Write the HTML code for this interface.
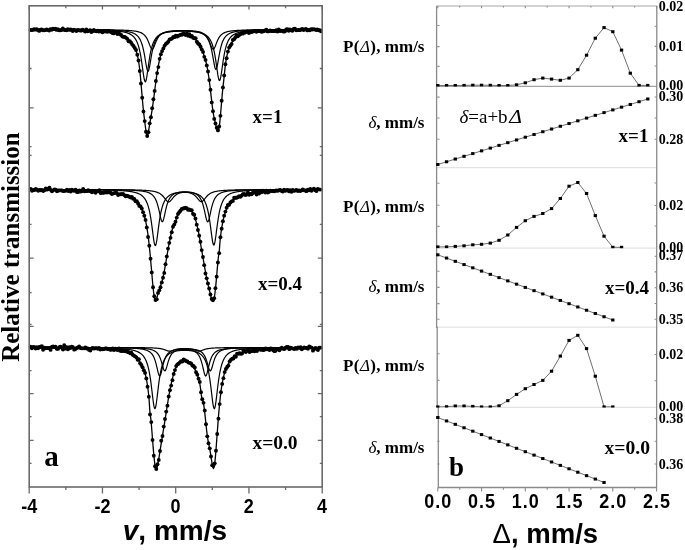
<!DOCTYPE html>
<html><head><meta charset="utf-8"><style>
html,body{margin:0;padding:0;background:#fff;width:685px;height:550px;overflow:hidden}
svg{display:block;filter:blur(0.45px)}
</style></head><body>
<svg width="685" height="550" viewBox="0 0 685 550">
<rect x="0" y="0" width="685" height="550" fill="#fff"/>
<path d="M29.70,29.74 L30.19,29.74 L30.67,29.74 L31.16,29.74 L31.65,29.74 L32.14,29.74 L32.62,29.74 L33.11,29.74 L33.60,29.74 L34.09,29.74 L34.57,29.74 L35.06,29.75 L35.55,29.75 L36.04,29.75 L36.52,29.75 L37.01,29.75 L37.50,29.75 L37.99,29.75 L38.47,29.75 L38.96,29.75 L39.45,29.75 L39.94,29.76 L40.42,29.76 L40.91,29.76 L41.40,29.76 L41.89,29.76 L42.37,29.76 L42.86,29.76 L43.35,29.76 L43.84,29.76 L44.32,29.77 L44.81,29.77 L45.30,29.77 L45.79,29.77 L46.27,29.77 L46.76,29.77 L47.25,29.77 L47.74,29.78 L48.22,29.78 L48.71,29.78 L49.20,29.78 L49.69,29.78 L50.17,29.78 L50.66,29.78 L51.15,29.79 L51.64,29.79 L52.12,29.79 L52.61,29.79 L53.10,29.79 L53.59,29.79 L54.07,29.79 L54.56,29.80 L55.05,29.80 L55.54,29.80 L56.02,29.80 L56.51,29.80 L57.00,29.80 L57.49,29.81 L57.97,29.81 L58.46,29.81 L58.95,29.81 L59.44,29.81 L59.92,29.82 L60.41,29.82 L60.90,29.82 L61.39,29.82 L61.87,29.82 L62.36,29.83 L62.85,29.83 L63.34,29.83 L63.82,29.83 L64.31,29.84 L64.80,29.84 L65.29,29.84 L65.77,29.84 L66.26,29.84 L66.75,29.85 L67.24,29.85 L67.72,29.85 L68.21,29.85 L68.70,29.86 L69.19,29.86 L69.67,29.86 L70.16,29.87 L70.65,29.87 L71.14,29.87 L71.62,29.87 L72.11,29.88 L72.60,29.88 L73.09,29.88 L73.57,29.89 L74.06,29.89 L74.55,29.89 L75.04,29.90 L75.52,29.90 L76.01,29.90 L76.50,29.91 L76.99,29.91 L77.47,29.91 L77.96,29.92 L78.45,29.92 L78.94,29.93 L79.42,29.93 L79.91,29.93 L80.40,29.94 L80.89,29.94 L81.37,29.95 L81.86,29.95 L82.35,29.96 L82.84,29.96 L83.32,29.97 L83.81,29.97 L84.30,29.98 L84.79,29.98 L85.27,29.99 L85.76,29.99 L86.25,30.00 L86.74,30.00 L87.22,30.01 L87.71,30.01 L88.20,30.02 L88.68,30.03 L89.17,30.03 L89.66,30.04 L90.15,30.05 L90.63,30.05 L91.12,30.06 L91.61,30.07 L92.10,30.08 L92.58,30.08 L93.07,30.09 L93.56,30.10 L94.05,30.11 L94.53,30.12 L95.02,30.12 L95.51,30.13 L96.00,30.14 L96.48,30.15 L96.97,30.16 L97.46,30.17 L97.95,30.18 L98.43,30.19 L98.92,30.20 L99.41,30.22 L99.90,30.23 L100.38,30.24 L100.87,30.25 L101.36,30.26 L101.85,30.28 L102.33,30.29 L102.82,30.30 L103.31,30.32 L103.80,30.33 L104.28,30.35 L104.77,30.37 L105.26,30.38 L105.75,30.40 L106.23,30.42 L106.72,30.44 L107.21,30.46 L107.70,30.48 L108.18,30.50 L108.67,30.52 L109.16,30.54 L109.65,30.56 L110.13,30.59 L110.62,30.61 L111.11,30.64 L111.60,30.67 L112.08,30.69 L112.57,30.72 L113.06,30.76 L113.55,30.79 L114.03,30.82 L114.52,30.86 L115.01,30.89 L115.50,30.93 L115.98,30.97 L116.47,31.02 L116.96,31.06 L117.45,31.11 L117.93,31.16 L118.42,31.21 L118.91,31.26 L119.40,31.32 L119.88,31.38 L120.37,31.44 L120.86,31.51 L121.35,31.58 L121.83,31.66 L122.32,31.74 L122.81,31.83 L123.30,31.92 L123.78,32.01 L124.27,32.12 L124.76,32.23 L125.25,32.34 L125.73,32.47 L126.22,32.60 L126.71,32.75 L127.20,32.90 L127.68,33.07 L128.17,33.25 L128.66,33.44 L129.15,33.65 L129.63,33.88 L130.12,34.13 L130.61,34.40 L131.10,34.70 L131.58,35.02 L132.07,35.37 L132.56,35.76 L133.05,36.19 L133.53,36.66 L134.02,37.19 L134.51,37.77 L135.00,38.41 L135.48,39.14 L135.97,39.95 L136.46,40.85 L136.95,41.88 L137.43,43.03 L137.92,44.34 L138.41,45.81 L138.90,47.48 L139.38,49.38 L139.87,51.52 L140.36,53.93 L140.85,56.63 L141.33,59.62 L141.82,62.87 L142.31,66.34 L142.80,69.91 L143.28,73.42 L143.77,76.63 L144.26,79.27 L144.75,81.07 L145.23,81.81 L145.72,81.39 L146.21,79.87 L146.69,77.45 L147.18,74.37 L147.67,70.92 L148.16,67.36 L148.64,63.85 L149.13,60.53 L149.62,57.47 L150.11,54.70 L150.59,52.22 L151.08,50.01 L151.57,48.05 L152.06,46.33 L152.54,44.80 L153.03,43.46 L153.52,42.27 L154.01,41.22 L154.49,40.29 L154.98,39.46 L155.47,38.72 L155.96,38.05 L156.44,37.46 L156.93,36.93 L157.42,36.45 L157.91,36.01 L158.39,35.62 L158.88,35.27 L159.37,34.94 L159.86,34.64 L160.34,34.37 L160.83,34.13 L161.32,33.90 L161.81,33.69 L162.29,33.50 L162.78,33.32 L163.27,33.16 L163.76,33.01 L164.24,32.87 L164.73,32.74 L165.22,32.62 L165.71,32.51 L166.19,32.40 L166.68,32.31 L167.17,32.22 L167.66,32.13 L168.14,32.05 L168.63,31.98 L169.12,31.91 L169.61,31.85 L170.09,31.79 L170.58,31.73 L171.07,31.68 L171.56,31.64 L172.04,31.59 L172.53,31.55 L173.02,31.51 L173.51,31.47 L173.99,31.44 L174.48,31.41 L174.97,31.38 L175.46,31.35 L175.94,31.33 L176.43,31.31 L176.92,31.29 L177.41,31.27 L177.89,31.25 L178.38,31.24 L178.87,31.22 L179.36,31.21 L179.84,31.20 L180.33,31.20 L180.82,31.19 L181.31,31.18 L181.79,31.18 L182.28,31.18 L182.77,31.18 L183.26,31.18 L183.74,31.18 L184.23,31.19 L184.72,31.20 L185.21,31.20 L185.69,31.21 L186.18,31.22 L186.67,31.24 L187.16,31.25 L187.64,31.27 L188.13,31.29 L188.62,31.31 L189.11,31.33 L189.59,31.35 L190.08,31.38 L190.57,31.41 L191.06,31.44 L191.54,31.47 L192.03,31.51 L192.52,31.55 L193.01,31.59 L193.49,31.63 L193.98,31.68 L194.47,31.73 L194.96,31.79 L195.44,31.85 L195.93,31.91 L196.42,31.98 L196.91,32.06 L197.39,32.13 L197.88,32.22 L198.37,32.31 L198.86,32.41 L199.34,32.51 L199.83,32.63 L200.32,32.75 L200.81,32.88 L201.29,33.02 L201.78,33.17 L202.27,33.34 L202.76,33.52 L203.24,33.71 L203.73,33.93 L204.22,34.16 L204.71,34.41 L205.19,34.69 L205.68,34.99 L206.17,35.32 L206.65,35.69 L207.14,36.09 L207.63,36.54 L208.12,37.03 L208.60,37.58 L209.09,38.19 L209.58,38.88 L210.07,39.64 L210.55,40.50 L211.04,41.47 L211.53,42.57 L212.02,43.80 L212.50,45.20 L212.99,46.79 L213.48,48.58 L213.97,50.62 L214.45,52.91 L214.94,55.48 L215.43,58.34 L215.92,61.46 L216.40,64.81 L216.89,68.28 L217.38,71.73 L217.87,74.95 L218.35,77.66 L218.84,79.61 L219.33,80.55 L219.82,80.38 L220.30,79.11 L220.79,76.90 L221.28,74.00 L221.77,70.69 L222.25,67.20 L222.74,63.75 L223.23,60.46 L223.72,57.41 L224.20,54.63 L224.69,52.14 L225.18,49.92 L225.67,47.95 L226.15,46.22 L226.64,44.69 L227.13,43.33 L227.62,42.14 L228.10,41.08 L228.59,40.14 L229.08,39.30 L229.57,38.55 L230.05,37.89 L230.54,37.29 L231.03,36.75 L231.52,36.26 L232.00,35.83 L232.49,35.43 L232.98,35.07 L233.47,34.74 L233.95,34.44 L234.44,34.16 L234.93,33.91 L235.42,33.67 L235.90,33.46 L236.39,33.26 L236.88,33.08 L237.37,32.91 L237.85,32.75 L238.34,32.61 L238.83,32.47 L239.32,32.35 L239.80,32.23 L240.29,32.12 L240.78,32.01 L241.27,31.91 L241.75,31.82 L242.24,31.74 L242.73,31.66 L243.22,31.58 L243.70,31.51 L244.19,31.44 L244.68,31.38 L245.17,31.31 L245.65,31.26 L246.14,31.20 L246.63,31.15 L247.12,31.10 L247.60,31.05 L248.09,31.01 L248.58,30.97 L249.07,30.93 L249.55,30.89 L250.04,30.85 L250.53,30.82 L251.02,30.78 L251.50,30.75 L251.99,30.72 L252.48,30.69 L252.97,30.66 L253.45,30.63 L253.94,30.61 L254.43,30.58 L254.92,30.56 L255.40,30.53 L255.89,30.51 L256.38,30.49 L256.87,30.47 L257.35,30.45 L257.84,30.43 L258.33,30.41 L258.82,30.39 L259.30,30.38 L259.79,30.36 L260.28,30.34 L260.77,30.33 L261.25,30.31 L261.74,30.30 L262.23,30.29 L262.72,30.27 L263.20,30.26 L263.69,30.25 L264.18,30.23 L264.66,30.22 L265.15,30.21 L265.64,30.20 L266.13,30.19 L266.61,30.18 L267.10,30.17 L267.59,30.16 L268.08,30.15 L268.56,30.14 L269.05,30.13 L269.54,30.12 L270.03,30.11 L270.51,30.10 L271.00,30.09 L271.49,30.09 L271.98,30.08 L272.46,30.07 L272.95,30.06 L273.44,30.06 L273.93,30.05 L274.41,30.04 L274.90,30.04 L275.39,30.03 L275.88,30.02 L276.36,30.02 L276.85,30.01 L277.34,30.01 L277.83,30.00 L278.31,29.99 L278.80,29.99 L279.29,29.98 L279.78,29.98 L280.26,29.97 L280.75,29.97 L281.24,29.96 L281.73,29.96 L282.21,29.95 L282.70,29.95 L283.19,29.94 L283.68,29.94 L284.16,29.94 L284.65,29.93 L285.14,29.93 L285.63,29.92 L286.11,29.92 L286.60,29.92 L287.09,29.91 L287.58,29.91 L288.06,29.90 L288.55,29.90 L289.04,29.90 L289.53,29.89 L290.01,29.89 L290.50,29.89 L290.99,29.88 L291.48,29.88 L291.96,29.88 L292.45,29.88 L292.94,29.87 L293.43,29.87 L293.91,29.87 L294.40,29.86 L294.89,29.86 L295.38,29.86 L295.86,29.86 L296.35,29.85 L296.84,29.85 L297.33,29.85 L297.81,29.85 L298.30,29.84 L298.79,29.84 L299.28,29.84 L299.76,29.84 L300.25,29.83 L300.74,29.83 L301.23,29.83 L301.71,29.83 L302.20,29.82 L302.69,29.82 L303.18,29.82 L303.66,29.82 L304.15,29.82 L304.64,29.81 L305.13,29.81 L305.61,29.81 L306.10,29.81 L306.59,29.81 L307.08,29.81 L307.56,29.80 L308.05,29.80 L308.54,29.80 L309.03,29.80 L309.51,29.80 L310.00,29.79 L310.49,29.79 L310.98,29.79 L311.46,29.79 L311.95,29.79 L312.44,29.79 L312.93,29.79 L313.41,29.78 L313.90,29.78 L314.39,29.78 L314.88,29.78 L315.36,29.78 L315.85,29.78 L316.34,29.78 L316.83,29.77 L317.31,29.77 L317.80,29.77 L318.29,29.77 L318.78,29.77 L319.26,29.77 L319.75,29.77 L320.24,29.77 L320.73,29.76 L321.21,29.76 L321.70,29.76" fill="none" stroke="#000" stroke-width="1.2"/>
<path d="M29.70,29.70 L30.19,29.70 L30.67,29.70 L31.16,29.70 L31.65,29.71 L32.14,29.71 L32.62,29.71 L33.11,29.71 L33.60,29.71 L34.09,29.71 L34.57,29.71 L35.06,29.71 L35.55,29.71 L36.04,29.71 L36.52,29.71 L37.01,29.71 L37.50,29.71 L37.99,29.71 L38.47,29.71 L38.96,29.72 L39.45,29.72 L39.94,29.72 L40.42,29.72 L40.91,29.72 L41.40,29.72 L41.89,29.72 L42.37,29.72 L42.86,29.72 L43.35,29.72 L43.84,29.72 L44.32,29.72 L44.81,29.72 L45.30,29.73 L45.79,29.73 L46.27,29.73 L46.76,29.73 L47.25,29.73 L47.74,29.73 L48.22,29.73 L48.71,29.73 L49.20,29.73 L49.69,29.73 L50.17,29.73 L50.66,29.74 L51.15,29.74 L51.64,29.74 L52.12,29.74 L52.61,29.74 L53.10,29.74 L53.59,29.74 L54.07,29.74 L54.56,29.74 L55.05,29.75 L55.54,29.75 L56.02,29.75 L56.51,29.75 L57.00,29.75 L57.49,29.75 L57.97,29.75 L58.46,29.75 L58.95,29.76 L59.44,29.76 L59.92,29.76 L60.41,29.76 L60.90,29.76 L61.39,29.76 L61.87,29.76 L62.36,29.77 L62.85,29.77 L63.34,29.77 L63.82,29.77 L64.31,29.77 L64.80,29.77 L65.29,29.77 L65.77,29.78 L66.26,29.78 L66.75,29.78 L67.24,29.78 L67.72,29.78 L68.21,29.78 L68.70,29.79 L69.19,29.79 L69.67,29.79 L70.16,29.79 L70.65,29.79 L71.14,29.80 L71.62,29.80 L72.11,29.80 L72.60,29.80 L73.09,29.80 L73.57,29.81 L74.06,29.81 L74.55,29.81 L75.04,29.81 L75.52,29.81 L76.01,29.82 L76.50,29.82 L76.99,29.82 L77.47,29.82 L77.96,29.83 L78.45,29.83 L78.94,29.83 L79.42,29.83 L79.91,29.84 L80.40,29.84 L80.89,29.84 L81.37,29.85 L81.86,29.85 L82.35,29.85 L82.84,29.85 L83.32,29.86 L83.81,29.86 L84.30,29.86 L84.79,29.87 L85.27,29.87 L85.76,29.87 L86.25,29.88 L86.74,29.88 L87.22,29.89 L87.71,29.89 L88.20,29.89 L88.68,29.90 L89.17,29.90 L89.66,29.91 L90.15,29.91 L90.63,29.91 L91.12,29.92 L91.61,29.92 L92.10,29.93 L92.58,29.93 L93.07,29.94 L93.56,29.94 L94.05,29.95 L94.53,29.95 L95.02,29.96 L95.51,29.97 L96.00,29.97 L96.48,29.98 L96.97,29.98 L97.46,29.99 L97.95,30.00 L98.43,30.00 L98.92,30.01 L99.41,30.02 L99.90,30.02 L100.38,30.03 L100.87,30.04 L101.36,30.05 L101.85,30.06 L102.33,30.06 L102.82,30.07 L103.31,30.08 L103.80,30.09 L104.28,30.10 L104.77,30.11 L105.26,30.12 L105.75,30.13 L106.23,30.14 L106.72,30.15 L107.21,30.17 L107.70,30.18 L108.18,30.19 L108.67,30.20 L109.16,30.22 L109.65,30.23 L110.13,30.24 L110.62,30.26 L111.11,30.27 L111.60,30.29 L112.08,30.31 L112.57,30.33 L113.06,30.34 L113.55,30.36 L114.03,30.38 L114.52,30.40 L115.01,30.42 L115.50,30.45 L115.98,30.47 L116.47,30.49 L116.96,30.52 L117.45,30.55 L117.93,30.57 L118.42,30.60 L118.91,30.63 L119.40,30.66 L119.88,30.70 L120.37,30.73 L120.86,30.77 L121.35,30.81 L121.83,30.85 L122.32,30.89 L122.81,30.94 L123.30,30.99 L123.78,31.04 L124.27,31.09 L124.76,31.15 L125.25,31.21 L125.73,31.28 L126.22,31.35 L126.71,31.42 L127.20,31.50 L127.68,31.58 L128.17,31.67 L128.66,31.77 L129.15,31.87 L129.63,31.98 L130.12,32.10 L130.61,32.22 L131.10,32.36 L131.58,32.51 L132.07,32.67 L132.56,32.85 L133.05,33.04 L133.53,33.25 L134.02,33.48 L134.51,33.73 L135.00,34.00 L135.48,34.31 L135.97,34.64 L136.46,35.01 L136.95,35.42 L137.43,35.88 L137.92,36.39 L138.41,36.96 L138.90,37.61 L139.38,38.34 L139.87,39.16 L140.36,40.09 L140.85,41.15 L141.33,42.35 L141.82,43.72 L142.31,45.29 L142.80,47.06 L143.28,49.08 L143.77,51.34 L144.26,53.85 L144.75,56.60 L145.23,59.51 L145.72,62.49 L146.21,65.37 L146.69,67.93 L147.18,69.90 L147.67,71.05 L148.16,71.24 L148.64,70.42 L149.13,68.72 L149.62,66.34 L150.11,63.56 L150.59,60.59 L151.08,57.64 L151.57,54.83 L152.06,52.24 L152.54,49.89 L153.03,47.80 L153.52,45.94 L154.01,44.31 L154.49,42.88 L154.98,41.62 L155.47,40.52 L155.96,39.55 L156.44,38.70 L156.93,37.95 L157.42,37.28 L157.91,36.69 L158.39,36.16 L158.88,35.69 L159.37,35.27 L159.86,34.89 L160.34,34.55 L160.83,34.24 L161.32,33.96 L161.81,33.71 L162.29,33.48 L162.78,33.27 L163.27,33.08 L163.76,32.90 L164.24,32.74 L164.73,32.60 L165.22,32.46 L165.71,32.34 L166.19,32.22 L166.68,32.12 L167.17,32.02 L167.66,31.93 L168.14,31.85 L168.63,31.77 L169.12,31.70 L169.61,31.63 L170.09,31.57 L170.58,31.51 L171.07,31.46 L171.56,31.41 L172.04,31.36 L172.53,31.32 L173.02,31.28 L173.51,31.24 L173.99,31.21 L174.48,31.18 L174.97,31.15 L175.46,31.12 L175.94,31.10 L176.43,31.08 L176.92,31.06 L177.41,31.04 L177.89,31.03 L178.38,31.01 L178.87,31.00 L179.36,30.99 L179.84,30.98 L180.33,30.97 L180.82,30.97 L181.31,30.96 L181.79,30.96 L182.28,30.96 L182.77,30.96 L183.26,30.96 L183.74,30.97 L184.23,30.97 L184.72,30.98 L185.21,30.99 L185.69,31.00 L186.18,31.01 L186.67,31.03 L187.16,31.05 L187.64,31.06 L188.13,31.08 L188.62,31.11 L189.11,31.13 L189.59,31.16 L190.08,31.19 L190.57,31.22 L191.06,31.25 L191.54,31.29 L192.03,31.33 L192.52,31.38 L193.01,31.42 L193.49,31.47 L193.98,31.53 L194.47,31.59 L194.96,31.65 L195.44,31.72 L195.93,31.80 L196.42,31.88 L196.91,31.97 L197.39,32.06 L197.88,32.17 L198.37,32.28 L198.86,32.40 L199.34,32.53 L199.83,32.68 L200.32,32.83 L200.81,33.00 L201.29,33.19 L201.78,33.40 L202.27,33.62 L202.76,33.87 L203.24,34.14 L203.73,34.45 L204.22,34.78 L204.71,35.16 L205.19,35.57 L205.68,36.04 L206.17,36.56 L206.65,37.15 L207.14,37.81 L207.63,38.56 L208.12,39.41 L208.60,40.38 L209.09,41.48 L209.58,42.73 L210.07,44.16 L210.55,45.78 L211.04,47.63 L211.53,49.71 L212.02,52.03 L212.50,54.57 L212.99,57.31 L213.48,60.13 L213.97,62.92 L214.45,65.46 L214.94,67.51 L215.43,68.85 L215.92,69.30 L216.40,68.78 L216.89,67.38 L217.38,65.28 L217.87,62.71 L218.35,59.91 L218.84,57.08 L219.33,54.35 L219.82,51.82 L220.30,49.51 L220.79,47.44 L221.28,45.61 L221.77,43.99 L222.25,42.57 L222.74,41.32 L223.23,40.23 L223.72,39.27 L224.20,38.42 L224.69,37.67 L225.18,37.01 L225.67,36.42 L226.15,35.90 L226.64,35.43 L227.13,35.01 L227.62,34.63 L228.10,34.29 L228.59,33.98 L229.08,33.71 L229.57,33.45 L230.05,33.22 L230.54,33.01 L231.03,32.82 L231.52,32.64 L232.00,32.48 L232.49,32.33 L232.98,32.19 L233.47,32.07 L233.95,31.95 L234.44,31.84 L234.93,31.73 L235.42,31.64 L235.90,31.55 L236.39,31.47 L236.88,31.39 L237.37,31.32 L237.85,31.25 L238.34,31.18 L238.83,31.12 L239.32,31.07 L239.80,31.01 L240.29,30.96 L240.78,30.91 L241.27,30.87 L241.75,30.83 L242.24,30.79 L242.73,30.75 L243.22,30.71 L243.70,30.68 L244.19,30.64 L244.68,30.61 L245.17,30.58 L245.65,30.55 L246.14,30.53 L246.63,30.50 L247.12,30.47 L247.60,30.45 L248.09,30.43 L248.58,30.41 L249.07,30.39 L249.55,30.37 L250.04,30.35 L250.53,30.33 L251.02,30.31 L251.50,30.29 L251.99,30.28 L252.48,30.26 L252.97,30.25 L253.45,30.23 L253.94,30.22 L254.43,30.20 L254.92,30.19 L255.40,30.18 L255.89,30.16 L256.38,30.15 L256.87,30.14 L257.35,30.13 L257.84,30.12 L258.33,30.11 L258.82,30.10 L259.30,30.09 L259.79,30.08 L260.28,30.07 L260.77,30.06 L261.25,30.05 L261.74,30.05 L262.23,30.04 L262.72,30.03 L263.20,30.02 L263.69,30.02 L264.18,30.01 L264.66,30.00 L265.15,29.99 L265.64,29.99 L266.13,29.98 L266.61,29.98 L267.10,29.97 L267.59,29.96 L268.08,29.96 L268.56,29.95 L269.05,29.95 L269.54,29.94 L270.03,29.94 L270.51,29.93 L271.00,29.93 L271.49,29.92 L271.98,29.92 L272.46,29.91 L272.95,29.91 L273.44,29.90 L273.93,29.90 L274.41,29.90 L274.90,29.89 L275.39,29.89 L275.88,29.88 L276.36,29.88 L276.85,29.88 L277.34,29.87 L277.83,29.87 L278.31,29.87 L278.80,29.86 L279.29,29.86 L279.78,29.86 L280.26,29.85 L280.75,29.85 L281.24,29.85 L281.73,29.84 L282.21,29.84 L282.70,29.84 L283.19,29.84 L283.68,29.83 L284.16,29.83 L284.65,29.83 L285.14,29.82 L285.63,29.82 L286.11,29.82 L286.60,29.82 L287.09,29.82 L287.58,29.81 L288.06,29.81 L288.55,29.81 L289.04,29.81 L289.53,29.80 L290.01,29.80 L290.50,29.80 L290.99,29.80 L291.48,29.80 L291.96,29.79 L292.45,29.79 L292.94,29.79 L293.43,29.79 L293.91,29.79 L294.40,29.78 L294.89,29.78 L295.38,29.78 L295.86,29.78 L296.35,29.78 L296.84,29.78 L297.33,29.77 L297.81,29.77 L298.30,29.77 L298.79,29.77 L299.28,29.77 L299.76,29.77 L300.25,29.77 L300.74,29.76 L301.23,29.76 L301.71,29.76 L302.20,29.76 L302.69,29.76 L303.18,29.76 L303.66,29.76 L304.15,29.75 L304.64,29.75 L305.13,29.75 L305.61,29.75 L306.10,29.75 L306.59,29.75 L307.08,29.75 L307.56,29.75 L308.05,29.74 L308.54,29.74 L309.03,29.74 L309.51,29.74 L310.00,29.74 L310.49,29.74 L310.98,29.74 L311.46,29.74 L311.95,29.74 L312.44,29.73 L312.93,29.73 L313.41,29.73 L313.90,29.73 L314.39,29.73 L314.88,29.73 L315.36,29.73 L315.85,29.73 L316.34,29.73 L316.83,29.73 L317.31,29.73 L317.80,29.72 L318.29,29.72 L318.78,29.72 L319.26,29.72 L319.75,29.72 L320.24,29.72 L320.73,29.72 L321.21,29.72 L321.70,29.72" fill="none" stroke="#000" stroke-width="1.2"/>
<path d="M29.70,29.67 L30.19,29.67 L30.67,29.67 L31.16,29.67 L31.65,29.67 L32.14,29.67 L32.62,29.67 L33.11,29.67 L33.60,29.67 L34.09,29.67 L34.57,29.67 L35.06,29.67 L35.55,29.67 L36.04,29.67 L36.52,29.67 L37.01,29.67 L37.50,29.67 L37.99,29.67 L38.47,29.67 L38.96,29.67 L39.45,29.67 L39.94,29.67 L40.42,29.67 L40.91,29.67 L41.40,29.68 L41.89,29.68 L42.37,29.68 L42.86,29.68 L43.35,29.68 L43.84,29.68 L44.32,29.68 L44.81,29.68 L45.30,29.68 L45.79,29.68 L46.27,29.68 L46.76,29.68 L47.25,29.68 L47.74,29.68 L48.22,29.68 L48.71,29.68 L49.20,29.68 L49.69,29.68 L50.17,29.68 L50.66,29.68 L51.15,29.68 L51.64,29.68 L52.12,29.69 L52.61,29.69 L53.10,29.69 L53.59,29.69 L54.07,29.69 L54.56,29.69 L55.05,29.69 L55.54,29.69 L56.02,29.69 L56.51,29.69 L57.00,29.69 L57.49,29.69 L57.97,29.69 L58.46,29.69 L58.95,29.69 L59.44,29.69 L59.92,29.70 L60.41,29.70 L60.90,29.70 L61.39,29.70 L61.87,29.70 L62.36,29.70 L62.85,29.70 L63.34,29.70 L63.82,29.70 L64.31,29.70 L64.80,29.70 L65.29,29.70 L65.77,29.70 L66.26,29.70 L66.75,29.71 L67.24,29.71 L67.72,29.71 L68.21,29.71 L68.70,29.71 L69.19,29.71 L69.67,29.71 L70.16,29.71 L70.65,29.71 L71.14,29.71 L71.62,29.71 L72.11,29.72 L72.60,29.72 L73.09,29.72 L73.57,29.72 L74.06,29.72 L74.55,29.72 L75.04,29.72 L75.52,29.72 L76.01,29.72 L76.50,29.73 L76.99,29.73 L77.47,29.73 L77.96,29.73 L78.45,29.73 L78.94,29.73 L79.42,29.73 L79.91,29.73 L80.40,29.74 L80.89,29.74 L81.37,29.74 L81.86,29.74 L82.35,29.74 L82.84,29.74 L83.32,29.74 L83.81,29.75 L84.30,29.75 L84.79,29.75 L85.27,29.75 L85.76,29.75 L86.25,29.75 L86.74,29.76 L87.22,29.76 L87.71,29.76 L88.20,29.76 L88.68,29.76 L89.17,29.76 L89.66,29.77 L90.15,29.77 L90.63,29.77 L91.12,29.77 L91.61,29.78 L92.10,29.78 L92.58,29.78 L93.07,29.78 L93.56,29.78 L94.05,29.79 L94.53,29.79 L95.02,29.79 L95.51,29.79 L96.00,29.80 L96.48,29.80 L96.97,29.80 L97.46,29.81 L97.95,29.81 L98.43,29.81 L98.92,29.81 L99.41,29.82 L99.90,29.82 L100.38,29.82 L100.87,29.83 L101.36,29.83 L101.85,29.84 L102.33,29.84 L102.82,29.84 L103.31,29.85 L103.80,29.85 L104.28,29.85 L104.77,29.86 L105.26,29.86 L105.75,29.87 L106.23,29.87 L106.72,29.88 L107.21,29.88 L107.70,29.89 L108.18,29.89 L108.67,29.90 L109.16,29.90 L109.65,29.91 L110.13,29.92 L110.62,29.92 L111.11,29.93 L111.60,29.94 L112.08,29.94 L112.57,29.95 L113.06,29.96 L113.55,29.96 L114.03,29.97 L114.52,29.98 L115.01,29.99 L115.50,30.00 L115.98,30.01 L116.47,30.02 L116.96,30.03 L117.45,30.04 L117.93,30.05 L118.42,30.06 L118.91,30.07 L119.40,30.08 L119.88,30.10 L120.37,30.11 L120.86,30.12 L121.35,30.14 L121.83,30.15 L122.32,30.17 L122.81,30.18 L123.30,30.20 L123.78,30.22 L124.27,30.24 L124.76,30.26 L125.25,30.28 L125.73,30.30 L126.22,30.33 L126.71,30.35 L127.20,30.38 L127.68,30.40 L128.17,30.43 L128.66,30.46 L129.15,30.50 L129.63,30.53 L130.12,30.57 L130.61,30.61 L131.10,30.65 L131.58,30.69 L132.07,30.74 L132.56,30.79 L133.05,30.85 L133.53,30.90 L134.02,30.97 L134.51,31.03 L135.00,31.10 L135.48,31.18 L135.97,31.27 L136.46,31.36 L136.95,31.46 L137.43,31.56 L137.92,31.68 L138.41,31.81 L138.90,31.95 L139.38,32.10 L139.87,32.27 L140.36,32.46 L140.85,32.67 L141.33,32.89 L141.82,33.15 L142.31,33.43 L142.80,33.74 L143.28,34.10 L143.77,34.49 L144.26,34.93 L144.75,35.43 L145.23,36.00 L145.72,36.63 L146.21,37.34 L146.69,38.15 L147.18,39.04 L147.67,40.04 L148.16,41.14 L148.64,42.32 L149.13,43.58 L149.62,44.86 L150.11,46.12 L150.59,47.28 L151.08,48.24 L151.57,48.91 L152.06,49.23 L152.54,49.14 L153.03,48.68 L153.52,47.88 L154.01,46.83 L154.49,45.63 L154.98,44.35 L155.47,43.08 L155.96,41.85 L156.44,40.70 L156.93,39.65 L157.42,38.70 L157.91,37.85 L158.39,37.09 L158.88,36.41 L159.37,35.81 L159.86,35.28 L160.34,34.81 L160.83,34.39 L161.32,34.02 L161.81,33.69 L162.29,33.39 L162.78,33.13 L163.27,32.89 L163.76,32.67 L164.24,32.48 L164.73,32.31 L165.22,32.15 L165.71,32.01 L166.19,31.88 L166.68,31.76 L167.17,31.65 L167.66,31.55 L168.14,31.46 L168.63,31.38 L169.12,31.30 L169.61,31.23 L170.09,31.17 L170.58,31.11 L171.07,31.06 L171.56,31.01 L172.04,30.96 L172.53,30.92 L173.02,30.88 L173.51,30.85 L173.99,30.81 L174.48,30.78 L174.97,30.76 L175.46,30.73 L175.94,30.71 L176.43,30.69 L176.92,30.67 L177.41,30.65 L177.89,30.63 L178.38,30.62 L178.87,30.61 L179.36,30.60 L179.84,30.59 L180.33,30.58 L180.82,30.58 L181.31,30.57 L181.79,30.57 L182.28,30.57 L182.77,30.57 L183.26,30.57 L183.74,30.57 L184.23,30.57 L184.72,30.58 L185.21,30.58 L185.69,30.59 L186.18,30.60 L186.67,30.61 L187.16,30.62 L187.64,30.64 L188.13,30.65 L188.62,30.67 L189.11,30.69 L189.59,30.71 L190.08,30.74 L190.57,30.76 L191.06,30.79 L191.54,30.82 L192.03,30.86 L192.52,30.89 L193.01,30.93 L193.49,30.98 L193.98,31.02 L194.47,31.07 L194.96,31.13 L195.44,31.19 L195.93,31.25 L196.42,31.33 L196.91,31.40 L197.39,31.49 L197.88,31.58 L198.37,31.68 L198.86,31.79 L199.34,31.91 L199.83,32.05 L200.32,32.19 L200.81,32.35 L201.29,32.53 L201.78,32.73 L202.27,32.95 L202.76,33.20 L203.24,33.47 L203.73,33.78 L204.22,34.12 L204.71,34.50 L205.19,34.94 L205.68,35.42 L206.17,35.97 L206.65,36.59 L207.14,37.29 L207.63,38.08 L208.12,38.96 L208.60,39.94 L209.09,41.02 L209.58,42.19 L210.07,43.43 L210.55,44.71 L211.04,45.97 L211.53,47.14 L212.02,48.13 L212.50,48.85 L212.99,49.21 L213.48,49.18 L213.97,48.75 L214.45,47.99 L214.94,46.97 L215.43,45.77 L215.92,44.50 L216.40,43.22 L216.89,41.98 L217.38,40.82 L217.87,39.75 L218.35,38.78 L218.84,37.91 L219.33,37.14 L219.82,36.44 L220.30,35.83 L220.79,35.29 L221.28,34.80 L221.77,34.37 L222.25,33.99 L222.74,33.65 L223.23,33.35 L223.72,33.07 L224.20,32.83 L224.69,32.61 L225.18,32.41 L225.67,32.22 L226.15,32.06 L226.64,31.91 L227.13,31.77 L227.62,31.65 L228.10,31.53 L228.59,31.43 L229.08,31.33 L229.57,31.24 L230.05,31.16 L230.54,31.08 L231.03,31.01 L231.52,30.95 L232.00,30.89 L232.49,30.83 L232.98,30.78 L233.47,30.73 L233.95,30.68 L234.44,30.64 L234.93,30.60 L235.42,30.56 L235.90,30.52 L236.39,30.49 L236.88,30.46 L237.37,30.43 L237.85,30.40 L238.34,30.37 L238.83,30.34 L239.32,30.32 L239.80,30.30 L240.29,30.27 L240.78,30.25 L241.27,30.23 L241.75,30.22 L242.24,30.20 L242.73,30.18 L243.22,30.16 L243.70,30.15 L244.19,30.13 L244.68,30.12 L245.17,30.11 L245.65,30.09 L246.14,30.08 L246.63,30.07 L247.12,30.06 L247.60,30.04 L248.09,30.03 L248.58,30.02 L249.07,30.01 L249.55,30.00 L250.04,30.00 L250.53,29.99 L251.02,29.98 L251.50,29.97 L251.99,29.96 L252.48,29.95 L252.97,29.95 L253.45,29.94 L253.94,29.93 L254.43,29.93 L254.92,29.92 L255.40,29.91 L255.89,29.91 L256.38,29.90 L256.87,29.90 L257.35,29.89 L257.84,29.89 L258.33,29.88 L258.82,29.88 L259.30,29.87 L259.79,29.87 L260.28,29.86 L260.77,29.86 L261.25,29.85 L261.74,29.85 L262.23,29.85 L262.72,29.84 L263.20,29.84 L263.69,29.83 L264.18,29.83 L264.66,29.83 L265.15,29.82 L265.64,29.82 L266.13,29.82 L266.61,29.81 L267.10,29.81 L267.59,29.81 L268.08,29.80 L268.56,29.80 L269.05,29.80 L269.54,29.80 L270.03,29.79 L270.51,29.79 L271.00,29.79 L271.49,29.79 L271.98,29.78 L272.46,29.78 L272.95,29.78 L273.44,29.78 L273.93,29.77 L274.41,29.77 L274.90,29.77 L275.39,29.77 L275.88,29.77 L276.36,29.76 L276.85,29.76 L277.34,29.76 L277.83,29.76 L278.31,29.76 L278.80,29.76 L279.29,29.75 L279.78,29.75 L280.26,29.75 L280.75,29.75 L281.24,29.75 L281.73,29.75 L282.21,29.74 L282.70,29.74 L283.19,29.74 L283.68,29.74 L284.16,29.74 L284.65,29.74 L285.14,29.74 L285.63,29.73 L286.11,29.73 L286.60,29.73 L287.09,29.73 L287.58,29.73 L288.06,29.73 L288.55,29.73 L289.04,29.73 L289.53,29.72 L290.01,29.72 L290.50,29.72 L290.99,29.72 L291.48,29.72 L291.96,29.72 L292.45,29.72 L292.94,29.72 L293.43,29.72 L293.91,29.71 L294.40,29.71 L294.89,29.71 L295.38,29.71 L295.86,29.71 L296.35,29.71 L296.84,29.71 L297.33,29.71 L297.81,29.71 L298.30,29.71 L298.79,29.71 L299.28,29.70 L299.76,29.70 L300.25,29.70 L300.74,29.70 L301.23,29.70 L301.71,29.70 L302.20,29.70 L302.69,29.70 L303.18,29.70 L303.66,29.70 L304.15,29.70 L304.64,29.70 L305.13,29.70 L305.61,29.69 L306.10,29.69 L306.59,29.69 L307.08,29.69 L307.56,29.69 L308.05,29.69 L308.54,29.69 L309.03,29.69 L309.51,29.69 L310.00,29.69 L310.49,29.69 L310.98,29.69 L311.46,29.69 L311.95,29.69 L312.44,29.69 L312.93,29.69 L313.41,29.69 L313.90,29.68 L314.39,29.68 L314.88,29.68 L315.36,29.68 L315.85,29.68 L316.34,29.68 L316.83,29.68 L317.31,29.68 L317.80,29.68 L318.29,29.68 L318.78,29.68 L319.26,29.68 L319.75,29.68 L320.24,29.68 L320.73,29.68 L321.21,29.68 L321.70,29.68" fill="none" stroke="#000" stroke-width="1.2"/>
<path d="M29.70,29.92 L30.19,29.92 L30.67,29.92 L31.16,29.92 L31.65,29.93 L32.14,29.93 L32.62,29.93 L33.11,29.93 L33.60,29.93 L34.09,29.94 L34.57,29.94 L35.06,29.94 L35.55,29.94 L36.04,29.95 L36.52,29.95 L37.01,29.95 L37.50,29.95 L37.99,29.96 L38.47,29.96 L38.96,29.96 L39.45,29.97 L39.94,29.97 L40.42,29.97 L40.91,29.97 L41.40,29.98 L41.89,29.98 L42.37,29.98 L42.86,29.99 L43.35,29.99 L43.84,29.99 L44.32,29.99 L44.81,30.00 L45.30,30.00 L45.79,30.00 L46.27,30.01 L46.76,30.01 L47.25,30.01 L47.74,30.02 L48.22,30.02 L48.71,30.02 L49.20,30.03 L49.69,30.03 L50.17,30.04 L50.66,30.04 L51.15,30.04 L51.64,30.05 L52.12,30.05 L52.61,30.05 L53.10,30.06 L53.59,30.06 L54.07,30.07 L54.56,30.07 L55.05,30.07 L55.54,30.08 L56.02,30.08 L56.51,30.09 L57.00,30.09 L57.49,30.10 L57.97,30.10 L58.46,30.11 L58.95,30.11 L59.44,30.11 L59.92,30.12 L60.41,30.12 L60.90,30.13 L61.39,30.13 L61.87,30.14 L62.36,30.14 L62.85,30.15 L63.34,30.16 L63.82,30.16 L64.31,30.17 L64.80,30.17 L65.29,30.18 L65.77,30.18 L66.26,30.19 L66.75,30.20 L67.24,30.20 L67.72,30.21 L68.21,30.21 L68.70,30.22 L69.19,30.23 L69.67,30.23 L70.16,30.24 L70.65,30.25 L71.14,30.25 L71.62,30.26 L72.11,30.27 L72.60,30.28 L73.09,30.28 L73.57,30.29 L74.06,30.30 L74.55,30.31 L75.04,30.31 L75.52,30.32 L76.01,30.33 L76.50,30.34 L76.99,30.35 L77.47,30.36 L77.96,30.37 L78.45,30.38 L78.94,30.38 L79.42,30.39 L79.91,30.40 L80.40,30.41 L80.89,30.42 L81.37,30.43 L81.86,30.44 L82.35,30.45 L82.84,30.47 L83.32,30.48 L83.81,30.49 L84.30,30.50 L84.79,30.51 L85.27,30.52 L85.76,30.54 L86.25,30.55 L86.74,30.56 L87.22,30.57 L87.71,30.59 L88.20,30.60 L88.68,30.62 L89.17,30.63 L89.66,30.65 L90.15,30.66 L90.63,30.68 L91.12,30.69 L91.61,30.71 L92.10,30.72 L92.58,30.74 L93.07,30.76 L93.56,30.78 L94.05,30.80 L94.53,30.81 L95.02,30.83 L95.51,30.85 L96.00,30.87 L96.48,30.90 L96.97,30.92 L97.46,30.94 L97.95,30.96 L98.43,30.99 L98.92,31.01 L99.41,31.04 L99.90,31.07 L100.38,31.09 L100.87,31.12 L101.36,31.15 L101.85,31.18 L102.33,31.22 L102.82,31.25 L103.31,31.28 L103.80,31.32 L104.28,31.36 L104.77,31.40 L105.26,31.44 L105.75,31.48 L106.23,31.53 L106.72,31.58 L107.21,31.63 L107.70,31.68 L108.18,31.73 L108.67,31.79 L109.16,31.85 L109.65,31.92 L110.13,31.99 L110.62,32.06 L111.11,32.13 L111.60,32.21 L112.08,32.30 L112.57,32.38 L113.06,32.48 L113.55,32.58 L114.03,32.68 L114.52,32.79 L115.01,32.91 L115.50,33.03 L115.98,33.16 L116.47,33.30 L116.96,33.44 L117.45,33.60 L117.93,33.76 L118.42,33.93 L118.91,34.11 L119.40,34.30 L119.88,34.49 L120.37,34.70 L120.86,34.92 L121.35,35.15 L121.83,35.40 L122.32,35.65 L122.81,35.92 L123.30,36.20 L123.78,36.49 L124.27,36.80 L124.76,37.12 L125.25,37.46 L125.73,37.81 L126.22,38.18 L126.71,38.56 L127.20,38.96 L127.68,39.38 L128.17,39.82 L128.66,40.27 L129.15,40.74 L129.63,41.23 L130.12,41.74 L130.61,42.28 L131.10,42.84 L131.58,43.42 L132.07,44.03 L132.56,44.67 L133.05,45.34 L133.53,46.06 L134.02,46.82 L134.51,47.65 L135.00,48.55 L135.48,49.55 L135.97,50.68 L136.46,51.99 L136.95,53.52 L137.43,55.35 L137.92,57.54 L138.41,60.16 L138.90,63.29 L139.38,66.97 L139.87,71.22 L140.36,76.03 L140.85,81.32 L141.33,86.98 L141.82,92.83 L142.31,98.64 L142.80,104.14 L143.28,109.14 L143.77,113.59 L144.26,117.66 L144.75,121.57 L145.23,125.46 L145.72,129.27 L146.21,132.65 L146.69,135.05 L147.18,135.95 L147.67,135.23 L148.16,133.26 L148.64,130.57 L149.13,127.60 L149.62,124.61 L150.11,121.70 L150.59,118.86 L151.08,116.02 L151.57,113.11 L152.06,110.05 L152.54,106.81 L153.03,103.38 L153.52,99.79 L154.01,96.08 L154.49,92.30 L154.98,88.52 L155.47,84.78 L155.96,81.14 L156.44,77.63 L156.93,74.28 L157.42,71.11 L157.91,68.15 L158.39,65.39 L158.88,62.85 L159.37,60.53 L159.86,58.40 L160.34,56.47 L160.83,54.73 L161.32,53.15 L161.81,51.73 L162.29,50.45 L162.78,49.29 L163.27,48.24 L163.76,47.29 L164.24,46.42 L164.73,45.63 L165.22,44.90 L165.71,44.22 L166.19,43.59 L166.68,43.00 L167.17,42.45 L167.66,41.94 L168.14,41.45 L168.63,40.99 L169.12,40.55 L169.61,40.13 L170.09,39.74 L170.58,39.36 L171.07,39.01 L171.56,38.67 L172.04,38.35 L172.53,38.05 L173.02,37.76 L173.51,37.49 L173.99,37.23 L174.48,36.99 L174.97,36.76 L175.46,36.55 L175.94,36.35 L176.43,36.16 L176.92,35.98 L177.41,35.82 L177.89,35.67 L178.38,35.53 L178.87,35.41 L179.36,35.29 L179.84,35.19 L180.33,35.09 L180.82,35.01 L181.31,34.94 L181.79,34.88 L182.28,34.83 L182.77,34.79 L183.26,34.76 L183.74,34.74 L184.23,34.73 L184.72,34.74 L185.21,34.75 L185.69,34.78 L186.18,34.82 L186.67,34.87 L187.16,34.94 L187.64,35.02 L188.13,35.12 L188.62,35.23 L189.11,35.36 L189.59,35.51 L190.08,35.68 L190.57,35.87 L191.06,36.08 L191.54,36.32 L192.03,36.57 L192.52,36.86 L193.01,37.17 L193.49,37.52 L193.98,37.89 L194.47,38.30 L194.96,38.75 L195.44,39.23 L195.93,39.74 L196.42,40.30 L196.91,40.90 L197.39,41.54 L197.88,42.23 L198.37,42.96 L198.86,43.74 L199.34,44.57 L199.83,45.45 L200.32,46.38 L200.81,47.36 L201.29,48.39 L201.78,49.48 L202.27,50.62 L202.76,51.82 L203.24,53.09 L203.73,54.44 L204.22,55.87 L204.71,57.39 L205.19,59.03 L205.68,60.80 L206.17,62.74 L206.65,64.87 L207.14,67.22 L207.63,69.81 L208.12,72.68 L208.60,75.83 L209.09,79.27 L209.58,82.98 L210.07,86.95 L210.55,91.11 L211.04,95.39 L211.53,99.68 L212.02,103.85 L212.50,107.77 L212.99,111.29 L213.48,114.35 L213.97,116.99 L214.45,119.29 L214.94,121.37 L215.43,123.36 L215.92,125.30 L216.40,127.15 L216.89,128.79 L217.38,130.04 L217.87,130.63 L218.35,130.28 L218.84,128.78 L219.33,126.04 L219.82,122.13 L220.30,117.26 L220.79,111.73 L221.28,105.84 L221.77,99.93 L222.25,94.33 L222.74,89.30 L223.23,84.87 L223.72,80.64 L224.20,76.00 L224.69,71.08 L225.18,66.55 L225.67,62.75 L226.15,59.64 L226.64,57.08 L227.13,54.90 L227.62,53.01 L228.10,51.33 L228.59,49.83 L229.08,48.47 L229.57,47.23 L230.05,46.09 L230.54,45.04 L231.03,44.06 L231.52,43.16 L232.00,42.31 L232.49,41.52 L232.98,40.78 L233.47,40.09 L233.95,39.45 L234.44,38.85 L234.93,38.30 L235.42,37.78 L235.90,37.30 L236.39,36.85 L236.88,36.44 L237.37,36.06 L237.85,35.70 L238.34,35.38 L238.83,35.07 L239.32,34.80 L239.80,34.54 L240.29,34.30 L240.78,34.08 L241.27,33.88 L241.75,33.69 L242.24,33.51 L242.73,33.35 L243.22,33.20 L243.70,33.07 L244.19,32.94 L244.68,32.82 L245.17,32.71 L245.65,32.60 L246.14,32.50 L246.63,32.41 L247.12,32.33 L247.60,32.25 L248.09,32.17 L248.58,32.10 L249.07,32.03 L249.55,31.97 L250.04,31.91 L250.53,31.85 L251.02,31.79 L251.50,31.74 L251.99,31.69 L252.48,31.64 L252.97,31.60 L253.45,31.55 L253.94,31.51 L254.43,31.47 L254.92,31.43 L255.40,31.39 L255.89,31.35 L256.38,31.32 L256.87,31.28 L257.35,31.25 L257.84,31.22 L258.33,31.19 L258.82,31.16 L259.30,31.13 L259.79,31.10 L260.28,31.07 L260.77,31.04 L261.25,31.02 L261.74,30.99 L262.23,30.97 L262.72,30.94 L263.20,30.92 L263.69,30.90 L264.18,30.88 L264.66,30.86 L265.15,30.84 L265.64,30.82 L266.13,30.80 L266.61,30.78 L267.10,30.76 L267.59,30.74 L268.08,30.72 L268.56,30.70 L269.05,30.69 L269.54,30.67 L270.03,30.66 L270.51,30.64 L271.00,30.62 L271.49,30.61 L271.98,30.59 L272.46,30.58 L272.95,30.57 L273.44,30.55 L273.93,30.54 L274.41,30.53 L274.90,30.51 L275.39,30.50 L275.88,30.49 L276.36,30.48 L276.85,30.47 L277.34,30.45 L277.83,30.44 L278.31,30.43 L278.80,30.42 L279.29,30.41 L279.78,30.40 L280.26,30.39 L280.75,30.38 L281.24,30.37 L281.73,30.36 L282.21,30.35 L282.70,30.34 L283.19,30.33 L283.68,30.33 L284.16,30.32 L284.65,30.31 L285.14,30.30 L285.63,30.29 L286.11,30.28 L286.60,30.28 L287.09,30.27 L287.58,30.26 L288.06,30.25 L288.55,30.25 L289.04,30.24 L289.53,30.23 L290.01,30.23 L290.50,30.22 L290.99,30.21 L291.48,30.21 L291.96,30.20 L292.45,30.19 L292.94,30.19 L293.43,30.18 L293.91,30.18 L294.40,30.17 L294.89,30.16 L295.38,30.16 L295.86,30.15 L296.35,30.15 L296.84,30.14 L297.33,30.14 L297.81,30.13 L298.30,30.13 L298.79,30.12 L299.28,30.12 L299.76,30.11 L300.25,30.11 L300.74,30.10 L301.23,30.10 L301.71,30.09 L302.20,30.09 L302.69,30.08 L303.18,30.08 L303.66,30.07 L304.15,30.07 L304.64,30.07 L305.13,30.06 L305.61,30.06 L306.10,30.05 L306.59,30.05 L307.08,30.05 L307.56,30.04 L308.05,30.04 L308.54,30.03 L309.03,30.03 L309.51,30.03 L310.00,30.02 L310.49,30.02 L310.98,30.02 L311.46,30.01 L311.95,30.01 L312.44,30.01 L312.93,30.00 L313.41,30.00 L313.90,30.00 L314.39,29.99 L314.88,29.99 L315.36,29.99 L315.85,29.98 L316.34,29.98 L316.83,29.98 L317.31,29.97 L317.80,29.97 L318.29,29.97 L318.78,29.97 L319.26,29.96 L319.75,29.96 L320.24,29.96 L320.73,29.96 L321.21,29.95 L321.70,29.95" fill="none" stroke="#000" stroke-width="1.3"/>
<g fill="#000"><circle cx="30.52" cy="29.92" r="1.95"/><circle cx="31.77" cy="30.14" r="1.95"/><circle cx="33.01" cy="29.74" r="1.95"/><circle cx="34.25" cy="29.31" r="1.95"/><circle cx="35.49" cy="29.63" r="1.95"/><circle cx="36.73" cy="29.26" r="1.95"/><circle cx="37.97" cy="30.00" r="1.95"/><circle cx="39.21" cy="30.90" r="1.95"/><circle cx="40.45" cy="29.63" r="1.95"/><circle cx="41.70" cy="29.54" r="1.95"/><circle cx="42.94" cy="30.33" r="1.95"/><circle cx="44.18" cy="30.24" r="1.95"/><circle cx="45.42" cy="30.08" r="1.95"/><circle cx="46.66" cy="29.36" r="1.95"/><circle cx="47.90" cy="30.00" r="1.95"/><circle cx="49.14" cy="30.51" r="1.95"/><circle cx="50.38" cy="29.10" r="1.95"/><circle cx="51.63" cy="29.73" r="1.95"/><circle cx="52.87" cy="28.73" r="1.95"/><circle cx="54.11" cy="29.16" r="1.95"/><circle cx="55.35" cy="28.79" r="1.95"/><circle cx="56.59" cy="29.92" r="1.95"/><circle cx="57.83" cy="29.21" r="1.95"/><circle cx="59.07" cy="30.30" r="1.95"/><circle cx="60.31" cy="30.23" r="1.95"/><circle cx="61.56" cy="30.01" r="1.95"/><circle cx="62.80" cy="28.39" r="1.95"/><circle cx="64.04" cy="29.79" r="1.95"/><circle cx="65.28" cy="30.14" r="1.95"/><circle cx="66.52" cy="30.27" r="1.95"/><circle cx="67.76" cy="29.14" r="1.95"/><circle cx="69.00" cy="29.89" r="1.95"/><circle cx="70.24" cy="29.56" r="1.95"/><circle cx="71.49" cy="29.69" r="1.95"/><circle cx="72.73" cy="31.02" r="1.95"/><circle cx="73.97" cy="29.73" r="1.95"/><circle cx="75.21" cy="30.29" r="1.95"/><circle cx="76.45" cy="30.96" r="1.95"/><circle cx="77.69" cy="29.95" r="1.95"/><circle cx="78.93" cy="30.31" r="1.95"/><circle cx="80.17" cy="30.49" r="1.95"/><circle cx="81.41" cy="30.48" r="1.95"/><circle cx="82.66" cy="29.60" r="1.95"/><circle cx="83.90" cy="30.54" r="1.95"/><circle cx="85.14" cy="31.47" r="1.95"/><circle cx="86.38" cy="29.47" r="1.95"/><circle cx="87.62" cy="31.19" r="1.95"/><circle cx="88.86" cy="30.70" r="1.95"/><circle cx="90.10" cy="30.21" r="1.95"/><circle cx="91.34" cy="32.10" r="1.95"/><circle cx="92.59" cy="31.28" r="1.95"/><circle cx="93.83" cy="29.95" r="1.95"/><circle cx="95.07" cy="30.89" r="1.95"/><circle cx="96.31" cy="31.29" r="1.95"/><circle cx="97.55" cy="30.81" r="1.95"/><circle cx="98.79" cy="31.48" r="1.95"/><circle cx="100.03" cy="31.03" r="1.95"/><circle cx="101.27" cy="31.61" r="1.95"/><circle cx="102.52" cy="32.23" r="1.95"/><circle cx="103.76" cy="30.84" r="1.95"/><circle cx="105.00" cy="31.56" r="1.95"/><circle cx="106.24" cy="31.20" r="1.95"/><circle cx="107.48" cy="31.74" r="1.95"/><circle cx="108.72" cy="30.97" r="1.95"/><circle cx="109.96" cy="31.56" r="1.95"/><circle cx="111.20" cy="32.01" r="1.95"/><circle cx="112.45" cy="32.99" r="1.95"/><circle cx="113.69" cy="33.41" r="1.95"/><circle cx="114.93" cy="31.96" r="1.95"/><circle cx="116.17" cy="32.66" r="1.95"/><circle cx="117.41" cy="34.04" r="1.95"/><circle cx="118.65" cy="32.62" r="1.95"/><circle cx="119.89" cy="34.17" r="1.95"/><circle cx="121.13" cy="34.98" r="1.95"/><circle cx="122.38" cy="36.56" r="1.95"/><circle cx="123.62" cy="36.87" r="1.95"/><circle cx="124.86" cy="36.96" r="1.95"/><circle cx="126.10" cy="37.83" r="1.95"/><circle cx="127.34" cy="38.91" r="1.95"/><circle cx="128.58" cy="41.26" r="1.95"/><circle cx="129.82" cy="41.13" r="1.95"/><circle cx="131.06" cy="42.59" r="1.95"/><circle cx="132.31" cy="44.58" r="1.95"/><circle cx="133.55" cy="45.99" r="1.95"/><circle cx="134.79" cy="48.01" r="1.95"/><circle cx="136.03" cy="50.05" r="1.95"/><circle cx="137.27" cy="54.70" r="1.95"/><circle cx="138.51" cy="60.47" r="1.95"/><circle cx="139.75" cy="70.96" r="1.95"/><circle cx="140.99" cy="83.47" r="1.95"/><circle cx="142.24" cy="97.77" r="1.95"/><circle cx="143.48" cy="111.43" r="1.95"/><circle cx="144.72" cy="121.11" r="1.95"/><circle cx="145.96" cy="131.75" r="1.95"/><circle cx="147.20" cy="135.95" r="1.95"/><circle cx="148.44" cy="132.16" r="1.95"/><circle cx="149.68" cy="123.33" r="1.95"/><circle cx="150.92" cy="117.19" r="1.95"/><circle cx="152.16" cy="108.17" r="1.95"/><circle cx="153.41" cy="99.21" r="1.95"/><circle cx="154.65" cy="90.90" r="1.95"/><circle cx="155.89" cy="81.01" r="1.95"/><circle cx="157.13" cy="73.08" r="1.95"/><circle cx="158.37" cy="67.09" r="1.95"/><circle cx="159.61" cy="58.86" r="1.95"/><circle cx="160.85" cy="54.22" r="1.95"/><circle cx="162.09" cy="51.10" r="1.95"/><circle cx="163.34" cy="48.45" r="1.95"/><circle cx="164.58" cy="45.75" r="1.95"/><circle cx="165.82" cy="43.93" r="1.95"/><circle cx="167.06" cy="43.07" r="1.95"/><circle cx="168.30" cy="41.66" r="1.95"/><circle cx="169.54" cy="39.46" r="1.95"/><circle cx="170.78" cy="39.16" r="1.95"/><circle cx="172.02" cy="38.39" r="1.95"/><circle cx="173.27" cy="36.88" r="1.95"/><circle cx="174.51" cy="37.16" r="1.95"/><circle cx="175.75" cy="35.82" r="1.95"/><circle cx="176.99" cy="36.64" r="1.95"/><circle cx="178.23" cy="35.71" r="1.95"/><circle cx="179.47" cy="35.33" r="1.95"/><circle cx="180.71" cy="34.61" r="1.95"/><circle cx="181.95" cy="34.78" r="1.95"/><circle cx="183.20" cy="33.36" r="1.95"/><circle cx="184.44" cy="33.94" r="1.95"/><circle cx="185.68" cy="35.03" r="1.95"/><circle cx="186.92" cy="33.42" r="1.95"/><circle cx="188.16" cy="35.72" r="1.95"/><circle cx="189.40" cy="34.23" r="1.95"/><circle cx="190.64" cy="36.43" r="1.95"/><circle cx="191.88" cy="35.90" r="1.95"/><circle cx="193.13" cy="37.80" r="1.95"/><circle cx="194.37" cy="38.31" r="1.95"/><circle cx="195.61" cy="38.32" r="1.95"/><circle cx="196.85" cy="41.70" r="1.95"/><circle cx="198.09" cy="43.55" r="1.95"/><circle cx="199.33" cy="44.51" r="1.95"/><circle cx="200.57" cy="46.69" r="1.95"/><circle cx="201.81" cy="49.44" r="1.95"/><circle cx="203.06" cy="51.92" r="1.95"/><circle cx="204.30" cy="56.87" r="1.95"/><circle cx="205.54" cy="59.89" r="1.95"/><circle cx="206.78" cy="65.41" r="1.95"/><circle cx="208.02" cy="71.53" r="1.95"/><circle cx="209.26" cy="80.09" r="1.95"/><circle cx="210.50" cy="89.76" r="1.95"/><circle cx="211.74" cy="102.42" r="1.95"/><circle cx="212.99" cy="111.13" r="1.95"/><circle cx="214.23" cy="118.92" r="1.95"/><circle cx="215.47" cy="123.52" r="1.95"/><circle cx="216.71" cy="127.72" r="1.95"/><circle cx="217.95" cy="130.41" r="1.95"/><circle cx="219.19" cy="126.55" r="1.95"/><circle cx="220.43" cy="115.87" r="1.95"/><circle cx="221.67" cy="100.79" r="1.95"/><circle cx="222.91" cy="87.46" r="1.95"/><circle cx="224.16" cy="75.52" r="1.95"/><circle cx="225.40" cy="64.19" r="1.95"/><circle cx="226.64" cy="58.26" r="1.95"/><circle cx="227.88" cy="51.61" r="1.95"/><circle cx="229.12" cy="47.62" r="1.95"/><circle cx="230.36" cy="45.65" r="1.95"/><circle cx="231.60" cy="43.99" r="1.95"/><circle cx="232.84" cy="39.96" r="1.95"/><circle cx="234.09" cy="39.14" r="1.95"/><circle cx="235.33" cy="37.43" r="1.95"/><circle cx="236.57" cy="35.47" r="1.95"/><circle cx="237.81" cy="36.25" r="1.95"/><circle cx="239.05" cy="34.93" r="1.95"/><circle cx="240.29" cy="34.35" r="1.95"/><circle cx="241.53" cy="33.24" r="1.95"/><circle cx="242.77" cy="33.66" r="1.95"/><circle cx="244.02" cy="32.60" r="1.95"/><circle cx="245.26" cy="32.59" r="1.95"/><circle cx="246.50" cy="31.66" r="1.95"/><circle cx="247.74" cy="31.37" r="1.95"/><circle cx="248.98" cy="32.98" r="1.95"/><circle cx="250.22" cy="31.53" r="1.95"/><circle cx="251.46" cy="31.95" r="1.95"/><circle cx="252.70" cy="31.60" r="1.95"/><circle cx="253.95" cy="31.20" r="1.95"/><circle cx="255.19" cy="31.05" r="1.95"/><circle cx="256.43" cy="31.75" r="1.95"/><circle cx="257.67" cy="31.02" r="1.95"/><circle cx="258.91" cy="31.04" r="1.95"/><circle cx="260.15" cy="31.09" r="1.95"/><circle cx="261.39" cy="31.83" r="1.95"/><circle cx="262.63" cy="31.43" r="1.95"/><circle cx="263.88" cy="31.16" r="1.95"/><circle cx="265.12" cy="30.44" r="1.95"/><circle cx="266.36" cy="29.82" r="1.95"/><circle cx="267.60" cy="31.40" r="1.95"/><circle cx="268.84" cy="31.37" r="1.95"/><circle cx="270.08" cy="30.55" r="1.95"/><circle cx="271.32" cy="30.99" r="1.95"/><circle cx="272.56" cy="31.12" r="1.95"/><circle cx="273.81" cy="31.12" r="1.95"/><circle cx="275.05" cy="31.16" r="1.95"/><circle cx="276.29" cy="30.16" r="1.95"/><circle cx="277.53" cy="31.51" r="1.95"/><circle cx="278.77" cy="29.55" r="1.95"/><circle cx="280.01" cy="31.00" r="1.95"/><circle cx="281.25" cy="30.72" r="1.95"/><circle cx="282.49" cy="30.96" r="1.95"/><circle cx="283.74" cy="31.64" r="1.95"/><circle cx="284.98" cy="31.34" r="1.95"/><circle cx="286.22" cy="29.48" r="1.95"/><circle cx="287.46" cy="29.08" r="1.95"/><circle cx="288.70" cy="30.82" r="1.95"/><circle cx="289.94" cy="29.52" r="1.95"/><circle cx="291.18" cy="30.20" r="1.95"/><circle cx="292.42" cy="30.78" r="1.95"/><circle cx="293.66" cy="29.03" r="1.95"/><circle cx="294.91" cy="28.69" r="1.95"/><circle cx="296.15" cy="30.33" r="1.95"/><circle cx="297.39" cy="30.17" r="1.95"/><circle cx="298.63" cy="29.95" r="1.95"/><circle cx="299.87" cy="30.14" r="1.95"/><circle cx="301.11" cy="29.50" r="1.95"/><circle cx="302.35" cy="29.03" r="1.95"/><circle cx="303.59" cy="29.96" r="1.95"/><circle cx="304.84" cy="29.38" r="1.95"/><circle cx="306.08" cy="28.90" r="1.95"/><circle cx="307.32" cy="30.40" r="1.95"/><circle cx="308.56" cy="29.99" r="1.95"/><circle cx="309.80" cy="30.31" r="1.95"/><circle cx="311.04" cy="29.32" r="1.95"/><circle cx="312.28" cy="29.55" r="1.95"/><circle cx="313.52" cy="29.30" r="1.95"/><circle cx="314.77" cy="29.37" r="1.95"/><circle cx="316.01" cy="30.12" r="1.95"/><circle cx="317.25" cy="29.43" r="1.95"/><circle cx="318.49" cy="30.22" r="1.95"/><circle cx="319.73" cy="30.20" r="1.95"/><circle cx="320.97" cy="31.37" r="1.95"/></g>
<path d="M29.70,189.62 L30.19,189.62 L30.67,189.62 L31.16,189.62 L31.65,189.62 L32.14,189.62 L32.62,189.63 L33.11,189.63 L33.60,189.63 L34.09,189.63 L34.57,189.63 L35.06,189.63 L35.55,189.63 L36.04,189.63 L36.52,189.63 L37.01,189.63 L37.50,189.63 L37.99,189.64 L38.47,189.64 L38.96,189.64 L39.45,189.64 L39.94,189.64 L40.42,189.64 L40.91,189.64 L41.40,189.64 L41.89,189.64 L42.37,189.64 L42.86,189.65 L43.35,189.65 L43.84,189.65 L44.32,189.65 L44.81,189.65 L45.30,189.65 L45.79,189.65 L46.27,189.65 L46.76,189.65 L47.25,189.65 L47.74,189.66 L48.22,189.66 L48.71,189.66 L49.20,189.66 L49.69,189.66 L50.17,189.66 L50.66,189.66 L51.15,189.66 L51.64,189.67 L52.12,189.67 L52.61,189.67 L53.10,189.67 L53.59,189.67 L54.07,189.67 L54.56,189.67 L55.05,189.68 L55.54,189.68 L56.02,189.68 L56.51,189.68 L57.00,189.68 L57.49,189.68 L57.97,189.68 L58.46,189.69 L58.95,189.69 L59.44,189.69 L59.92,189.69 L60.41,189.69 L60.90,189.69 L61.39,189.70 L61.87,189.70 L62.36,189.70 L62.85,189.70 L63.34,189.70 L63.82,189.70 L64.31,189.71 L64.80,189.71 L65.29,189.71 L65.77,189.71 L66.26,189.71 L66.75,189.72 L67.24,189.72 L67.72,189.72 L68.21,189.72 L68.70,189.72 L69.19,189.73 L69.67,189.73 L70.16,189.73 L70.65,189.73 L71.14,189.74 L71.62,189.74 L72.11,189.74 L72.60,189.74 L73.09,189.74 L73.57,189.75 L74.06,189.75 L74.55,189.75 L75.04,189.76 L75.52,189.76 L76.01,189.76 L76.50,189.76 L76.99,189.77 L77.47,189.77 L77.96,189.77 L78.45,189.77 L78.94,189.78 L79.42,189.78 L79.91,189.78 L80.40,189.79 L80.89,189.79 L81.37,189.79 L81.86,189.80 L82.35,189.80 L82.84,189.80 L83.32,189.81 L83.81,189.81 L84.30,189.81 L84.79,189.82 L85.27,189.82 L85.76,189.83 L86.25,189.83 L86.74,189.83 L87.22,189.84 L87.71,189.84 L88.20,189.85 L88.68,189.85 L89.17,189.86 L89.66,189.86 L90.15,189.86 L90.63,189.87 L91.12,189.87 L91.61,189.88 L92.10,189.88 L92.58,189.89 L93.07,189.90 L93.56,189.90 L94.05,189.91 L94.53,189.91 L95.02,189.92 L95.51,189.92 L96.00,189.93 L96.48,189.94 L96.97,189.94 L97.46,189.95 L97.95,189.96 L98.43,189.96 L98.92,189.97 L99.41,189.98 L99.90,189.98 L100.38,189.99 L100.87,190.00 L101.36,190.01 L101.85,190.02 L102.33,190.02 L102.82,190.03 L103.31,190.04 L103.80,190.05 L104.28,190.06 L104.77,190.07 L105.26,190.08 L105.75,190.09 L106.23,190.10 L106.72,190.11 L107.21,190.12 L107.70,190.13 L108.18,190.14 L108.67,190.16 L109.16,190.17 L109.65,190.18 L110.13,190.19 L110.62,190.21 L111.11,190.22 L111.60,190.23 L112.08,190.25 L112.57,190.27 L113.06,190.28 L113.55,190.30 L114.03,190.31 L114.52,190.33 L115.01,190.35 L115.50,190.37 L115.98,190.39 L116.47,190.41 L116.96,190.43 L117.45,190.45 L117.93,190.47 L118.42,190.49 L118.91,190.52 L119.40,190.54 L119.88,190.57 L120.37,190.60 L120.86,190.62 L121.35,190.65 L121.83,190.68 L122.32,190.72 L122.81,190.75 L123.30,190.78 L123.78,190.82 L124.27,190.86 L124.76,190.90 L125.25,190.94 L125.73,190.98 L126.22,191.03 L126.71,191.07 L127.20,191.12 L127.68,191.18 L128.17,191.23 L128.66,191.29 L129.15,191.35 L129.63,191.41 L130.12,191.48 L130.61,191.55 L131.10,191.63 L131.58,191.71 L132.07,191.79 L132.56,191.88 L133.05,191.98 L133.53,192.08 L134.02,192.19 L134.51,192.30 L135.00,192.42 L135.48,192.55 L135.97,192.70 L136.46,192.85 L136.95,193.01 L137.43,193.18 L137.92,193.37 L138.41,193.57 L138.90,193.79 L139.38,194.02 L139.87,194.28 L140.36,194.56 L140.85,194.86 L141.33,195.19 L141.82,195.56 L142.31,195.96 L142.80,196.39 L143.28,196.88 L143.77,197.41 L144.26,198.00 L144.75,198.66 L145.23,199.40 L145.72,200.22 L146.21,201.14 L146.69,202.17 L147.18,203.34 L147.67,204.65 L148.16,206.14 L148.64,207.83 L149.13,209.74 L149.62,211.90 L150.11,214.33 L150.59,217.07 L151.08,220.12 L151.57,223.48 L152.06,227.09 L152.54,230.89 L153.03,234.72 L153.52,238.36 L154.01,241.55 L154.49,243.98 L154.98,245.38 L155.47,245.58 L155.96,244.54 L156.44,242.41 L156.93,239.43 L157.42,235.91 L157.91,232.12 L158.39,228.31 L158.88,224.63 L159.37,221.21 L159.86,218.07 L160.34,215.25 L160.83,212.74 L161.32,210.51 L161.81,208.54 L162.29,206.80 L162.78,205.26 L163.27,203.91 L163.76,202.72 L164.24,201.66 L164.73,200.72 L165.22,199.88 L165.71,199.13 L166.19,198.47 L166.68,197.87 L167.17,197.33 L167.66,196.85 L168.14,196.41 L168.63,196.02 L169.12,195.66 L169.61,195.33 L170.09,195.04 L170.58,194.77 L171.07,194.52 L171.56,194.30 L172.04,194.09 L172.53,193.90 L173.02,193.73 L173.51,193.57 L173.99,193.43 L174.48,193.29 L174.97,193.17 L175.46,193.06 L175.94,192.96 L176.43,192.86 L176.92,192.78 L177.41,192.70 L177.89,192.63 L178.38,192.56 L178.87,192.50 L179.36,192.45 L179.84,192.40 L180.33,192.36 L180.82,192.32 L181.31,192.29 L181.79,192.26 L182.28,192.24 L182.77,192.22 L183.26,192.21 L183.74,192.20 L184.23,192.19 L184.72,192.19 L185.21,192.20 L185.69,192.20 L186.18,192.22 L186.67,192.23 L187.16,192.25 L187.64,192.28 L188.13,192.31 L188.62,192.34 L189.11,192.38 L189.59,192.43 L190.08,192.48 L190.57,192.53 L191.06,192.59 L191.54,192.66 L192.03,192.74 L192.52,192.82 L193.01,192.91 L193.49,193.01 L193.98,193.12 L194.47,193.23 L194.96,193.36 L195.44,193.50 L195.93,193.65 L196.42,193.82 L196.91,194.00 L197.39,194.20 L197.88,194.42 L198.37,194.65 L198.86,194.91 L199.34,195.20 L199.83,195.51 L200.32,195.85 L200.81,196.23 L201.29,196.65 L201.78,197.12 L202.27,197.63 L202.76,198.21 L203.24,198.84 L203.73,199.56 L204.22,200.36 L204.71,201.26 L205.19,202.27 L205.68,203.41 L206.17,204.70 L206.65,206.16 L207.14,207.82 L207.63,209.70 L208.12,211.82 L208.60,214.23 L209.09,216.93 L209.58,219.94 L210.07,223.25 L210.55,226.82 L211.04,230.57 L211.53,234.35 L212.02,237.95 L212.50,241.11 L212.99,243.51 L213.48,244.89 L213.97,245.08 L214.45,244.05 L214.94,241.93 L215.43,238.97 L215.92,235.47 L216.40,231.70 L216.89,227.91 L217.38,224.26 L217.87,220.85 L218.35,217.73 L218.84,214.92 L219.33,212.42 L219.82,210.19 L220.30,208.23 L220.79,206.49 L221.28,204.96 L221.77,203.60 L222.25,202.41 L222.74,201.34 L223.23,200.40 L223.72,199.55 L224.20,198.80 L224.69,198.13 L225.18,197.52 L225.67,196.97 L226.15,196.48 L226.64,196.03 L227.13,195.63 L227.62,195.25 L228.10,194.92 L228.59,194.61 L229.08,194.32 L229.57,194.06 L230.05,193.82 L230.54,193.60 L231.03,193.40 L231.52,193.21 L232.00,193.03 L232.49,192.87 L232.98,192.71 L233.47,192.57 L233.95,192.44 L234.44,192.32 L234.93,192.20 L235.42,192.09 L235.90,191.99 L236.39,191.89 L236.88,191.80 L237.37,191.72 L237.85,191.64 L238.34,191.56 L238.83,191.49 L239.32,191.42 L239.80,191.35 L240.29,191.29 L240.78,191.24 L241.27,191.18 L241.75,191.13 L242.24,191.08 L242.73,191.03 L243.22,190.98 L243.70,190.94 L244.19,190.90 L244.68,190.86 L245.17,190.82 L245.65,190.79 L246.14,190.75 L246.63,190.72 L247.12,190.69 L247.60,190.66 L248.09,190.63 L248.58,190.60 L249.07,190.57 L249.55,190.54 L250.04,190.52 L250.53,190.50 L251.02,190.47 L251.50,190.45 L251.99,190.43 L252.48,190.41 L252.97,190.39 L253.45,190.37 L253.94,190.35 L254.43,190.33 L254.92,190.31 L255.40,190.30 L255.89,190.28 L256.38,190.27 L256.87,190.25 L257.35,190.23 L257.84,190.22 L258.33,190.21 L258.82,190.19 L259.30,190.18 L259.79,190.17 L260.28,190.16 L260.77,190.14 L261.25,190.13 L261.74,190.12 L262.23,190.11 L262.72,190.10 L263.20,190.09 L263.69,190.08 L264.18,190.07 L264.66,190.06 L265.15,190.05 L265.64,190.04 L266.13,190.03 L266.61,190.02 L267.10,190.01 L267.59,190.01 L268.08,190.00 L268.56,189.99 L269.05,189.98 L269.54,189.98 L270.03,189.97 L270.51,189.96 L271.00,189.96 L271.49,189.95 L271.98,189.94 L272.46,189.94 L272.95,189.93 L273.44,189.92 L273.93,189.92 L274.41,189.91 L274.90,189.91 L275.39,189.90 L275.88,189.89 L276.36,189.89 L276.85,189.88 L277.34,189.88 L277.83,189.87 L278.31,189.87 L278.80,189.86 L279.29,189.86 L279.78,189.86 L280.26,189.85 L280.75,189.85 L281.24,189.84 L281.73,189.84 L282.21,189.83 L282.70,189.83 L283.19,189.83 L283.68,189.82 L284.16,189.82 L284.65,189.81 L285.14,189.81 L285.63,189.81 L286.11,189.80 L286.60,189.80 L287.09,189.80 L287.58,189.79 L288.06,189.79 L288.55,189.79 L289.04,189.78 L289.53,189.78 L290.01,189.78 L290.50,189.77 L290.99,189.77 L291.48,189.77 L291.96,189.77 L292.45,189.76 L292.94,189.76 L293.43,189.76 L293.91,189.75 L294.40,189.75 L294.89,189.75 L295.38,189.75 L295.86,189.74 L296.35,189.74 L296.84,189.74 L297.33,189.74 L297.81,189.74 L298.30,189.73 L298.79,189.73 L299.28,189.73 L299.76,189.73 L300.25,189.72 L300.74,189.72 L301.23,189.72 L301.71,189.72 L302.20,189.72 L302.69,189.71 L303.18,189.71 L303.66,189.71 L304.15,189.71 L304.64,189.71 L305.13,189.70 L305.61,189.70 L306.10,189.70 L306.59,189.70 L307.08,189.70 L307.56,189.70 L308.05,189.69 L308.54,189.69 L309.03,189.69 L309.51,189.69 L310.00,189.69 L310.49,189.69 L310.98,189.68 L311.46,189.68 L311.95,189.68 L312.44,189.68 L312.93,189.68 L313.41,189.68 L313.90,189.68 L314.39,189.67 L314.88,189.67 L315.36,189.67 L315.85,189.67 L316.34,189.67 L316.83,189.67 L317.31,189.67 L317.80,189.66 L318.29,189.66 L318.78,189.66 L319.26,189.66 L319.75,189.66 L320.24,189.66 L320.73,189.66 L321.21,189.66 L321.70,189.65" fill="none" stroke="#000" stroke-width="1.2"/>
<path d="M29.70,189.57 L30.19,189.57 L30.67,189.57 L31.16,189.57 L31.65,189.57 L32.14,189.57 L32.62,189.57 L33.11,189.57 L33.60,189.57 L34.09,189.57 L34.57,189.57 L35.06,189.57 L35.55,189.57 L36.04,189.57 L36.52,189.57 L37.01,189.57 L37.50,189.57 L37.99,189.57 L38.47,189.57 L38.96,189.57 L39.45,189.57 L39.94,189.58 L40.42,189.58 L40.91,189.58 L41.40,189.58 L41.89,189.58 L42.37,189.58 L42.86,189.58 L43.35,189.58 L43.84,189.58 L44.32,189.58 L44.81,189.58 L45.30,189.58 L45.79,189.58 L46.27,189.58 L46.76,189.58 L47.25,189.58 L47.74,189.58 L48.22,189.58 L48.71,189.58 L49.20,189.58 L49.69,189.59 L50.17,189.59 L50.66,189.59 L51.15,189.59 L51.64,189.59 L52.12,189.59 L52.61,189.59 L53.10,189.59 L53.59,189.59 L54.07,189.59 L54.56,189.59 L55.05,189.59 L55.54,189.59 L56.02,189.59 L56.51,189.59 L57.00,189.59 L57.49,189.60 L57.97,189.60 L58.46,189.60 L58.95,189.60 L59.44,189.60 L59.92,189.60 L60.41,189.60 L60.90,189.60 L61.39,189.60 L61.87,189.60 L62.36,189.60 L62.85,189.60 L63.34,189.60 L63.82,189.61 L64.31,189.61 L64.80,189.61 L65.29,189.61 L65.77,189.61 L66.26,189.61 L66.75,189.61 L67.24,189.61 L67.72,189.61 L68.21,189.61 L68.70,189.61 L69.19,189.62 L69.67,189.62 L70.16,189.62 L70.65,189.62 L71.14,189.62 L71.62,189.62 L72.11,189.62 L72.60,189.62 L73.09,189.62 L73.57,189.62 L74.06,189.63 L74.55,189.63 L75.04,189.63 L75.52,189.63 L76.01,189.63 L76.50,189.63 L76.99,189.63 L77.47,189.63 L77.96,189.64 L78.45,189.64 L78.94,189.64 L79.42,189.64 L79.91,189.64 L80.40,189.64 L80.89,189.64 L81.37,189.64 L81.86,189.65 L82.35,189.65 L82.84,189.65 L83.32,189.65 L83.81,189.65 L84.30,189.65 L84.79,189.66 L85.27,189.66 L85.76,189.66 L86.25,189.66 L86.74,189.66 L87.22,189.66 L87.71,189.67 L88.20,189.67 L88.68,189.67 L89.17,189.67 L89.66,189.67 L90.15,189.68 L90.63,189.68 L91.12,189.68 L91.61,189.68 L92.10,189.68 L92.58,189.69 L93.07,189.69 L93.56,189.69 L94.05,189.69 L94.53,189.69 L95.02,189.70 L95.51,189.70 L96.00,189.70 L96.48,189.70 L96.97,189.71 L97.46,189.71 L97.95,189.71 L98.43,189.71 L98.92,189.72 L99.41,189.72 L99.90,189.72 L100.38,189.73 L100.87,189.73 L101.36,189.73 L101.85,189.74 L102.33,189.74 L102.82,189.74 L103.31,189.75 L103.80,189.75 L104.28,189.75 L104.77,189.76 L105.26,189.76 L105.75,189.76 L106.23,189.77 L106.72,189.77 L107.21,189.78 L107.70,189.78 L108.18,189.78 L108.67,189.79 L109.16,189.79 L109.65,189.80 L110.13,189.80 L110.62,189.81 L111.11,189.81 L111.60,189.82 L112.08,189.82 L112.57,189.83 L113.06,189.83 L113.55,189.84 L114.03,189.85 L114.52,189.85 L115.01,189.86 L115.50,189.86 L115.98,189.87 L116.47,189.88 L116.96,189.89 L117.45,189.89 L117.93,189.90 L118.42,189.91 L118.91,189.92 L119.40,189.92 L119.88,189.93 L120.37,189.94 L120.86,189.95 L121.35,189.96 L121.83,189.97 L122.32,189.98 L122.81,189.99 L123.30,190.00 L123.78,190.01 L124.27,190.02 L124.76,190.04 L125.25,190.05 L125.73,190.06 L126.22,190.07 L126.71,190.09 L127.20,190.10 L127.68,190.12 L128.17,190.13 L128.66,190.15 L129.15,190.17 L129.63,190.18 L130.12,190.20 L130.61,190.22 L131.10,190.24 L131.58,190.26 L132.07,190.28 L132.56,190.31 L133.05,190.33 L133.53,190.36 L134.02,190.38 L134.51,190.41 L135.00,190.44 L135.48,190.47 L135.97,190.50 L136.46,190.53 L136.95,190.57 L137.43,190.61 L137.92,190.65 L138.41,190.69 L138.90,190.73 L139.38,190.78 L139.87,190.83 L140.36,190.88 L140.85,190.94 L141.33,191.00 L141.82,191.07 L142.31,191.13 L142.80,191.21 L143.28,191.29 L143.77,191.37 L144.26,191.46 L144.75,191.56 L145.23,191.66 L145.72,191.78 L146.21,191.90 L146.69,192.03 L147.18,192.18 L147.67,192.34 L148.16,192.51 L148.64,192.70 L149.13,192.91 L149.62,193.13 L150.11,193.38 L150.59,193.66 L151.08,193.97 L151.57,194.31 L152.06,194.70 L152.54,195.12 L153.03,195.60 L153.52,196.14 L154.01,196.75 L154.49,197.45 L154.98,198.23 L155.47,199.12 L155.96,200.14 L156.44,201.29 L156.93,202.61 L157.42,204.10 L157.91,205.79 L158.39,207.66 L158.88,209.73 L159.37,211.94 L159.86,214.24 L160.34,216.51 L160.83,218.59 L161.32,220.28 L161.81,221.41 L162.29,221.81 L162.78,221.44 L163.27,220.34 L163.76,218.67 L164.24,216.61 L164.73,214.36 L165.22,212.07 L165.71,209.87 L166.19,207.81 L166.68,205.94 L167.17,204.27 L167.66,202.79 L168.14,201.48 L168.63,200.33 L169.12,199.33 L169.61,198.45 L170.09,197.68 L170.58,197.00 L171.07,196.40 L171.56,195.88 L172.04,195.41 L172.53,195.00 L173.02,194.63 L173.51,194.31 L173.99,194.02 L174.48,193.76 L174.97,193.52 L175.46,193.32 L175.94,193.13 L176.43,192.96 L176.92,192.81 L177.41,192.68 L177.89,192.55 L178.38,192.45 L178.87,192.35 L179.36,192.26 L179.84,192.18 L180.33,192.12 L180.82,192.06 L181.31,192.00 L181.79,191.96 L182.28,191.92 L182.77,191.89 L183.26,191.87 L183.74,191.85 L184.23,191.84 L184.72,191.83 L185.21,191.83 L185.69,191.84 L186.18,191.85 L186.67,191.86 L187.16,191.89 L187.64,191.92 L188.13,191.95 L188.62,192.00 L189.11,192.05 L189.59,192.11 L190.08,192.17 L190.57,192.25 L191.06,192.33 L191.54,192.43 L192.03,192.54 L192.52,192.66 L193.01,192.79 L193.49,192.94 L193.98,193.10 L194.47,193.29 L194.96,193.49 L195.44,193.72 L195.93,193.97 L196.42,194.26 L196.91,194.58 L197.39,194.94 L197.88,195.34 L198.37,195.80 L198.86,196.32 L199.34,196.90 L199.83,197.57 L200.32,198.32 L200.81,199.18 L201.29,200.17 L201.78,201.29 L202.27,202.57 L202.76,204.03 L203.24,205.67 L203.73,207.51 L204.22,209.54 L204.71,211.72 L205.19,214.00 L205.68,216.27 L206.17,218.37 L206.65,220.11 L207.14,221.31 L207.63,221.80 L208.12,221.52 L208.60,220.50 L209.09,218.88 L209.58,216.85 L210.07,214.60 L210.55,212.30 L211.04,210.06 L211.53,207.97 L212.02,206.06 L212.50,204.35 L212.99,202.83 L213.48,201.49 L213.97,200.31 L214.45,199.27 L214.94,198.36 L215.43,197.56 L215.92,196.86 L216.40,196.23 L216.89,195.68 L217.38,195.19 L217.87,194.76 L218.35,194.37 L218.84,194.02 L219.33,193.71 L219.82,193.43 L220.30,193.17 L220.79,192.94 L221.28,192.73 L221.77,192.54 L222.25,192.36 L222.74,192.20 L223.23,192.06 L223.72,191.92 L224.20,191.80 L224.69,191.68 L225.18,191.57 L225.67,191.48 L226.15,191.38 L226.64,191.30 L227.13,191.22 L227.62,191.15 L228.10,191.08 L228.59,191.01 L229.08,190.95 L229.57,190.89 L230.05,190.84 L230.54,190.79 L231.03,190.74 L231.52,190.70 L232.00,190.65 L232.49,190.61 L232.98,190.58 L233.47,190.54 L233.95,190.51 L234.44,190.47 L234.93,190.44 L235.42,190.41 L235.90,190.39 L236.39,190.36 L236.88,190.33 L237.37,190.31 L237.85,190.29 L238.34,190.27 L238.83,190.24 L239.32,190.22 L239.80,190.20 L240.29,190.19 L240.78,190.17 L241.27,190.15 L241.75,190.14 L242.24,190.12 L242.73,190.10 L243.22,190.09 L243.70,190.08 L244.19,190.06 L244.68,190.05 L245.17,190.04 L245.65,190.03 L246.14,190.01 L246.63,190.00 L247.12,189.99 L247.60,189.98 L248.09,189.97 L248.58,189.96 L249.07,189.95 L249.55,189.94 L250.04,189.93 L250.53,189.93 L251.02,189.92 L251.50,189.91 L251.99,189.90 L252.48,189.89 L252.97,189.89 L253.45,189.88 L253.94,189.87 L254.43,189.87 L254.92,189.86 L255.40,189.85 L255.89,189.85 L256.38,189.84 L256.87,189.84 L257.35,189.83 L257.84,189.82 L258.33,189.82 L258.82,189.81 L259.30,189.81 L259.79,189.80 L260.28,189.80 L260.77,189.79 L261.25,189.79 L261.74,189.79 L262.23,189.78 L262.72,189.78 L263.20,189.77 L263.69,189.77 L264.18,189.76 L264.66,189.76 L265.15,189.76 L265.64,189.75 L266.13,189.75 L266.61,189.75 L267.10,189.74 L267.59,189.74 L268.08,189.74 L268.56,189.73 L269.05,189.73 L269.54,189.73 L270.03,189.72 L270.51,189.72 L271.00,189.72 L271.49,189.72 L271.98,189.71 L272.46,189.71 L272.95,189.71 L273.44,189.70 L273.93,189.70 L274.41,189.70 L274.90,189.70 L275.39,189.69 L275.88,189.69 L276.36,189.69 L276.85,189.69 L277.34,189.69 L277.83,189.68 L278.31,189.68 L278.80,189.68 L279.29,189.68 L279.78,189.68 L280.26,189.67 L280.75,189.67 L281.24,189.67 L281.73,189.67 L282.21,189.67 L282.70,189.66 L283.19,189.66 L283.68,189.66 L284.16,189.66 L284.65,189.66 L285.14,189.66 L285.63,189.65 L286.11,189.65 L286.60,189.65 L287.09,189.65 L287.58,189.65 L288.06,189.65 L288.55,189.65 L289.04,189.64 L289.53,189.64 L290.01,189.64 L290.50,189.64 L290.99,189.64 L291.48,189.64 L291.96,189.64 L292.45,189.63 L292.94,189.63 L293.43,189.63 L293.91,189.63 L294.40,189.63 L294.89,189.63 L295.38,189.63 L295.86,189.63 L296.35,189.62 L296.84,189.62 L297.33,189.62 L297.81,189.62 L298.30,189.62 L298.79,189.62 L299.28,189.62 L299.76,189.62 L300.25,189.62 L300.74,189.62 L301.23,189.61 L301.71,189.61 L302.20,189.61 L302.69,189.61 L303.18,189.61 L303.66,189.61 L304.15,189.61 L304.64,189.61 L305.13,189.61 L305.61,189.61 L306.10,189.61 L306.59,189.60 L307.08,189.60 L307.56,189.60 L308.05,189.60 L308.54,189.60 L309.03,189.60 L309.51,189.60 L310.00,189.60 L310.49,189.60 L310.98,189.60 L311.46,189.60 L311.95,189.60 L312.44,189.60 L312.93,189.59 L313.41,189.59 L313.90,189.59 L314.39,189.59 L314.88,189.59 L315.36,189.59 L315.85,189.59 L316.34,189.59 L316.83,189.59 L317.31,189.59 L317.80,189.59 L318.29,189.59 L318.78,189.59 L319.26,189.59 L319.75,189.59 L320.24,189.59 L320.73,189.58 L321.21,189.58 L321.70,189.58" fill="none" stroke="#000" stroke-width="1.2"/>
<path d="M29.70,189.55 L30.19,189.55 L30.67,189.55 L31.16,189.55 L31.65,189.55 L32.14,189.55 L32.62,189.55 L33.11,189.55 L33.60,189.55 L34.09,189.55 L34.57,189.55 L35.06,189.55 L35.55,189.55 L36.04,189.55 L36.52,189.55 L37.01,189.55 L37.50,189.55 L37.99,189.55 L38.47,189.55 L38.96,189.55 L39.45,189.55 L39.94,189.55 L40.42,189.55 L40.91,189.55 L41.40,189.55 L41.89,189.56 L42.37,189.56 L42.86,189.56 L43.35,189.56 L43.84,189.56 L44.32,189.56 L44.81,189.56 L45.30,189.56 L45.79,189.56 L46.27,189.56 L46.76,189.56 L47.25,189.56 L47.74,189.56 L48.22,189.56 L48.71,189.56 L49.20,189.56 L49.69,189.56 L50.17,189.56 L50.66,189.56 L51.15,189.56 L51.64,189.56 L52.12,189.56 L52.61,189.56 L53.10,189.56 L53.59,189.56 L54.07,189.56 L54.56,189.56 L55.05,189.56 L55.54,189.57 L56.02,189.57 L56.51,189.57 L57.00,189.57 L57.49,189.57 L57.97,189.57 L58.46,189.57 L58.95,189.57 L59.44,189.57 L59.92,189.57 L60.41,189.57 L60.90,189.57 L61.39,189.57 L61.87,189.57 L62.36,189.57 L62.85,189.57 L63.34,189.57 L63.82,189.57 L64.31,189.57 L64.80,189.57 L65.29,189.57 L65.77,189.58 L66.26,189.58 L66.75,189.58 L67.24,189.58 L67.72,189.58 L68.21,189.58 L68.70,189.58 L69.19,189.58 L69.67,189.58 L70.16,189.58 L70.65,189.58 L71.14,189.58 L71.62,189.58 L72.11,189.58 L72.60,189.58 L73.09,189.58 L73.57,189.59 L74.06,189.59 L74.55,189.59 L75.04,189.59 L75.52,189.59 L76.01,189.59 L76.50,189.59 L76.99,189.59 L77.47,189.59 L77.96,189.59 L78.45,189.59 L78.94,189.59 L79.42,189.59 L79.91,189.60 L80.40,189.60 L80.89,189.60 L81.37,189.60 L81.86,189.60 L82.35,189.60 L82.84,189.60 L83.32,189.60 L83.81,189.60 L84.30,189.60 L84.79,189.60 L85.27,189.61 L85.76,189.61 L86.25,189.61 L86.74,189.61 L87.22,189.61 L87.71,189.61 L88.20,189.61 L88.68,189.61 L89.17,189.61 L89.66,189.61 L90.15,189.62 L90.63,189.62 L91.12,189.62 L91.61,189.62 L92.10,189.62 L92.58,189.62 L93.07,189.62 L93.56,189.62 L94.05,189.63 L94.53,189.63 L95.02,189.63 L95.51,189.63 L96.00,189.63 L96.48,189.63 L96.97,189.63 L97.46,189.64 L97.95,189.64 L98.43,189.64 L98.92,189.64 L99.41,189.64 L99.90,189.64 L100.38,189.65 L100.87,189.65 L101.36,189.65 L101.85,189.65 L102.33,189.65 L102.82,189.65 L103.31,189.66 L103.80,189.66 L104.28,189.66 L104.77,189.66 L105.26,189.66 L105.75,189.67 L106.23,189.67 L106.72,189.67 L107.21,189.67 L107.70,189.68 L108.18,189.68 L108.67,189.68 L109.16,189.68 L109.65,189.69 L110.13,189.69 L110.62,189.69 L111.11,189.69 L111.60,189.70 L112.08,189.70 L112.57,189.70 L113.06,189.70 L113.55,189.71 L114.03,189.71 L114.52,189.71 L115.01,189.72 L115.50,189.72 L115.98,189.72 L116.47,189.73 L116.96,189.73 L117.45,189.73 L117.93,189.74 L118.42,189.74 L118.91,189.75 L119.40,189.75 L119.88,189.75 L120.37,189.76 L120.86,189.76 L121.35,189.77 L121.83,189.77 L122.32,189.78 L122.81,189.78 L123.30,189.79 L123.78,189.79 L124.27,189.80 L124.76,189.80 L125.25,189.81 L125.73,189.82 L126.22,189.82 L126.71,189.83 L127.20,189.84 L127.68,189.84 L128.17,189.85 L128.66,189.86 L129.15,189.86 L129.63,189.87 L130.12,189.88 L130.61,189.89 L131.10,189.90 L131.58,189.91 L132.07,189.91 L132.56,189.92 L133.05,189.93 L133.53,189.94 L134.02,189.96 L134.51,189.97 L135.00,189.98 L135.48,189.99 L135.97,190.00 L136.46,190.02 L136.95,190.03 L137.43,190.04 L137.92,190.06 L138.41,190.07 L138.90,190.09 L139.38,190.11 L139.87,190.12 L140.36,190.14 L140.85,190.16 L141.33,190.18 L141.82,190.20 L142.31,190.23 L142.80,190.25 L143.28,190.27 L143.77,190.30 L144.26,190.33 L144.75,190.36 L145.23,190.39 L145.72,190.42 L146.21,190.45 L146.69,190.49 L147.18,190.53 L147.67,190.57 L148.16,190.61 L148.64,190.66 L149.13,190.71 L149.62,190.76 L150.11,190.81 L150.59,190.87 L151.08,190.94 L151.57,191.01 L152.06,191.08 L152.54,191.16 L153.03,191.24 L153.52,191.33 L154.01,191.43 L154.49,191.54 L154.98,191.66 L155.47,191.78 L155.96,191.92 L156.44,192.07 L156.93,192.23 L157.42,192.41 L157.91,192.61 L158.39,192.82 L158.88,193.05 L159.37,193.31 L159.86,193.59 L160.34,193.91 L160.83,194.25 L161.32,194.62 L161.81,195.04 L162.29,195.49 L162.78,195.97 L163.27,196.50 L163.76,197.07 L164.24,197.67 L164.73,198.30 L165.22,198.94 L165.71,199.57 L166.19,200.18 L166.68,200.74 L167.17,201.22 L167.66,201.58 L168.14,201.81 L168.63,201.89 L169.12,201.82 L169.61,201.59 L170.09,201.23 L170.58,200.76 L171.07,200.22 L171.56,199.63 L172.04,199.01 L172.53,198.40 L173.02,197.80 L173.51,197.22 L173.99,196.69 L174.48,196.19 L174.97,195.73 L175.46,195.32 L175.94,194.94 L176.43,194.59 L176.92,194.29 L177.41,194.01 L177.89,193.76 L178.38,193.54 L178.87,193.35 L179.36,193.17 L179.84,193.02 L180.33,192.89 L180.82,192.77 L181.31,192.67 L181.79,192.58 L182.28,192.51 L182.77,192.45 L183.26,192.40 L183.74,192.36 L184.23,192.34 L184.72,192.32 L185.21,192.32 L185.69,192.33 L186.18,192.35 L186.67,192.38 L187.16,192.43 L187.64,192.48 L188.13,192.55 L188.62,192.63 L189.11,192.73 L189.59,192.84 L190.08,192.97 L190.57,193.12 L191.06,193.28 L191.54,193.47 L192.03,193.68 L192.52,193.92 L193.01,194.19 L193.49,194.48 L193.98,194.81 L194.47,195.18 L194.96,195.58 L195.44,196.03 L195.93,196.51 L196.42,197.03 L196.91,197.59 L197.39,198.17 L197.88,198.77 L198.37,199.38 L198.86,199.97 L199.34,200.51 L199.83,200.98 L200.32,201.35 L200.81,201.60 L201.29,201.70 L201.78,201.64 L202.27,201.44 L202.76,201.10 L203.24,200.64 L203.73,200.11 L204.22,199.51 L204.71,198.89 L205.19,198.26 L205.68,197.64 L206.17,197.04 L206.65,196.48 L207.14,195.95 L207.63,195.47 L208.12,195.02 L208.60,194.61 L209.09,194.23 L209.58,193.89 L210.07,193.58 L210.55,193.30 L211.04,193.04 L211.53,192.81 L212.02,192.59 L212.50,192.40 L212.99,192.22 L213.48,192.06 L213.97,191.91 L214.45,191.77 L214.94,191.65 L215.43,191.53 L215.92,191.42 L216.40,191.32 L216.89,191.23 L217.38,191.15 L217.87,191.07 L218.35,191.00 L218.84,190.93 L219.33,190.87 L219.82,190.81 L220.30,190.75 L220.79,190.70 L221.28,190.65 L221.77,190.60 L222.25,190.56 L222.74,190.52 L223.23,190.48 L223.72,190.45 L224.20,190.41 L224.69,190.38 L225.18,190.35 L225.67,190.32 L226.15,190.30 L226.64,190.27 L227.13,190.25 L227.62,190.22 L228.10,190.20 L228.59,190.18 L229.08,190.16 L229.57,190.14 L230.05,190.12 L230.54,190.10 L231.03,190.09 L231.52,190.07 L232.00,190.06 L232.49,190.04 L232.98,190.03 L233.47,190.01 L233.95,190.00 L234.44,189.99 L234.93,189.98 L235.42,189.96 L235.90,189.95 L236.39,189.94 L236.88,189.93 L237.37,189.92 L237.85,189.91 L238.34,189.90 L238.83,189.89 L239.32,189.89 L239.80,189.88 L240.29,189.87 L240.78,189.86 L241.27,189.85 L241.75,189.85 L242.24,189.84 L242.73,189.83 L243.22,189.83 L243.70,189.82 L244.19,189.81 L244.68,189.81 L245.17,189.80 L245.65,189.80 L246.14,189.79 L246.63,189.79 L247.12,189.78 L247.60,189.78 L248.09,189.77 L248.58,189.77 L249.07,189.76 L249.55,189.76 L250.04,189.75 L250.53,189.75 L251.02,189.75 L251.50,189.74 L251.99,189.74 L252.48,189.73 L252.97,189.73 L253.45,189.73 L253.94,189.72 L254.43,189.72 L254.92,189.72 L255.40,189.71 L255.89,189.71 L256.38,189.71 L256.87,189.70 L257.35,189.70 L257.84,189.70 L258.33,189.69 L258.82,189.69 L259.30,189.69 L259.79,189.69 L260.28,189.68 L260.77,189.68 L261.25,189.68 L261.74,189.68 L262.23,189.67 L262.72,189.67 L263.20,189.67 L263.69,189.67 L264.18,189.67 L264.66,189.66 L265.15,189.66 L265.64,189.66 L266.13,189.66 L266.61,189.66 L267.10,189.65 L267.59,189.65 L268.08,189.65 L268.56,189.65 L269.05,189.65 L269.54,189.64 L270.03,189.64 L270.51,189.64 L271.00,189.64 L271.49,189.64 L271.98,189.64 L272.46,189.64 L272.95,189.63 L273.44,189.63 L273.93,189.63 L274.41,189.63 L274.90,189.63 L275.39,189.63 L275.88,189.63 L276.36,189.62 L276.85,189.62 L277.34,189.62 L277.83,189.62 L278.31,189.62 L278.80,189.62 L279.29,189.62 L279.78,189.62 L280.26,189.61 L280.75,189.61 L281.24,189.61 L281.73,189.61 L282.21,189.61 L282.70,189.61 L283.19,189.61 L283.68,189.61 L284.16,189.61 L284.65,189.60 L285.14,189.60 L285.63,189.60 L286.11,189.60 L286.60,189.60 L287.09,189.60 L287.58,189.60 L288.06,189.60 L288.55,189.60 L289.04,189.60 L289.53,189.60 L290.01,189.59 L290.50,189.59 L290.99,189.59 L291.48,189.59 L291.96,189.59 L292.45,189.59 L292.94,189.59 L293.43,189.59 L293.91,189.59 L294.40,189.59 L294.89,189.59 L295.38,189.59 L295.86,189.59 L296.35,189.59 L296.84,189.58 L297.33,189.58 L297.81,189.58 L298.30,189.58 L298.79,189.58 L299.28,189.58 L299.76,189.58 L300.25,189.58 L300.74,189.58 L301.23,189.58 L301.71,189.58 L302.20,189.58 L302.69,189.58 L303.18,189.58 L303.66,189.58 L304.15,189.58 L304.64,189.57 L305.13,189.57 L305.61,189.57 L306.10,189.57 L306.59,189.57 L307.08,189.57 L307.56,189.57 L308.05,189.57 L308.54,189.57 L309.03,189.57 L309.51,189.57 L310.00,189.57 L310.49,189.57 L310.98,189.57 L311.46,189.57 L311.95,189.57 L312.44,189.57 L312.93,189.57 L313.41,189.57 L313.90,189.57 L314.39,189.57 L314.88,189.56 L315.36,189.56 L315.85,189.56 L316.34,189.56 L316.83,189.56 L317.31,189.56 L317.80,189.56 L318.29,189.56 L318.78,189.56 L319.26,189.56 L319.75,189.56 L320.24,189.56 L320.73,189.56 L321.21,189.56 L321.70,189.56" fill="none" stroke="#000" stroke-width="1.2"/>
<path d="M29.70,190.06 L30.19,190.06 L30.67,190.06 L31.16,190.07 L31.65,190.07 L32.14,190.08 L32.62,190.08 L33.11,190.08 L33.60,190.09 L34.09,190.09 L34.57,190.10 L35.06,190.10 L35.55,190.10 L36.04,190.11 L36.52,190.11 L37.01,190.12 L37.50,190.12 L37.99,190.13 L38.47,190.13 L38.96,190.14 L39.45,190.14 L39.94,190.14 L40.42,190.15 L40.91,190.15 L41.40,190.16 L41.89,190.16 L42.37,190.17 L42.86,190.17 L43.35,190.18 L43.84,190.18 L44.32,190.19 L44.81,190.19 L45.30,190.20 L45.79,190.21 L46.27,190.21 L46.76,190.22 L47.25,190.22 L47.74,190.23 L48.22,190.23 L48.71,190.24 L49.20,190.24 L49.69,190.25 L50.17,190.26 L50.66,190.26 L51.15,190.27 L51.64,190.27 L52.12,190.28 L52.61,190.29 L53.10,190.29 L53.59,190.30 L54.07,190.31 L54.56,190.31 L55.05,190.32 L55.54,190.33 L56.02,190.33 L56.51,190.34 L57.00,190.35 L57.49,190.36 L57.97,190.36 L58.46,190.37 L58.95,190.38 L59.44,190.39 L59.92,190.39 L60.41,190.40 L60.90,190.41 L61.39,190.42 L61.87,190.43 L62.36,190.43 L62.85,190.44 L63.34,190.45 L63.82,190.46 L64.31,190.47 L64.80,190.48 L65.29,190.49 L65.77,190.49 L66.26,190.50 L66.75,190.51 L67.24,190.52 L67.72,190.53 L68.21,190.54 L68.70,190.55 L69.19,190.56 L69.67,190.57 L70.16,190.58 L70.65,190.59 L71.14,190.60 L71.62,190.62 L72.11,190.63 L72.60,190.64 L73.09,190.65 L73.57,190.66 L74.06,190.67 L74.55,190.68 L75.04,190.70 L75.52,190.71 L76.01,190.72 L76.50,190.73 L76.99,190.75 L77.47,190.76 L77.96,190.77 L78.45,190.79 L78.94,190.80 L79.42,190.82 L79.91,190.83 L80.40,190.84 L80.89,190.86 L81.37,190.87 L81.86,190.89 L82.35,190.91 L82.84,190.92 L83.32,190.94 L83.81,190.95 L84.30,190.97 L84.79,190.99 L85.27,191.01 L85.76,191.02 L86.25,191.04 L86.74,191.06 L87.22,191.08 L87.71,191.10 L88.20,191.12 L88.68,191.14 L89.17,191.16 L89.66,191.18 L90.15,191.20 L90.63,191.22 L91.12,191.24 L91.61,191.26 L92.10,191.29 L92.58,191.31 L93.07,191.33 L93.56,191.36 L94.05,191.38 L94.53,191.41 L95.02,191.43 L95.51,191.46 L96.00,191.49 L96.48,191.51 L96.97,191.54 L97.46,191.57 L97.95,191.60 L98.43,191.63 L98.92,191.66 L99.41,191.69 L99.90,191.72 L100.38,191.75 L100.87,191.79 L101.36,191.82 L101.85,191.86 L102.33,191.89 L102.82,191.93 L103.31,191.96 L103.80,192.00 L104.28,192.04 L104.77,192.08 L105.26,192.12 L105.75,192.17 L106.23,192.21 L106.72,192.25 L107.21,192.30 L107.70,192.35 L108.18,192.39 L108.67,192.44 L109.16,192.49 L109.65,192.55 L110.13,192.60 L110.62,192.65 L111.11,192.71 L111.60,192.77 L112.08,192.83 L112.57,192.89 L113.06,192.95 L113.55,193.02 L114.03,193.08 L114.52,193.15 L115.01,193.22 L115.50,193.30 L115.98,193.37 L116.47,193.45 L116.96,193.53 L117.45,193.61 L117.93,193.70 L118.42,193.79 L118.91,193.88 L119.40,193.97 L119.88,194.07 L120.37,194.17 L120.86,194.27 L121.35,194.38 L121.83,194.49 L122.32,194.61 L122.81,194.73 L123.30,194.85 L123.78,194.98 L124.27,195.12 L124.76,195.26 L125.25,195.40 L125.73,195.55 L126.22,195.71 L126.71,195.88 L127.20,196.05 L127.68,196.22 L128.17,196.41 L128.66,196.60 L129.15,196.80 L129.63,197.02 L130.12,197.24 L130.61,197.47 L131.10,197.71 L131.58,197.97 L132.07,198.24 L132.56,198.52 L133.05,198.82 L133.53,199.13 L134.02,199.46 L134.51,199.81 L135.00,200.18 L135.48,200.57 L135.97,200.99 L136.46,201.43 L136.95,201.90 L137.43,202.40 L137.92,202.94 L138.41,203.52 L138.90,204.13 L139.38,204.80 L139.87,205.51 L140.36,206.29 L140.85,207.13 L141.33,208.04 L141.82,209.03 L142.31,210.11 L142.80,211.30 L143.28,212.60 L143.77,214.04 L144.26,215.62 L144.75,217.37 L145.23,219.30 L145.72,221.44 L146.21,223.82 L146.69,226.45 L147.18,229.38 L147.67,232.61 L148.16,236.19 L148.64,240.12 L149.13,244.43 L149.62,249.11 L150.11,254.13 L150.59,259.45 L151.08,265.00 L151.57,270.66 L152.06,276.30 L152.54,281.77 L153.03,286.92 L153.52,291.55 L154.01,295.45 L154.49,298.41 L154.98,300.26 L155.47,300.95 L155.96,300.60 L156.44,299.45 L156.93,297.80 L157.42,295.94 L157.91,294.07 L158.39,292.30 L158.88,290.68 L159.37,289.20 L159.86,287.81 L160.34,286.47 L160.83,285.09 L161.32,283.64 L161.81,282.06 L162.29,280.31 L162.78,278.38 L163.27,276.25 L163.76,273.94 L164.24,271.46 L164.73,268.83 L165.22,266.08 L165.71,263.25 L166.19,260.37 L166.68,257.46 L167.17,254.57 L167.66,251.71 L168.14,248.91 L168.63,246.19 L169.12,243.56 L169.61,241.03 L170.09,238.62 L170.58,236.34 L171.07,234.19 L171.56,232.20 L172.04,230.39 L172.53,228.79 L173.02,227.45 L173.51,226.40 L173.99,225.63 L174.48,224.95 L174.97,223.92 L175.46,222.27 L175.94,220.30 L176.43,218.43 L176.92,216.82 L177.41,215.48 L177.89,214.34 L178.38,213.38 L178.87,212.54 L179.36,211.81 L179.84,211.16 L180.33,210.59 L180.82,210.08 L181.31,209.63 L181.79,209.24 L182.28,208.90 L182.77,208.61 L183.26,208.36 L183.74,208.17 L184.23,208.02 L184.72,207.91 L185.21,207.84 L185.69,207.82 L186.18,207.84 L186.67,207.90 L187.16,208.01 L187.64,208.16 L188.13,208.36 L188.62,208.61 L189.11,208.91 L189.59,209.26 L190.08,209.67 L190.57,210.15 L191.06,210.68 L191.54,211.29 L192.03,211.98 L192.52,212.75 L193.01,213.61 L193.49,214.57 L193.98,215.64 L194.47,216.82 L194.96,218.12 L195.44,219.56 L195.93,221.14 L196.42,222.87 L196.91,224.75 L197.39,226.80 L197.88,229.02 L198.37,231.41 L198.86,233.94 L199.34,236.62 L199.83,239.40 L200.32,242.26 L200.81,245.14 L201.29,248.02 L201.78,250.87 L202.27,253.68 L202.76,256.46 L203.24,259.23 L203.73,262.00 L204.22,264.77 L204.71,267.52 L205.19,270.25 L205.68,272.91 L206.17,275.50 L206.65,277.99 L207.14,280.37 L207.63,282.64 L208.12,284.81 L208.60,286.92 L209.09,288.97 L209.58,291.00 L210.07,293.01 L210.55,294.98 L211.04,296.87 L211.53,298.57 L212.02,299.97 L212.50,300.90 L212.99,301.18 L213.48,300.65 L213.97,299.17 L214.45,296.70 L214.94,293.29 L215.43,289.04 L215.92,284.15 L216.40,278.82 L216.89,273.26 L217.38,267.68 L217.87,262.28 L218.35,257.42 L218.84,254.01 L219.33,250.61 L219.82,243.81 L220.30,238.59 L220.79,234.47 L221.28,230.87 L221.77,227.66 L222.25,224.77 L222.74,222.16 L223.23,219.81 L223.72,217.70 L224.20,215.79 L224.69,214.07 L225.18,212.52 L225.67,211.12 L226.15,209.85 L226.64,208.70 L227.13,207.66 L227.62,206.71 L228.10,205.83 L228.59,205.04 L229.08,204.30 L229.57,203.62 L230.05,203.00 L230.54,202.41 L231.03,201.87 L231.52,201.37 L232.00,200.90 L232.49,200.45 L232.98,200.04 L233.47,199.65 L233.95,199.28 L234.44,198.94 L234.93,198.61 L235.42,198.30 L235.90,198.01 L236.39,197.73 L236.88,197.47 L237.37,197.22 L237.85,196.98 L238.34,196.75 L238.83,196.54 L239.32,196.33 L239.80,196.14 L240.29,195.95 L240.78,195.77 L241.27,195.60 L241.75,195.44 L242.24,195.28 L242.73,195.13 L243.22,194.98 L243.70,194.85 L244.19,194.71 L244.68,194.59 L245.17,194.46 L245.65,194.34 L246.14,194.23 L246.63,194.12 L247.12,194.02 L247.60,193.91 L248.09,193.82 L248.58,193.72 L249.07,193.63 L249.55,193.54 L250.04,193.46 L250.53,193.37 L251.02,193.30 L251.50,193.22 L251.99,193.14 L252.48,193.07 L252.97,193.00 L253.45,192.93 L253.94,192.87 L254.43,192.80 L254.92,192.74 L255.40,192.68 L255.89,192.62 L256.38,192.57 L256.87,192.51 L257.35,192.46 L257.84,192.41 L258.33,192.36 L258.82,192.31 L259.30,192.26 L259.79,192.21 L260.28,192.17 L260.77,192.12 L261.25,192.08 L261.74,192.04 L262.23,192.00 L262.72,191.96 L263.20,191.92 L263.69,191.88 L264.18,191.85 L264.66,191.81 L265.15,191.77 L265.64,191.74 L266.13,191.71 L266.61,191.67 L267.10,191.64 L267.59,191.61 L268.08,191.58 L268.56,191.55 L269.05,191.52 L269.54,191.49 L270.03,191.47 L270.51,191.44 L271.00,191.41 L271.49,191.39 L271.98,191.36 L272.46,191.34 L272.95,191.31 L273.44,191.29 L273.93,191.26 L274.41,191.24 L274.90,191.22 L275.39,191.20 L275.88,191.18 L276.36,191.15 L276.85,191.13 L277.34,191.11 L277.83,191.09 L278.31,191.07 L278.80,191.05 L279.29,191.04 L279.78,191.02 L280.26,191.00 L280.75,190.98 L281.24,190.96 L281.73,190.95 L282.21,190.93 L282.70,190.91 L283.19,190.90 L283.68,190.88 L284.16,190.87 L284.65,190.85 L285.14,190.84 L285.63,190.82 L286.11,190.81 L286.60,190.79 L287.09,190.78 L287.58,190.76 L288.06,190.75 L288.55,190.74 L289.04,190.72 L289.53,190.71 L290.01,190.70 L290.50,190.69 L290.99,190.67 L291.48,190.66 L291.96,190.65 L292.45,190.64 L292.94,190.63 L293.43,190.62 L293.91,190.61 L294.40,190.59 L294.89,190.58 L295.38,190.57 L295.86,190.56 L296.35,190.55 L296.84,190.54 L297.33,190.53 L297.81,190.52 L298.30,190.51 L298.79,190.50 L299.28,190.49 L299.76,190.48 L300.25,190.48 L300.74,190.47 L301.23,190.46 L301.71,190.45 L302.20,190.44 L302.69,190.43 L303.18,190.42 L303.66,190.41 L304.15,190.41 L304.64,190.40 L305.13,190.39 L305.61,190.38 L306.10,190.38 L306.59,190.37 L307.08,190.36 L307.56,190.35 L308.05,190.35 L308.54,190.34 L309.03,190.33 L309.51,190.32 L310.00,190.32 L310.49,190.31 L310.98,190.30 L311.46,190.30 L311.95,190.29 L312.44,190.28 L312.93,190.28 L313.41,190.27 L313.90,190.26 L314.39,190.26 L314.88,190.25 L315.36,190.25 L315.85,190.24 L316.34,190.23 L316.83,190.23 L317.31,190.22 L317.80,190.22 L318.29,190.21 L318.78,190.21 L319.26,190.20 L319.75,190.20 L320.24,190.19 L320.73,190.19 L321.21,190.18 L321.70,190.18" fill="none" stroke="#000" stroke-width="1.3"/>
<g fill="#000"><circle cx="30.76" cy="188.95" r="1.95"/><circle cx="32.01" cy="190.79" r="1.95"/><circle cx="33.26" cy="190.01" r="1.95"/><circle cx="34.51" cy="190.08" r="1.95"/><circle cx="35.75" cy="188.95" r="1.95"/><circle cx="37.00" cy="189.75" r="1.95"/><circle cx="38.25" cy="190.72" r="1.95"/><circle cx="39.50" cy="190.07" r="1.95"/><circle cx="40.74" cy="190.22" r="1.95"/><circle cx="41.99" cy="189.93" r="1.95"/><circle cx="43.24" cy="191.10" r="1.95"/><circle cx="44.49" cy="190.17" r="1.95"/><circle cx="45.74" cy="188.44" r="1.95"/><circle cx="46.98" cy="189.66" r="1.95"/><circle cx="48.23" cy="188.66" r="1.95"/><circle cx="49.48" cy="187.65" r="1.95"/><circle cx="50.73" cy="189.84" r="1.95"/><circle cx="51.97" cy="191.35" r="1.95"/><circle cx="53.22" cy="190.33" r="1.95"/><circle cx="54.47" cy="189.37" r="1.95"/><circle cx="55.72" cy="189.58" r="1.95"/><circle cx="56.97" cy="191.25" r="1.95"/><circle cx="58.21" cy="190.49" r="1.95"/><circle cx="59.46" cy="190.42" r="1.95"/><circle cx="60.71" cy="190.36" r="1.95"/><circle cx="61.96" cy="190.46" r="1.95"/><circle cx="63.20" cy="191.09" r="1.95"/><circle cx="64.45" cy="190.91" r="1.95"/><circle cx="65.70" cy="190.67" r="1.95"/><circle cx="66.95" cy="189.68" r="1.95"/><circle cx="68.19" cy="190.95" r="1.95"/><circle cx="69.44" cy="190.02" r="1.95"/><circle cx="70.69" cy="191.47" r="1.95"/><circle cx="71.94" cy="189.61" r="1.95"/><circle cx="73.19" cy="190.54" r="1.95"/><circle cx="74.43" cy="190.68" r="1.95"/><circle cx="75.68" cy="189.65" r="1.95"/><circle cx="76.93" cy="192.12" r="1.95"/><circle cx="78.18" cy="191.95" r="1.95"/><circle cx="79.42" cy="190.45" r="1.95"/><circle cx="80.67" cy="191.47" r="1.95"/><circle cx="81.92" cy="191.19" r="1.95"/><circle cx="83.17" cy="188.84" r="1.95"/><circle cx="84.42" cy="191.18" r="1.95"/><circle cx="85.66" cy="190.97" r="1.95"/><circle cx="86.91" cy="191.13" r="1.95"/><circle cx="88.16" cy="190.25" r="1.95"/><circle cx="89.41" cy="190.95" r="1.95"/><circle cx="90.65" cy="191.08" r="1.95"/><circle cx="91.90" cy="192.23" r="1.95"/><circle cx="93.15" cy="191.60" r="1.95"/><circle cx="94.40" cy="191.40" r="1.95"/><circle cx="95.64" cy="192.69" r="1.95"/><circle cx="96.89" cy="191.09" r="1.95"/><circle cx="98.14" cy="191.30" r="1.95"/><circle cx="99.39" cy="190.23" r="1.95"/><circle cx="100.64" cy="193.03" r="1.95"/><circle cx="101.88" cy="192.63" r="1.95"/><circle cx="103.13" cy="192.68" r="1.95"/><circle cx="104.38" cy="192.59" r="1.95"/><circle cx="105.63" cy="192.24" r="1.95"/><circle cx="106.87" cy="192.44" r="1.95"/><circle cx="108.12" cy="192.19" r="1.95"/><circle cx="109.37" cy="192.35" r="1.95"/><circle cx="110.62" cy="192.70" r="1.95"/><circle cx="111.86" cy="194.01" r="1.95"/><circle cx="113.11" cy="193.40" r="1.95"/><circle cx="114.36" cy="193.08" r="1.95"/><circle cx="115.61" cy="192.85" r="1.95"/><circle cx="116.86" cy="193.00" r="1.95"/><circle cx="118.10" cy="195.01" r="1.95"/><circle cx="119.35" cy="194.37" r="1.95"/><circle cx="120.60" cy="194.27" r="1.95"/><circle cx="121.85" cy="194.22" r="1.95"/><circle cx="123.09" cy="193.92" r="1.95"/><circle cx="124.34" cy="195.09" r="1.95"/><circle cx="125.59" cy="196.21" r="1.95"/><circle cx="126.84" cy="195.61" r="1.95"/><circle cx="128.09" cy="196.19" r="1.95"/><circle cx="129.33" cy="196.71" r="1.95"/><circle cx="130.58" cy="197.54" r="1.95"/><circle cx="131.83" cy="196.83" r="1.95"/><circle cx="133.08" cy="198.65" r="1.95"/><circle cx="134.32" cy="198.99" r="1.95"/><circle cx="135.57" cy="201.35" r="1.95"/><circle cx="136.82" cy="201.16" r="1.95"/><circle cx="138.07" cy="203.57" r="1.95"/><circle cx="139.31" cy="205.92" r="1.95"/><circle cx="140.56" cy="206.38" r="1.95"/><circle cx="141.81" cy="208.53" r="1.95"/><circle cx="143.06" cy="212.14" r="1.95"/><circle cx="144.31" cy="215.78" r="1.95"/><circle cx="145.55" cy="219.89" r="1.95"/><circle cx="146.80" cy="227.43" r="1.95"/><circle cx="148.05" cy="236.97" r="1.95"/><circle cx="149.30" cy="245.76" r="1.95"/><circle cx="150.54" cy="258.73" r="1.95"/><circle cx="151.79" cy="272.40" r="1.95"/><circle cx="153.04" cy="287.25" r="1.95"/><circle cx="154.29" cy="296.28" r="1.95"/><circle cx="155.53" cy="300.08" r="1.95"/><circle cx="156.78" cy="299.36" r="1.95"/><circle cx="158.03" cy="292.88" r="1.95"/><circle cx="159.28" cy="290.33" r="1.95"/><circle cx="160.53" cy="287.18" r="1.95"/><circle cx="161.77" cy="282.38" r="1.95"/><circle cx="163.02" cy="277.80" r="1.95"/><circle cx="164.27" cy="272.89" r="1.95"/><circle cx="165.52" cy="264.20" r="1.95"/><circle cx="166.76" cy="256.50" r="1.95"/><circle cx="168.01" cy="248.58" r="1.95"/><circle cx="169.26" cy="242.85" r="1.95"/><circle cx="170.51" cy="237.86" r="1.95"/><circle cx="171.76" cy="232.20" r="1.95"/><circle cx="173.00" cy="226.73" r="1.95"/><circle cx="174.25" cy="224.60" r="1.95"/><circle cx="175.50" cy="221.70" r="1.95"/><circle cx="176.75" cy="217.59" r="1.95"/><circle cx="177.99" cy="213.97" r="1.95"/><circle cx="179.24" cy="212.15" r="1.95"/><circle cx="180.49" cy="210.65" r="1.95"/><circle cx="181.74" cy="209.04" r="1.95"/><circle cx="182.98" cy="208.46" r="1.95"/><circle cx="184.23" cy="208.18" r="1.95"/><circle cx="185.48" cy="207.76" r="1.95"/><circle cx="186.73" cy="208.32" r="1.95"/><circle cx="187.98" cy="209.79" r="1.95"/><circle cx="189.22" cy="209.46" r="1.95"/><circle cx="190.47" cy="210.09" r="1.95"/><circle cx="191.72" cy="210.18" r="1.95"/><circle cx="192.97" cy="213.85" r="1.95"/><circle cx="194.21" cy="214.63" r="1.95"/><circle cx="195.46" cy="218.49" r="1.95"/><circle cx="196.71" cy="224.66" r="1.95"/><circle cx="197.96" cy="229.95" r="1.95"/><circle cx="199.21" cy="235.73" r="1.95"/><circle cx="200.45" cy="241.69" r="1.95"/><circle cx="201.70" cy="250.11" r="1.95"/><circle cx="202.95" cy="257.02" r="1.95"/><circle cx="204.20" cy="265.15" r="1.95"/><circle cx="205.44" cy="273.44" r="1.95"/><circle cx="206.69" cy="278.34" r="1.95"/><circle cx="207.94" cy="283.40" r="1.95"/><circle cx="209.19" cy="288.43" r="1.95"/><circle cx="210.43" cy="294.46" r="1.95"/><circle cx="211.68" cy="298.91" r="1.95"/><circle cx="212.93" cy="300.27" r="1.95"/><circle cx="214.18" cy="298.32" r="1.95"/><circle cx="215.43" cy="288.16" r="1.95"/><circle cx="216.67" cy="276.66" r="1.95"/><circle cx="217.92" cy="262.56" r="1.95"/><circle cx="219.17" cy="253.13" r="1.95"/><circle cx="220.42" cy="237.20" r="1.95"/><circle cx="221.66" cy="228.72" r="1.95"/><circle cx="222.91" cy="221.21" r="1.95"/><circle cx="224.16" cy="215.65" r="1.95"/><circle cx="225.41" cy="211.58" r="1.95"/><circle cx="226.65" cy="207.63" r="1.95"/><circle cx="227.90" cy="205.03" r="1.95"/><circle cx="229.15" cy="204.83" r="1.95"/><circle cx="230.40" cy="202.43" r="1.95"/><circle cx="231.65" cy="201.41" r="1.95"/><circle cx="232.89" cy="200.91" r="1.95"/><circle cx="234.14" cy="197.76" r="1.95"/><circle cx="235.39" cy="197.69" r="1.95"/><circle cx="236.64" cy="197.74" r="1.95"/><circle cx="237.88" cy="197.28" r="1.95"/><circle cx="239.13" cy="196.11" r="1.95"/><circle cx="240.38" cy="196.74" r="1.95"/><circle cx="241.63" cy="195.65" r="1.95"/><circle cx="242.88" cy="194.11" r="1.95"/><circle cx="244.12" cy="193.99" r="1.95"/><circle cx="245.37" cy="195.06" r="1.95"/><circle cx="246.62" cy="194.50" r="1.95"/><circle cx="247.87" cy="192.34" r="1.95"/><circle cx="249.11" cy="194.70" r="1.95"/><circle cx="250.36" cy="193.88" r="1.95"/><circle cx="251.61" cy="194.28" r="1.95"/><circle cx="252.86" cy="192.71" r="1.95"/><circle cx="254.10" cy="192.61" r="1.95"/><circle cx="255.35" cy="191.79" r="1.95"/><circle cx="256.60" cy="194.57" r="1.95"/><circle cx="257.85" cy="192.27" r="1.95"/><circle cx="259.10" cy="193.55" r="1.95"/><circle cx="260.34" cy="191.64" r="1.95"/><circle cx="261.59" cy="192.18" r="1.95"/><circle cx="262.84" cy="190.61" r="1.95"/><circle cx="264.09" cy="191.55" r="1.95"/><circle cx="265.33" cy="192.55" r="1.95"/><circle cx="266.58" cy="190.67" r="1.95"/><circle cx="267.83" cy="192.45" r="1.95"/><circle cx="269.08" cy="191.79" r="1.95"/><circle cx="270.33" cy="190.61" r="1.95"/><circle cx="271.57" cy="190.98" r="1.95"/><circle cx="272.82" cy="190.95" r="1.95"/><circle cx="274.07" cy="191.22" r="1.95"/><circle cx="275.32" cy="190.77" r="1.95"/><circle cx="276.56" cy="190.48" r="1.95"/><circle cx="277.81" cy="190.85" r="1.95"/><circle cx="279.06" cy="190.22" r="1.95"/><circle cx="280.31" cy="189.97" r="1.95"/><circle cx="281.55" cy="190.91" r="1.95"/><circle cx="282.80" cy="191.62" r="1.95"/><circle cx="284.05" cy="189.65" r="1.95"/><circle cx="285.30" cy="190.83" r="1.95"/><circle cx="286.55" cy="190.27" r="1.95"/><circle cx="287.79" cy="189.98" r="1.95"/><circle cx="289.04" cy="191.41" r="1.95"/><circle cx="290.29" cy="190.28" r="1.95"/><circle cx="291.54" cy="191.86" r="1.95"/><circle cx="292.78" cy="190.01" r="1.95"/><circle cx="294.03" cy="190.91" r="1.95"/><circle cx="295.28" cy="190.39" r="1.95"/><circle cx="296.53" cy="189.95" r="1.95"/><circle cx="297.77" cy="190.99" r="1.95"/><circle cx="299.02" cy="190.37" r="1.95"/><circle cx="300.27" cy="190.96" r="1.95"/><circle cx="301.52" cy="190.41" r="1.95"/><circle cx="302.77" cy="189.56" r="1.95"/><circle cx="304.01" cy="190.33" r="1.95"/><circle cx="305.26" cy="190.43" r="1.95"/><circle cx="306.51" cy="191.14" r="1.95"/><circle cx="307.76" cy="189.62" r="1.95"/><circle cx="309.00" cy="190.30" r="1.95"/><circle cx="310.25" cy="188.94" r="1.95"/><circle cx="311.50" cy="190.82" r="1.95"/><circle cx="312.75" cy="189.41" r="1.95"/><circle cx="314.00" cy="188.82" r="1.95"/><circle cx="315.24" cy="190.20" r="1.95"/><circle cx="316.49" cy="191.12" r="1.95"/><circle cx="317.74" cy="189.00" r="1.95"/><circle cx="318.99" cy="189.33" r="1.95"/><circle cx="320.23" cy="189.60" r="1.95"/></g>
<path d="M29.70,347.60 L30.19,347.61 L30.67,347.61 L31.16,347.61 L31.65,347.61 L32.14,347.61 L32.62,347.61 L33.11,347.61 L33.60,347.61 L34.09,347.61 L34.57,347.61 L35.06,347.61 L35.55,347.62 L36.04,347.62 L36.52,347.62 L37.01,347.62 L37.50,347.62 L37.99,347.62 L38.47,347.62 L38.96,347.62 L39.45,347.62 L39.94,347.62 L40.42,347.63 L40.91,347.63 L41.40,347.63 L41.89,347.63 L42.37,347.63 L42.86,347.63 L43.35,347.63 L43.84,347.63 L44.32,347.63 L44.81,347.64 L45.30,347.64 L45.79,347.64 L46.27,347.64 L46.76,347.64 L47.25,347.64 L47.74,347.64 L48.22,347.64 L48.71,347.65 L49.20,347.65 L49.69,347.65 L50.17,347.65 L50.66,347.65 L51.15,347.65 L51.64,347.65 L52.12,347.66 L52.61,347.66 L53.10,347.66 L53.59,347.66 L54.07,347.66 L54.56,347.66 L55.05,347.66 L55.54,347.67 L56.02,347.67 L56.51,347.67 L57.00,347.67 L57.49,347.67 L57.97,347.67 L58.46,347.68 L58.95,347.68 L59.44,347.68 L59.92,347.68 L60.41,347.68 L60.90,347.69 L61.39,347.69 L61.87,347.69 L62.36,347.69 L62.85,347.69 L63.34,347.69 L63.82,347.70 L64.31,347.70 L64.80,347.70 L65.29,347.70 L65.77,347.70 L66.26,347.71 L66.75,347.71 L67.24,347.71 L67.72,347.71 L68.21,347.72 L68.70,347.72 L69.19,347.72 L69.67,347.72 L70.16,347.73 L70.65,347.73 L71.14,347.73 L71.62,347.73 L72.11,347.74 L72.60,347.74 L73.09,347.74 L73.57,347.74 L74.06,347.75 L74.55,347.75 L75.04,347.75 L75.52,347.76 L76.01,347.76 L76.50,347.76 L76.99,347.76 L77.47,347.77 L77.96,347.77 L78.45,347.77 L78.94,347.78 L79.42,347.78 L79.91,347.78 L80.40,347.79 L80.89,347.79 L81.37,347.79 L81.86,347.80 L82.35,347.80 L82.84,347.81 L83.32,347.81 L83.81,347.81 L84.30,347.82 L84.79,347.82 L85.27,347.83 L85.76,347.83 L86.25,347.84 L86.74,347.84 L87.22,347.84 L87.71,347.85 L88.20,347.85 L88.68,347.86 L89.17,347.86 L89.66,347.87 L90.15,347.87 L90.63,347.88 L91.12,347.88 L91.61,347.89 L92.10,347.90 L92.58,347.90 L93.07,347.91 L93.56,347.91 L94.05,347.92 L94.53,347.93 L95.02,347.93 L95.51,347.94 L96.00,347.95 L96.48,347.95 L96.97,347.96 L97.46,347.97 L97.95,347.97 L98.43,347.98 L98.92,347.99 L99.41,348.00 L99.90,348.01 L100.38,348.01 L100.87,348.02 L101.36,348.03 L101.85,348.04 L102.33,348.05 L102.82,348.06 L103.31,348.07 L103.80,348.08 L104.28,348.09 L104.77,348.10 L105.26,348.11 L105.75,348.12 L106.23,348.13 L106.72,348.15 L107.21,348.16 L107.70,348.17 L108.18,348.18 L108.67,348.20 L109.16,348.21 L109.65,348.22 L110.13,348.24 L110.62,348.25 L111.11,348.27 L111.60,348.29 L112.08,348.30 L112.57,348.32 L113.06,348.34 L113.55,348.35 L114.03,348.37 L114.52,348.39 L115.01,348.41 L115.50,348.43 L115.98,348.46 L116.47,348.48 L116.96,348.50 L117.45,348.53 L117.93,348.55 L118.42,348.58 L118.91,348.60 L119.40,348.63 L119.88,348.66 L120.37,348.69 L120.86,348.72 L121.35,348.76 L121.83,348.79 L122.32,348.83 L122.81,348.86 L123.30,348.90 L123.78,348.94 L124.27,348.98 L124.76,349.03 L125.25,349.08 L125.73,349.12 L126.22,349.18 L126.71,349.23 L127.20,349.29 L127.68,349.34 L128.17,349.41 L128.66,349.47 L129.15,349.54 L129.63,349.61 L130.12,349.69 L130.61,349.77 L131.10,349.86 L131.58,349.95 L132.07,350.05 L132.56,350.15 L133.05,350.26 L133.53,350.37 L134.02,350.50 L134.51,350.63 L135.00,350.77 L135.48,350.92 L135.97,351.08 L136.46,351.26 L136.95,351.44 L137.43,351.65 L137.92,351.86 L138.41,352.10 L138.90,352.35 L139.38,352.63 L139.87,352.92 L140.36,353.25 L140.85,353.61 L141.33,353.99 L141.82,354.42 L142.31,354.89 L142.80,355.41 L143.28,355.98 L143.77,356.61 L144.26,357.32 L144.75,358.10 L145.23,358.98 L145.72,359.96 L146.21,361.06 L146.69,362.31 L147.18,363.71 L147.67,365.29 L148.16,367.09 L148.64,369.12 L149.13,371.42 L149.62,374.03 L150.11,376.95 L150.59,380.21 L151.08,383.81 L151.57,387.70 L152.06,391.81 L152.54,395.99 L153.03,400.02 L153.52,403.61 L154.01,406.43 L154.49,408.17 L154.98,408.63 L155.47,407.74 L155.96,405.61 L156.44,402.51 L156.93,398.75 L157.42,394.65 L157.91,390.48 L158.39,386.45 L158.88,382.66 L159.37,379.18 L159.86,376.05 L160.34,373.25 L160.83,370.76 L161.32,368.57 L161.81,366.63 L162.29,364.92 L162.78,363.41 L163.27,362.08 L163.76,360.90 L164.24,359.85 L164.73,358.92 L165.22,358.09 L165.71,357.35 L166.19,356.69 L166.68,356.09 L167.17,355.55 L167.66,355.07 L168.14,354.63 L168.63,354.23 L169.12,353.87 L169.61,353.54 L170.09,353.24 L170.58,352.97 L171.07,352.72 L171.56,352.49 L172.04,352.28 L172.53,352.09 L173.02,351.91 L173.51,351.75 L173.99,351.60 L174.48,351.47 L174.97,351.34 L175.46,351.23 L175.94,351.12 L176.43,351.02 L176.92,350.93 L177.41,350.85 L177.89,350.78 L178.38,350.71 L178.87,350.65 L179.36,350.60 L179.84,350.55 L180.33,350.51 L180.82,350.47 L181.31,350.44 L181.79,350.41 L182.28,350.38 L182.77,350.36 L183.26,350.35 L183.74,350.34 L184.23,350.34 L184.72,350.33 L185.21,350.34 L185.69,350.34 L186.18,350.36 L186.67,350.37 L187.16,350.39 L187.64,350.42 L188.13,350.45 L188.62,350.49 L189.11,350.53 L189.59,350.57 L190.08,350.62 L190.57,350.68 L191.06,350.75 L191.54,350.82 L192.03,350.89 L192.52,350.98 L193.01,351.07 L193.49,351.17 L193.98,351.28 L194.47,351.40 L194.96,351.53 L195.44,351.67 L195.93,351.83 L196.42,352.00 L196.91,352.18 L197.39,352.38 L197.88,352.60 L198.37,352.84 L198.86,353.10 L199.34,353.38 L199.83,353.70 L200.32,354.04 L200.81,354.42 L201.29,354.84 L201.78,355.30 L202.27,355.81 L202.76,356.37 L203.24,357.00 L203.73,357.70 L204.22,358.48 L204.71,359.36 L205.19,360.35 L205.68,361.46 L206.17,362.71 L206.65,364.12 L207.14,365.72 L207.63,367.54 L208.12,369.60 L208.60,371.93 L209.09,374.57 L209.58,377.53 L210.07,380.83 L210.55,384.46 L211.04,388.38 L211.53,392.50 L212.02,396.66 L212.50,400.63 L212.99,404.12 L213.48,406.78 L213.97,408.33 L214.45,408.58 L214.94,407.48 L215.43,405.18 L215.92,401.94 L216.40,398.10 L216.89,393.97 L217.38,389.80 L217.87,385.78 L218.35,382.02 L218.84,378.58 L219.33,375.49 L219.82,372.72 L220.30,370.27 L220.79,368.10 L221.28,366.19 L221.77,364.50 L222.25,363.01 L222.74,361.68 L223.23,360.51 L223.72,359.47 L224.20,358.54 L224.69,357.71 L225.18,356.97 L225.67,356.30 L226.15,355.69 L226.64,355.15 L227.13,354.66 L227.62,354.21 L228.10,353.80 L228.59,353.43 L229.08,353.09 L229.57,352.78 L230.05,352.49 L230.54,352.22 L231.03,351.98 L231.52,351.75 L232.00,351.55 L232.49,351.35 L232.98,351.17 L233.47,351.00 L233.95,350.85 L234.44,350.70 L234.93,350.57 L235.42,350.44 L235.90,350.32 L236.39,350.20 L236.88,350.10 L237.37,350.00 L237.85,349.91 L238.34,349.82 L238.83,349.73 L239.32,349.65 L239.80,349.58 L240.29,349.51 L240.78,349.44 L241.27,349.38 L241.75,349.32 L242.24,349.26 L242.73,349.20 L243.22,349.15 L243.70,349.10 L244.19,349.05 L244.68,349.01 L245.17,348.96 L245.65,348.92 L246.14,348.88 L246.63,348.84 L247.12,348.81 L247.60,348.77 L248.09,348.74 L248.58,348.71 L249.07,348.68 L249.55,348.65 L250.04,348.62 L250.53,348.59 L251.02,348.56 L251.50,348.54 L251.99,348.51 L252.48,348.49 L252.97,348.47 L253.45,348.45 L253.94,348.42 L254.43,348.40 L254.92,348.38 L255.40,348.36 L255.89,348.35 L256.38,348.33 L256.87,348.31 L257.35,348.29 L257.84,348.28 L258.33,348.26 L258.82,348.25 L259.30,348.23 L259.79,348.22 L260.28,348.20 L260.77,348.19 L261.25,348.18 L261.74,348.16 L262.23,348.15 L262.72,348.14 L263.20,348.13 L263.69,348.12 L264.18,348.11 L264.66,348.09 L265.15,348.08 L265.64,348.07 L266.13,348.06 L266.61,348.05 L267.10,348.05 L267.59,348.04 L268.08,348.03 L268.56,348.02 L269.05,348.01 L269.54,348.00 L270.03,347.99 L270.51,347.99 L271.00,347.98 L271.49,347.97 L271.98,347.96 L272.46,347.96 L272.95,347.95 L273.44,347.94 L273.93,347.94 L274.41,347.93 L274.90,347.92 L275.39,347.92 L275.88,347.91 L276.36,347.90 L276.85,347.90 L277.34,347.89 L277.83,347.89 L278.31,347.88 L278.80,347.88 L279.29,347.87 L279.78,347.87 L280.26,347.86 L280.75,347.86 L281.24,347.85 L281.73,347.85 L282.21,347.84 L282.70,347.84 L283.19,347.83 L283.68,347.83 L284.16,347.82 L284.65,347.82 L285.14,347.82 L285.63,347.81 L286.11,347.81 L286.60,347.80 L287.09,347.80 L287.58,347.80 L288.06,347.79 L288.55,347.79 L289.04,347.79 L289.53,347.78 L290.01,347.78 L290.50,347.78 L290.99,347.77 L291.48,347.77 L291.96,347.77 L292.45,347.76 L292.94,347.76 L293.43,347.76 L293.91,347.75 L294.40,347.75 L294.89,347.75 L295.38,347.75 L295.86,347.74 L296.35,347.74 L296.84,347.74 L297.33,347.73 L297.81,347.73 L298.30,347.73 L298.79,347.73 L299.28,347.72 L299.76,347.72 L300.25,347.72 L300.74,347.72 L301.23,347.71 L301.71,347.71 L302.20,347.71 L302.69,347.71 L303.18,347.71 L303.66,347.70 L304.15,347.70 L304.64,347.70 L305.13,347.70 L305.61,347.70 L306.10,347.69 L306.59,347.69 L307.08,347.69 L307.56,347.69 L308.05,347.69 L308.54,347.68 L309.03,347.68 L309.51,347.68 L310.00,347.68 L310.49,347.68 L310.98,347.68 L311.46,347.67 L311.95,347.67 L312.44,347.67 L312.93,347.67 L313.41,347.67 L313.90,347.67 L314.39,347.66 L314.88,347.66 L315.36,347.66 L315.85,347.66 L316.34,347.66 L316.83,347.66 L317.31,347.65 L317.80,347.65 L318.29,347.65 L318.78,347.65 L319.26,347.65 L319.75,347.65 L320.24,347.65 L320.73,347.65 L321.21,347.64 L321.70,347.64" fill="none" stroke="#000" stroke-width="1.2"/>
<path d="M29.70,347.53 L30.19,347.53 L30.67,347.53 L31.16,347.53 L31.65,347.53 L32.14,347.53 L32.62,347.53 L33.11,347.53 L33.60,347.53 L34.09,347.53 L34.57,347.53 L35.06,347.53 L35.55,347.53 L36.04,347.53 L36.52,347.54 L37.01,347.54 L37.50,347.54 L37.99,347.54 L38.47,347.54 L38.96,347.54 L39.45,347.54 L39.94,347.54 L40.42,347.54 L40.91,347.54 L41.40,347.54 L41.89,347.54 L42.37,347.54 L42.86,347.54 L43.35,347.54 L43.84,347.54 L44.32,347.54 L44.81,347.54 L45.30,347.54 L45.79,347.54 L46.27,347.54 L46.76,347.54 L47.25,347.54 L47.74,347.54 L48.22,347.55 L48.71,347.55 L49.20,347.55 L49.69,347.55 L50.17,347.55 L50.66,347.55 L51.15,347.55 L51.64,347.55 L52.12,347.55 L52.61,347.55 L53.10,347.55 L53.59,347.55 L54.07,347.55 L54.56,347.55 L55.05,347.55 L55.54,347.55 L56.02,347.55 L56.51,347.55 L57.00,347.55 L57.49,347.56 L57.97,347.56 L58.46,347.56 L58.95,347.56 L59.44,347.56 L59.92,347.56 L60.41,347.56 L60.90,347.56 L61.39,347.56 L61.87,347.56 L62.36,347.56 L62.85,347.56 L63.34,347.56 L63.82,347.56 L64.31,347.56 L64.80,347.57 L65.29,347.57 L65.77,347.57 L66.26,347.57 L66.75,347.57 L67.24,347.57 L67.72,347.57 L68.21,347.57 L68.70,347.57 L69.19,347.57 L69.67,347.57 L70.16,347.57 L70.65,347.58 L71.14,347.58 L71.62,347.58 L72.11,347.58 L72.60,347.58 L73.09,347.58 L73.57,347.58 L74.06,347.58 L74.55,347.58 L75.04,347.58 L75.52,347.58 L76.01,347.59 L76.50,347.59 L76.99,347.59 L77.47,347.59 L77.96,347.59 L78.45,347.59 L78.94,347.59 L79.42,347.59 L79.91,347.59 L80.40,347.60 L80.89,347.60 L81.37,347.60 L81.86,347.60 L82.35,347.60 L82.84,347.60 L83.32,347.60 L83.81,347.60 L84.30,347.61 L84.79,347.61 L85.27,347.61 L85.76,347.61 L86.25,347.61 L86.74,347.61 L87.22,347.61 L87.71,347.62 L88.20,347.62 L88.68,347.62 L89.17,347.62 L89.66,347.62 L90.15,347.62 L90.63,347.63 L91.12,347.63 L91.61,347.63 L92.10,347.63 L92.58,347.63 L93.07,347.64 L93.56,347.64 L94.05,347.64 L94.53,347.64 L95.02,347.64 L95.51,347.65 L96.00,347.65 L96.48,347.65 L96.97,347.65 L97.46,347.66 L97.95,347.66 L98.43,347.66 L98.92,347.66 L99.41,347.67 L99.90,347.67 L100.38,347.67 L100.87,347.67 L101.36,347.68 L101.85,347.68 L102.33,347.68 L102.82,347.69 L103.31,347.69 L103.80,347.69 L104.28,347.69 L104.77,347.70 L105.26,347.70 L105.75,347.70 L106.23,347.71 L106.72,347.71 L107.21,347.72 L107.70,347.72 L108.18,347.72 L108.67,347.73 L109.16,347.73 L109.65,347.74 L110.13,347.74 L110.62,347.75 L111.11,347.75 L111.60,347.75 L112.08,347.76 L112.57,347.76 L113.06,347.77 L113.55,347.78 L114.03,347.78 L114.52,347.79 L115.01,347.79 L115.50,347.80 L115.98,347.80 L116.47,347.81 L116.96,347.82 L117.45,347.82 L117.93,347.83 L118.42,347.84 L118.91,347.85 L119.40,347.85 L119.88,347.86 L120.37,347.87 L120.86,347.88 L121.35,347.89 L121.83,347.90 L122.32,347.91 L122.81,347.92 L123.30,347.93 L123.78,347.94 L124.27,347.95 L124.76,347.96 L125.25,347.97 L125.73,347.99 L126.22,348.00 L126.71,348.01 L127.20,348.03 L127.68,348.04 L128.17,348.06 L128.66,348.08 L129.15,348.09 L129.63,348.11 L130.12,348.13 L130.61,348.15 L131.10,348.17 L131.58,348.19 L132.07,348.21 L132.56,348.24 L133.05,348.26 L133.53,348.29 L134.02,348.32 L134.51,348.35 L135.00,348.38 L135.48,348.41 L135.97,348.44 L136.46,348.48 L136.95,348.52 L137.43,348.56 L137.92,348.60 L138.41,348.65 L138.90,348.70 L139.38,348.75 L139.87,348.81 L140.36,348.87 L140.85,348.94 L141.33,349.01 L141.82,349.08 L142.31,349.16 L142.80,349.25 L143.28,349.34 L143.77,349.45 L144.26,349.56 L144.75,349.68 L145.23,349.81 L145.72,349.96 L146.21,350.12 L146.69,350.29 L147.18,350.48 L147.67,350.70 L148.16,350.93 L148.64,351.19 L149.13,351.49 L149.62,351.81 L150.11,352.18 L150.59,352.60 L151.08,353.06 L151.57,353.59 L152.06,354.20 L152.54,354.89 L153.03,355.67 L153.52,356.58 L154.01,357.61 L154.49,358.79 L154.98,360.15 L155.47,361.68 L155.96,363.40 L156.44,365.31 L156.93,367.35 L157.42,369.48 L157.91,371.55 L158.39,373.42 L158.88,374.88 L159.37,375.74 L159.86,375.88 L160.34,375.28 L160.83,374.02 L161.32,372.29 L161.81,370.27 L162.29,368.16 L162.78,366.08 L163.27,364.13 L163.76,362.35 L164.24,360.76 L164.73,359.36 L165.22,358.13 L165.71,357.05 L166.19,356.12 L166.68,355.30 L167.17,354.59 L167.66,353.97 L168.14,353.43 L168.63,352.95 L169.12,352.53 L169.61,352.16 L170.09,351.83 L170.58,351.54 L171.07,351.28 L171.56,351.05 L172.04,350.84 L172.53,350.66 L173.02,350.49 L173.51,350.35 L173.99,350.21 L174.48,350.09 L174.97,349.99 L175.46,349.89 L175.94,349.80 L176.43,349.73 L176.92,349.66 L177.41,349.60 L177.89,349.54 L178.38,349.49 L178.87,349.45 L179.36,349.42 L179.84,349.38 L180.33,349.36 L180.82,349.34 L181.31,349.32 L181.79,349.31 L182.28,349.31 L182.77,349.31 L183.26,349.31 L183.74,349.32 L184.23,349.33 L184.72,349.34 L185.21,349.37 L185.69,349.39 L186.18,349.43 L186.67,349.46 L187.16,349.51 L187.64,349.56 L188.13,349.61 L188.62,349.68 L189.11,349.75 L189.59,349.83 L190.08,349.92 L190.57,350.01 L191.06,350.13 L191.54,350.25 L192.03,350.39 L192.52,350.54 L193.01,350.71 L193.49,350.90 L193.98,351.11 L194.47,351.35 L194.96,351.62 L195.44,351.92 L195.93,352.26 L196.42,352.64 L196.91,353.08 L197.39,353.57 L197.88,354.14 L198.37,354.78 L198.86,355.52 L199.34,356.37 L199.83,357.34 L200.32,358.46 L200.81,359.73 L201.29,361.19 L201.78,362.84 L202.27,364.66 L202.76,366.66 L203.24,368.75 L203.73,370.85 L204.22,372.81 L204.71,374.43 L205.19,375.52 L205.68,375.92 L206.17,375.57 L206.65,374.52 L207.14,372.93 L207.63,370.98 L208.12,368.88 L208.60,366.77 L209.09,364.75 L209.58,362.90 L210.07,361.23 L210.55,359.75 L211.04,358.44 L211.53,357.30 L212.02,356.31 L212.50,355.44 L212.99,354.68 L213.48,354.02 L213.97,353.44 L214.45,352.93 L214.94,352.47 L215.43,352.07 L215.92,351.72 L216.40,351.40 L216.89,351.12 L217.38,350.86 L217.87,350.63 L218.35,350.43 L218.84,350.24 L219.33,350.07 L219.82,349.92 L220.30,349.77 L220.79,349.64 L221.28,349.53 L221.77,349.42 L222.25,349.32 L222.74,349.22 L223.23,349.14 L223.72,349.06 L224.20,348.99 L224.69,348.92 L225.18,348.85 L225.67,348.79 L226.15,348.74 L226.64,348.69 L227.13,348.64 L227.62,348.59 L228.10,348.55 L228.59,348.51 L229.08,348.47 L229.57,348.43 L230.05,348.40 L230.54,348.37 L231.03,348.34 L231.52,348.31 L232.00,348.28 L232.49,348.26 L232.98,348.23 L233.47,348.21 L233.95,348.18 L234.44,348.16 L234.93,348.14 L235.42,348.12 L235.90,348.11 L236.39,348.09 L236.88,348.07 L237.37,348.05 L237.85,348.04 L238.34,348.02 L238.83,348.01 L239.32,348.00 L239.80,347.98 L240.29,347.97 L240.78,347.96 L241.27,347.95 L241.75,347.94 L242.24,347.93 L242.73,347.92 L243.22,347.91 L243.70,347.90 L244.19,347.89 L244.68,347.88 L245.17,347.87 L245.65,347.86 L246.14,347.85 L246.63,347.84 L247.12,347.84 L247.60,347.83 L248.09,347.82 L248.58,347.82 L249.07,347.81 L249.55,347.80 L250.04,347.80 L250.53,347.79 L251.02,347.78 L251.50,347.78 L251.99,347.77 L252.48,347.77 L252.97,347.76 L253.45,347.76 L253.94,347.75 L254.43,347.75 L254.92,347.74 L255.40,347.74 L255.89,347.73 L256.38,347.73 L256.87,347.73 L257.35,347.72 L257.84,347.72 L258.33,347.71 L258.82,347.71 L259.30,347.71 L259.79,347.70 L260.28,347.70 L260.77,347.70 L261.25,347.69 L261.74,347.69 L262.23,347.69 L262.72,347.68 L263.20,347.68 L263.69,347.68 L264.18,347.68 L264.66,347.67 L265.15,347.67 L265.64,347.67 L266.13,347.66 L266.61,347.66 L267.10,347.66 L267.59,347.66 L268.08,347.65 L268.56,347.65 L269.05,347.65 L269.54,347.65 L270.03,347.65 L270.51,347.64 L271.00,347.64 L271.49,347.64 L271.98,347.64 L272.46,347.64 L272.95,347.63 L273.44,347.63 L273.93,347.63 L274.41,347.63 L274.90,347.63 L275.39,347.62 L275.88,347.62 L276.36,347.62 L276.85,347.62 L277.34,347.62 L277.83,347.62 L278.31,347.61 L278.80,347.61 L279.29,347.61 L279.78,347.61 L280.26,347.61 L280.75,347.61 L281.24,347.61 L281.73,347.60 L282.21,347.60 L282.70,347.60 L283.19,347.60 L283.68,347.60 L284.16,347.60 L284.65,347.60 L285.14,347.60 L285.63,347.59 L286.11,347.59 L286.60,347.59 L287.09,347.59 L287.58,347.59 L288.06,347.59 L288.55,347.59 L289.04,347.59 L289.53,347.59 L290.01,347.58 L290.50,347.58 L290.99,347.58 L291.48,347.58 L291.96,347.58 L292.45,347.58 L292.94,347.58 L293.43,347.58 L293.91,347.58 L294.40,347.58 L294.89,347.57 L295.38,347.57 L295.86,347.57 L296.35,347.57 L296.84,347.57 L297.33,347.57 L297.81,347.57 L298.30,347.57 L298.79,347.57 L299.28,347.57 L299.76,347.57 L300.25,347.57 L300.74,347.57 L301.23,347.56 L301.71,347.56 L302.20,347.56 L302.69,347.56 L303.18,347.56 L303.66,347.56 L304.15,347.56 L304.64,347.56 L305.13,347.56 L305.61,347.56 L306.10,347.56 L306.59,347.56 L307.08,347.56 L307.56,347.56 L308.05,347.56 L308.54,347.55 L309.03,347.55 L309.51,347.55 L310.00,347.55 L310.49,347.55 L310.98,347.55 L311.46,347.55 L311.95,347.55 L312.44,347.55 L312.93,347.55 L313.41,347.55 L313.90,347.55 L314.39,347.55 L314.88,347.55 L315.36,347.55 L315.85,347.55 L316.34,347.55 L316.83,347.55 L317.31,347.55 L317.80,347.54 L318.29,347.54 L318.78,347.54 L319.26,347.54 L319.75,347.54 L320.24,347.54 L320.73,347.54 L321.21,347.54 L321.70,347.54" fill="none" stroke="#000" stroke-width="1.2"/>
<path d="M29.70,347.52 L30.19,347.52 L30.67,347.52 L31.16,347.52 L31.65,347.52 L32.14,347.52 L32.62,347.52 L33.11,347.52 L33.60,347.52 L34.09,347.52 L34.57,347.52 L35.06,347.52 L35.55,347.52 L36.04,347.52 L36.52,347.52 L37.01,347.52 L37.50,347.52 L37.99,347.52 L38.47,347.52 L38.96,347.52 L39.45,347.53 L39.94,347.53 L40.42,347.53 L40.91,347.53 L41.40,347.53 L41.89,347.53 L42.37,347.53 L42.86,347.53 L43.35,347.53 L43.84,347.53 L44.32,347.53 L44.81,347.53 L45.30,347.53 L45.79,347.53 L46.27,347.53 L46.76,347.53 L47.25,347.53 L47.74,347.53 L48.22,347.53 L48.71,347.53 L49.20,347.53 L49.69,347.53 L50.17,347.53 L50.66,347.53 L51.15,347.53 L51.64,347.53 L52.12,347.53 L52.61,347.53 L53.10,347.53 L53.59,347.53 L54.07,347.54 L54.56,347.54 L55.05,347.54 L55.54,347.54 L56.02,347.54 L56.51,347.54 L57.00,347.54 L57.49,347.54 L57.97,347.54 L58.46,347.54 L58.95,347.54 L59.44,347.54 L59.92,347.54 L60.41,347.54 L60.90,347.54 L61.39,347.54 L61.87,347.54 L62.36,347.54 L62.85,347.54 L63.34,347.54 L63.82,347.54 L64.31,347.54 L64.80,347.55 L65.29,347.55 L65.77,347.55 L66.26,347.55 L66.75,347.55 L67.24,347.55 L67.72,347.55 L68.21,347.55 L68.70,347.55 L69.19,347.55 L69.67,347.55 L70.16,347.55 L70.65,347.55 L71.14,347.55 L71.62,347.55 L72.11,347.55 L72.60,347.55 L73.09,347.56 L73.57,347.56 L74.06,347.56 L74.55,347.56 L75.04,347.56 L75.52,347.56 L76.01,347.56 L76.50,347.56 L76.99,347.56 L77.47,347.56 L77.96,347.56 L78.45,347.56 L78.94,347.56 L79.42,347.57 L79.91,347.57 L80.40,347.57 L80.89,347.57 L81.37,347.57 L81.86,347.57 L82.35,347.57 L82.84,347.57 L83.32,347.57 L83.81,347.57 L84.30,347.57 L84.79,347.57 L85.27,347.58 L85.76,347.58 L86.25,347.58 L86.74,347.58 L87.22,347.58 L87.71,347.58 L88.20,347.58 L88.68,347.58 L89.17,347.58 L89.66,347.59 L90.15,347.59 L90.63,347.59 L91.12,347.59 L91.61,347.59 L92.10,347.59 L92.58,347.59 L93.07,347.59 L93.56,347.60 L94.05,347.60 L94.53,347.60 L95.02,347.60 L95.51,347.60 L96.00,347.60 L96.48,347.60 L96.97,347.61 L97.46,347.61 L97.95,347.61 L98.43,347.61 L98.92,347.61 L99.41,347.61 L99.90,347.62 L100.38,347.62 L100.87,347.62 L101.36,347.62 L101.85,347.62 L102.33,347.62 L102.82,347.63 L103.31,347.63 L103.80,347.63 L104.28,347.63 L104.77,347.63 L105.26,347.64 L105.75,347.64 L106.23,347.64 L106.72,347.64 L107.21,347.65 L107.70,347.65 L108.18,347.65 L108.67,347.65 L109.16,347.66 L109.65,347.66 L110.13,347.66 L110.62,347.66 L111.11,347.67 L111.60,347.67 L112.08,347.67 L112.57,347.68 L113.06,347.68 L113.55,347.68 L114.03,347.69 L114.52,347.69 L115.01,347.69 L115.50,347.70 L115.98,347.70 L116.47,347.71 L116.96,347.71 L117.45,347.71 L117.93,347.72 L118.42,347.72 L118.91,347.73 L119.40,347.73 L119.88,347.74 L120.37,347.74 L120.86,347.75 L121.35,347.75 L121.83,347.76 L122.32,347.76 L122.81,347.77 L123.30,347.77 L123.78,347.78 L124.27,347.79 L124.76,347.79 L125.25,347.80 L125.73,347.81 L126.22,347.81 L126.71,347.82 L127.20,347.83 L127.68,347.84 L128.17,347.85 L128.66,347.86 L129.15,347.86 L129.63,347.87 L130.12,347.88 L130.61,347.89 L131.10,347.90 L131.58,347.92 L132.07,347.93 L132.56,347.94 L133.05,347.95 L133.53,347.97 L134.02,347.98 L134.51,347.99 L135.00,348.01 L135.48,348.02 L135.97,348.04 L136.46,348.06 L136.95,348.08 L137.43,348.10 L137.92,348.12 L138.41,348.14 L138.90,348.16 L139.38,348.18 L139.87,348.21 L140.36,348.23 L140.85,348.26 L141.33,348.29 L141.82,348.32 L142.31,348.36 L142.80,348.39 L143.28,348.43 L143.77,348.47 L144.26,348.51 L144.75,348.55 L145.23,348.60 L145.72,348.66 L146.21,348.71 L146.69,348.77 L147.18,348.84 L147.67,348.90 L148.16,348.98 L148.64,349.06 L149.13,349.15 L149.62,349.25 L150.11,349.35 L150.59,349.46 L151.08,349.59 L151.57,349.73 L152.06,349.88 L152.54,350.05 L153.03,350.23 L153.52,350.44 L154.01,350.66 L154.49,350.92 L154.98,351.21 L155.47,351.53 L155.96,351.89 L156.44,352.31 L156.93,352.77 L157.42,353.31 L157.91,353.91 L158.39,354.61 L158.88,355.41 L159.37,356.33 L159.86,357.37 L160.34,358.56 L160.83,359.91 L161.32,361.41 L161.81,363.04 L162.29,364.77 L162.78,366.51 L163.27,368.15 L163.76,369.52 L164.24,370.48 L164.73,370.87 L165.22,370.66 L165.71,369.86 L166.19,368.59 L166.68,367.02 L167.17,365.30 L167.66,363.57 L168.14,361.91 L168.63,360.38 L169.12,359.00 L169.61,357.77 L170.09,356.70 L170.58,355.76 L171.07,354.94 L171.56,354.22 L172.04,353.60 L172.53,353.06 L173.02,352.58 L173.51,352.16 L173.99,351.80 L174.48,351.47 L174.97,351.19 L175.46,350.94 L175.94,350.71 L176.43,350.51 L176.92,350.33 L177.41,350.18 L177.89,350.03 L178.38,349.91 L178.87,349.79 L179.36,349.69 L179.84,349.60 L180.33,349.51 L180.82,349.44 L181.31,349.37 L181.79,349.31 L182.28,349.26 L182.77,349.21 L183.26,349.17 L183.74,349.14 L184.23,349.11 L184.72,349.08 L185.21,349.06 L185.69,349.04 L186.18,349.03 L186.67,349.02 L187.16,349.02 L187.64,349.01 L188.13,349.02 L188.62,349.02 L189.11,349.03 L189.59,349.05 L190.08,349.07 L190.57,349.09 L191.06,349.12 L191.54,349.15 L192.03,349.19 L192.52,349.23 L193.01,349.28 L193.49,349.34 L193.98,349.40 L194.47,349.47 L194.96,349.54 L195.44,349.63 L195.93,349.73 L196.42,349.83 L196.91,349.95 L197.39,350.09 L197.88,350.23 L198.37,350.40 L198.86,350.59 L199.34,350.80 L199.83,351.03 L200.32,351.29 L200.81,351.59 L201.29,351.93 L201.78,352.32 L202.27,352.75 L202.76,353.25 L203.24,353.83 L203.73,354.48 L204.22,355.24 L204.71,356.10 L205.19,357.09 L205.68,358.23 L206.17,359.51 L206.65,360.95 L207.14,362.53 L207.63,364.23 L208.12,365.97 L208.60,367.65 L209.09,369.12 L209.58,370.22 L210.07,370.81 L210.55,370.79 L211.04,370.17 L211.53,369.04 L212.02,367.54 L212.50,365.85 L212.99,364.10 L213.48,362.40 L213.97,360.82 L214.45,359.38 L214.94,358.09 L215.43,356.95 L215.92,355.96 L216.40,355.09 L216.89,354.33 L217.38,353.67 L217.87,353.09 L218.35,352.59 L218.84,352.14 L219.33,351.75 L219.82,351.40 L220.30,351.09 L220.79,350.82 L221.28,350.57 L221.77,350.35 L222.25,350.16 L222.74,349.98 L223.23,349.82 L223.72,349.67 L224.20,349.54 L224.69,349.42 L225.18,349.31 L225.67,349.21 L226.15,349.11 L226.64,349.03 L227.13,348.95 L227.62,348.88 L228.10,348.81 L228.59,348.75 L229.08,348.69 L229.57,348.63 L230.05,348.58 L230.54,348.54 L231.03,348.49 L231.52,348.45 L232.00,348.41 L232.49,348.38 L232.98,348.34 L233.47,348.31 L233.95,348.28 L234.44,348.25 L234.93,348.22 L235.42,348.20 L235.90,348.17 L236.39,348.15 L236.88,348.13 L237.37,348.11 L237.85,348.09 L238.34,348.07 L238.83,348.05 L239.32,348.03 L239.80,348.02 L240.29,348.00 L240.78,347.99 L241.27,347.97 L241.75,347.96 L242.24,347.95 L242.73,347.94 L243.22,347.92 L243.70,347.91 L244.19,347.90 L244.68,347.89 L245.17,347.88 L245.65,347.87 L246.14,347.86 L246.63,347.85 L247.12,347.84 L247.60,347.84 L248.09,347.83 L248.58,347.82 L249.07,347.81 L249.55,347.80 L250.04,347.80 L250.53,347.79 L251.02,347.78 L251.50,347.78 L251.99,347.77 L252.48,347.77 L252.97,347.76 L253.45,347.75 L253.94,347.75 L254.43,347.74 L254.92,347.74 L255.40,347.73 L255.89,347.73 L256.38,347.73 L256.87,347.72 L257.35,347.72 L257.84,347.71 L258.33,347.71 L258.82,347.70 L259.30,347.70 L259.79,347.70 L260.28,347.69 L260.77,347.69 L261.25,347.69 L261.74,347.68 L262.23,347.68 L262.72,347.68 L263.20,347.67 L263.69,347.67 L264.18,347.67 L264.66,347.66 L265.15,347.66 L265.64,347.66 L266.13,347.66 L266.61,347.65 L267.10,347.65 L267.59,347.65 L268.08,347.65 L268.56,347.64 L269.05,347.64 L269.54,347.64 L270.03,347.64 L270.51,347.63 L271.00,347.63 L271.49,347.63 L271.98,347.63 L272.46,347.63 L272.95,347.62 L273.44,347.62 L273.93,347.62 L274.41,347.62 L274.90,347.62 L275.39,347.61 L275.88,347.61 L276.36,347.61 L276.85,347.61 L277.34,347.61 L277.83,347.61 L278.31,347.61 L278.80,347.60 L279.29,347.60 L279.78,347.60 L280.26,347.60 L280.75,347.60 L281.24,347.60 L281.73,347.60 L282.21,347.59 L282.70,347.59 L283.19,347.59 L283.68,347.59 L284.16,347.59 L284.65,347.59 L285.14,347.59 L285.63,347.59 L286.11,347.58 L286.60,347.58 L287.09,347.58 L287.58,347.58 L288.06,347.58 L288.55,347.58 L289.04,347.58 L289.53,347.58 L290.01,347.58 L290.50,347.57 L290.99,347.57 L291.48,347.57 L291.96,347.57 L292.45,347.57 L292.94,347.57 L293.43,347.57 L293.91,347.57 L294.40,347.57 L294.89,347.57 L295.38,347.57 L295.86,347.56 L296.35,347.56 L296.84,347.56 L297.33,347.56 L297.81,347.56 L298.30,347.56 L298.79,347.56 L299.28,347.56 L299.76,347.56 L300.25,347.56 L300.74,347.56 L301.23,347.56 L301.71,347.56 L302.20,347.56 L302.69,347.55 L303.18,347.55 L303.66,347.55 L304.15,347.55 L304.64,347.55 L305.13,347.55 L305.61,347.55 L306.10,347.55 L306.59,347.55 L307.08,347.55 L307.56,347.55 L308.05,347.55 L308.54,347.55 L309.03,347.55 L309.51,347.55 L310.00,347.55 L310.49,347.55 L310.98,347.54 L311.46,347.54 L311.95,347.54 L312.44,347.54 L312.93,347.54 L313.41,347.54 L313.90,347.54 L314.39,347.54 L314.88,347.54 L315.36,347.54 L315.85,347.54 L316.34,347.54 L316.83,347.54 L317.31,347.54 L317.80,347.54 L318.29,347.54 L318.78,347.54 L319.26,347.54 L319.75,347.54 L320.24,347.54 L320.73,347.54 L321.21,347.54 L321.70,347.53" fill="none" stroke="#000" stroke-width="1.2"/>
<path d="M29.70,347.50 L30.19,347.50 L30.67,347.50 L31.16,347.50 L31.65,347.50 L32.14,347.50 L32.62,347.50 L33.11,347.50 L33.60,347.50 L34.09,347.50 L34.57,347.50 L35.06,347.50 L35.55,347.50 L36.04,347.50 L36.52,347.50 L37.01,347.50 L37.50,347.50 L37.99,347.50 L38.47,347.50 L38.96,347.50 L39.45,347.50 L39.94,347.50 L40.42,347.50 L40.91,347.50 L41.40,347.50 L41.89,347.50 L42.37,347.50 L42.86,347.50 L43.35,347.50 L43.84,347.50 L44.32,347.50 L44.81,347.50 L45.30,347.50 L45.79,347.50 L46.27,347.50 L46.76,347.50 L47.25,347.50 L47.74,347.50 L48.22,347.50 L48.71,347.50 L49.20,347.50 L49.69,347.50 L50.17,347.50 L50.66,347.50 L51.15,347.50 L51.64,347.50 L52.12,347.50 L52.61,347.50 L53.10,347.50 L53.59,347.50 L54.07,347.50 L54.56,347.50 L55.05,347.50 L55.54,347.50 L56.02,347.50 L56.51,347.50 L57.00,347.50 L57.49,347.50 L57.97,347.50 L58.46,347.50 L58.95,347.50 L59.44,347.50 L59.92,347.50 L60.41,347.50 L60.90,347.50 L61.39,347.50 L61.87,347.50 L62.36,347.50 L62.85,347.50 L63.34,347.50 L63.82,347.50 L64.31,347.50 L64.80,347.50 L65.29,347.50 L65.77,347.50 L66.26,347.50 L66.75,347.50 L67.24,347.50 L67.72,347.50 L68.21,347.50 L68.70,347.50 L69.19,347.51 L69.67,347.51 L70.16,347.51 L70.65,347.51 L71.14,347.51 L71.62,347.51 L72.11,347.51 L72.60,347.51 L73.09,347.51 L73.57,347.51 L74.06,347.51 L74.55,347.51 L75.04,347.51 L75.52,347.51 L76.01,347.51 L76.50,347.51 L76.99,347.51 L77.47,347.51 L77.96,347.51 L78.45,347.51 L78.94,347.51 L79.42,347.51 L79.91,347.51 L80.40,347.51 L80.89,347.51 L81.37,347.51 L81.86,347.51 L82.35,347.51 L82.84,347.51 L83.32,347.51 L83.81,347.51 L84.30,347.51 L84.79,347.51 L85.27,347.51 L85.76,347.51 L86.25,347.51 L86.74,347.51 L87.22,347.51 L87.71,347.51 L88.20,347.51 L88.68,347.51 L89.17,347.51 L89.66,347.52 L90.15,347.52 L90.63,347.52 L91.12,347.52 L91.61,347.52 L92.10,347.52 L92.58,347.52 L93.07,347.52 L93.56,347.52 L94.05,347.52 L94.53,347.52 L95.02,347.52 L95.51,347.52 L96.00,347.52 L96.48,347.52 L96.97,347.52 L97.46,347.52 L97.95,347.52 L98.43,347.52 L98.92,347.52 L99.41,347.52 L99.90,347.52 L100.38,347.52 L100.87,347.52 L101.36,347.53 L101.85,347.53 L102.33,347.53 L102.82,347.53 L103.31,347.53 L103.80,347.53 L104.28,347.53 L104.77,347.53 L105.26,347.53 L105.75,347.53 L106.23,347.53 L106.72,347.53 L107.21,347.53 L107.70,347.53 L108.18,347.53 L108.67,347.53 L109.16,347.53 L109.65,347.54 L110.13,347.54 L110.62,347.54 L111.11,347.54 L111.60,347.54 L112.08,347.54 L112.57,347.54 L113.06,347.54 L113.55,347.54 L114.03,347.54 L114.52,347.54 L115.01,347.54 L115.50,347.55 L115.98,347.55 L116.47,347.55 L116.96,347.55 L117.45,347.55 L117.93,347.55 L118.42,347.55 L118.91,347.55 L119.40,347.55 L119.88,347.56 L120.37,347.56 L120.86,347.56 L121.35,347.56 L121.83,347.56 L122.32,347.56 L122.81,347.56 L123.30,347.57 L123.78,347.57 L124.27,347.57 L124.76,347.57 L125.25,347.57 L125.73,347.57 L126.22,347.57 L126.71,347.58 L127.20,347.58 L127.68,347.58 L128.17,347.58 L128.66,347.58 L129.15,347.59 L129.63,347.59 L130.12,347.59 L130.61,347.59 L131.10,347.60 L131.58,347.60 L132.07,347.60 L132.56,347.60 L133.05,347.61 L133.53,347.61 L134.02,347.61 L134.51,347.62 L135.00,347.62 L135.48,347.62 L135.97,347.63 L136.46,347.63 L136.95,347.63 L137.43,347.64 L137.92,347.64 L138.41,347.64 L138.90,347.65 L139.38,347.65 L139.87,347.66 L140.36,347.66 L140.85,347.67 L141.33,347.67 L141.82,347.68 L142.31,347.69 L142.80,347.69 L143.28,347.70 L143.77,347.71 L144.26,347.71 L144.75,347.72 L145.23,347.73 L145.72,347.74 L146.21,347.75 L146.69,347.76 L147.18,347.77 L147.67,347.78 L148.16,347.79 L148.64,347.80 L149.13,347.81 L149.62,347.83 L150.11,347.84 L150.59,347.86 L151.08,347.88 L151.57,347.89 L152.06,347.91 L152.54,347.93 L153.03,347.95 L153.52,347.98 L154.01,348.00 L154.49,348.03 L154.98,348.06 L155.47,348.09 L155.96,348.13 L156.44,348.16 L156.93,348.20 L157.42,348.25 L157.91,348.30 L158.39,348.35 L158.88,348.41 L159.37,348.47 L159.86,348.54 L160.34,348.62 L160.83,348.70 L161.32,348.80 L161.81,348.90 L162.29,349.01 L162.78,349.13 L163.27,349.27 L163.76,349.41 L164.24,349.57 L164.73,349.73 L165.22,349.91 L165.71,350.10 L166.19,350.28 L166.68,350.47 L167.17,350.65 L167.66,350.81 L168.14,350.94 L168.63,351.04 L169.12,351.11 L169.61,351.12 L170.09,351.10 L170.58,351.02 L171.07,350.92 L171.56,350.78 L172.04,350.62 L172.53,350.44 L173.02,350.27 L173.51,350.09 L173.99,349.92 L174.48,349.75 L174.97,349.60 L175.46,349.46 L175.94,349.33 L176.43,349.22 L176.92,349.11 L177.41,349.02 L177.89,348.93 L178.38,348.86 L178.87,348.79 L179.36,348.73 L179.84,348.68 L180.33,348.63 L180.82,348.60 L181.31,348.56 L181.79,348.54 L182.28,348.52 L182.77,348.50 L183.26,348.49 L183.74,348.48 L184.23,348.48 L184.72,348.48 L185.21,348.49 L185.69,348.50 L186.18,348.52 L186.67,348.54 L187.16,348.56 L187.64,348.59 L188.13,348.63 L188.62,348.68 L189.11,348.73 L189.59,348.78 L190.08,348.85 L190.57,348.92 L191.06,349.01 L191.54,349.10 L192.03,349.21 L192.52,349.32 L193.01,349.45 L193.49,349.59 L193.98,349.74 L194.47,349.90 L194.96,350.08 L195.44,350.25 L195.93,350.43 L196.42,350.60 L196.91,350.77 L197.39,350.91 L197.88,351.02 L198.37,351.09 L198.86,351.12 L199.34,351.11 L199.83,351.05 L200.32,350.95 L200.81,350.82 L201.29,350.66 L201.78,350.48 L202.27,350.30 L202.76,350.11 L203.24,349.93 L203.73,349.75 L204.22,349.58 L204.71,349.42 L205.19,349.28 L205.68,349.14 L206.17,349.02 L206.65,348.91 L207.14,348.80 L207.63,348.71 L208.12,348.63 L208.60,348.55 L209.09,348.48 L209.58,348.41 L210.07,348.36 L210.55,348.30 L211.04,348.25 L211.53,348.21 L212.02,348.17 L212.50,348.13 L212.99,348.09 L213.48,348.06 L213.97,348.03 L214.45,348.00 L214.94,347.98 L215.43,347.96 L215.92,347.93 L216.40,347.91 L216.89,347.89 L217.38,347.88 L217.87,347.86 L218.35,347.84 L218.84,347.83 L219.33,347.82 L219.82,347.80 L220.30,347.79 L220.79,347.78 L221.28,347.77 L221.77,347.76 L222.25,347.75 L222.74,347.74 L223.23,347.73 L223.72,347.72 L224.20,347.71 L224.69,347.71 L225.18,347.70 L225.67,347.69 L226.15,347.69 L226.64,347.68 L227.13,347.68 L227.62,347.67 L228.10,347.66 L228.59,347.66 L229.08,347.65 L229.57,347.65 L230.05,347.65 L230.54,347.64 L231.03,347.64 L231.52,347.63 L232.00,347.63 L232.49,347.63 L232.98,347.62 L233.47,347.62 L233.95,347.62 L234.44,347.61 L234.93,347.61 L235.42,347.61 L235.90,347.60 L236.39,347.60 L236.88,347.60 L237.37,347.60 L237.85,347.59 L238.34,347.59 L238.83,347.59 L239.32,347.59 L239.80,347.58 L240.29,347.58 L240.78,347.58 L241.27,347.58 L241.75,347.58 L242.24,347.57 L242.73,347.57 L243.22,347.57 L243.70,347.57 L244.19,347.57 L244.68,347.57 L245.17,347.57 L245.65,347.56 L246.14,347.56 L246.63,347.56 L247.12,347.56 L247.60,347.56 L248.09,347.56 L248.58,347.56 L249.07,347.55 L249.55,347.55 L250.04,347.55 L250.53,347.55 L251.02,347.55 L251.50,347.55 L251.99,347.55 L252.48,347.55 L252.97,347.55 L253.45,347.54 L253.94,347.54 L254.43,347.54 L254.92,347.54 L255.40,347.54 L255.89,347.54 L256.38,347.54 L256.87,347.54 L257.35,347.54 L257.84,347.54 L258.33,347.54 L258.82,347.54 L259.30,347.54 L259.79,347.53 L260.28,347.53 L260.77,347.53 L261.25,347.53 L261.74,347.53 L262.23,347.53 L262.72,347.53 L263.20,347.53 L263.69,347.53 L264.18,347.53 L264.66,347.53 L265.15,347.53 L265.64,347.53 L266.13,347.53 L266.61,347.53 L267.10,347.53 L267.59,347.52 L268.08,347.52 L268.56,347.52 L269.05,347.52 L269.54,347.52 L270.03,347.52 L270.51,347.52 L271.00,347.52 L271.49,347.52 L271.98,347.52 L272.46,347.52 L272.95,347.52 L273.44,347.52 L273.93,347.52 L274.41,347.52 L274.90,347.52 L275.39,347.52 L275.88,347.52 L276.36,347.52 L276.85,347.52 L277.34,347.52 L277.83,347.52 L278.31,347.52 L278.80,347.52 L279.29,347.52 L279.78,347.51 L280.26,347.51 L280.75,347.51 L281.24,347.51 L281.73,347.51 L282.21,347.51 L282.70,347.51 L283.19,347.51 L283.68,347.51 L284.16,347.51 L284.65,347.51 L285.14,347.51 L285.63,347.51 L286.11,347.51 L286.60,347.51 L287.09,347.51 L287.58,347.51 L288.06,347.51 L288.55,347.51 L289.04,347.51 L289.53,347.51 L290.01,347.51 L290.50,347.51 L290.99,347.51 L291.48,347.51 L291.96,347.51 L292.45,347.51 L292.94,347.51 L293.43,347.51 L293.91,347.51 L294.40,347.51 L294.89,347.51 L295.38,347.51 L295.86,347.51 L296.35,347.51 L296.84,347.51 L297.33,347.51 L297.81,347.51 L298.30,347.51 L298.79,347.51 L299.28,347.51 L299.76,347.50 L300.25,347.50 L300.74,347.50 L301.23,347.50 L301.71,347.50 L302.20,347.50 L302.69,347.50 L303.18,347.50 L303.66,347.50 L304.15,347.50 L304.64,347.50 L305.13,347.50 L305.61,347.50 L306.10,347.50 L306.59,347.50 L307.08,347.50 L307.56,347.50 L308.05,347.50 L308.54,347.50 L309.03,347.50 L309.51,347.50 L310.00,347.50 L310.49,347.50 L310.98,347.50 L311.46,347.50 L311.95,347.50 L312.44,347.50 L312.93,347.50 L313.41,347.50 L313.90,347.50 L314.39,347.50 L314.88,347.50 L315.36,347.50 L315.85,347.50 L316.34,347.50 L316.83,347.50 L317.31,347.50 L317.80,347.50 L318.29,347.50 L318.78,347.50 L319.26,347.50 L319.75,347.50 L320.24,347.50 L320.73,347.50 L321.21,347.50 L321.70,347.50" fill="none" stroke="#000" stroke-width="1.2"/>
<path d="M29.70,347.86 L30.19,347.86 L30.67,347.86 L31.16,347.86 L31.65,347.87 L32.14,347.87 L32.62,347.87 L33.11,347.88 L33.60,347.88 L34.09,347.88 L34.57,347.88 L35.06,347.89 L35.55,347.89 L36.04,347.89 L36.52,347.89 L37.01,347.90 L37.50,347.90 L37.99,347.90 L38.47,347.91 L38.96,347.91 L39.45,347.91 L39.94,347.92 L40.42,347.92 L40.91,347.92 L41.40,347.93 L41.89,347.93 L42.37,347.93 L42.86,347.94 L43.35,347.94 L43.84,347.94 L44.32,347.95 L44.81,347.95 L45.30,347.95 L45.79,347.96 L46.27,347.96 L46.76,347.96 L47.25,347.97 L47.74,347.97 L48.22,347.97 L48.71,347.98 L49.20,347.98 L49.69,347.99 L50.17,347.99 L50.66,347.99 L51.15,348.00 L51.64,348.00 L52.12,348.01 L52.61,348.01 L53.10,348.01 L53.59,348.02 L54.07,348.02 L54.56,348.03 L55.05,348.03 L55.54,348.04 L56.02,348.04 L56.51,348.05 L57.00,348.05 L57.49,348.06 L57.97,348.06 L58.46,348.07 L58.95,348.07 L59.44,348.08 L59.92,348.08 L60.41,348.09 L60.90,348.09 L61.39,348.10 L61.87,348.10 L62.36,348.11 L62.85,348.11 L63.34,348.12 L63.82,348.12 L64.31,348.13 L64.80,348.14 L65.29,348.14 L65.77,348.15 L66.26,348.15 L66.75,348.16 L67.24,348.17 L67.72,348.17 L68.21,348.18 L68.70,348.19 L69.19,348.19 L69.67,348.20 L70.16,348.21 L70.65,348.21 L71.14,348.22 L71.62,348.23 L72.11,348.24 L72.60,348.24 L73.09,348.25 L73.57,348.26 L74.06,348.27 L74.55,348.27 L75.04,348.28 L75.52,348.29 L76.01,348.30 L76.50,348.31 L76.99,348.32 L77.47,348.32 L77.96,348.33 L78.45,348.34 L78.94,348.35 L79.42,348.36 L79.91,348.37 L80.40,348.38 L80.89,348.39 L81.37,348.40 L81.86,348.41 L82.35,348.42 L82.84,348.43 L83.32,348.44 L83.81,348.45 L84.30,348.46 L84.79,348.47 L85.27,348.49 L85.76,348.50 L86.25,348.51 L86.74,348.52 L87.22,348.53 L87.71,348.55 L88.20,348.56 L88.68,348.57 L89.17,348.59 L89.66,348.60 L90.15,348.61 L90.63,348.63 L91.12,348.64 L91.61,348.66 L92.10,348.67 L92.58,348.69 L93.07,348.70 L93.56,348.72 L94.05,348.74 L94.53,348.75 L95.02,348.77 L95.51,348.79 L96.00,348.81 L96.48,348.82 L96.97,348.84 L97.46,348.86 L97.95,348.88 L98.43,348.90 L98.92,348.92 L99.41,348.94 L99.90,348.96 L100.38,348.99 L100.87,349.01 L101.36,349.03 L101.85,349.05 L102.33,349.08 L102.82,349.10 L103.31,349.13 L103.80,349.15 L104.28,349.18 L104.77,349.21 L105.26,349.24 L105.75,349.26 L106.23,349.29 L106.72,349.32 L107.21,349.36 L107.70,349.39 L108.18,349.42 L108.67,349.45 L109.16,349.49 L109.65,349.52 L110.13,349.56 L110.62,349.60 L111.11,349.64 L111.60,349.68 L112.08,349.72 L112.57,349.76 L113.06,349.80 L113.55,349.85 L114.03,349.90 L114.52,349.94 L115.01,349.99 L115.50,350.05 L115.98,350.10 L116.47,350.15 L116.96,350.21 L117.45,350.27 L117.93,350.33 L118.42,350.39 L118.91,350.46 L119.40,350.53 L119.88,350.60 L120.37,350.67 L120.86,350.75 L121.35,350.83 L121.83,350.91 L122.32,351.00 L122.81,351.09 L123.30,351.18 L123.78,351.28 L124.27,351.38 L124.76,351.49 L125.25,351.61 L125.73,351.73 L126.22,351.85 L126.71,351.99 L127.20,352.13 L127.68,352.28 L128.17,352.44 L128.66,352.61 L129.15,352.80 L129.63,353.00 L130.12,353.21 L130.61,353.43 L131.10,353.68 L131.58,353.94 L132.07,354.22 L132.56,354.52 L133.05,354.85 L133.53,355.20 L134.02,355.57 L134.51,355.97 L135.00,356.40 L135.48,356.86 L135.97,357.35 L136.46,357.86 L136.95,358.41 L137.43,358.99 L137.92,359.60 L138.41,360.24 L138.90,360.91 L139.38,361.61 L139.87,362.34 L140.36,363.10 L140.85,363.88 L141.33,364.71 L141.82,365.57 L142.31,366.48 L142.80,367.45 L143.28,368.50 L143.77,369.66 L144.26,370.96 L144.75,372.43 L145.23,374.09 L145.72,376.00 L146.21,378.19 L146.69,380.70 L147.18,383.56 L147.67,386.81 L148.16,390.50 L148.64,394.72 L149.13,399.95 L149.62,407.63 L150.11,414.68 L150.59,416.84 L151.08,421.15 L151.57,426.97 L152.06,433.21 L152.54,439.53 L153.03,445.72 L153.52,451.58 L154.01,456.88 L154.49,461.39 L154.98,464.92 L155.47,467.34 L155.96,468.61 L156.44,468.77 L156.93,467.93 L157.42,466.27 L157.91,463.99 L158.39,461.28 L158.88,458.30 L159.37,455.19 L159.86,452.04 L160.34,448.90 L160.83,445.82 L161.32,442.78 L161.81,439.80 L162.29,436.84 L162.78,433.88 L163.27,430.91 L163.76,427.91 L164.24,424.87 L164.73,421.79 L165.22,418.68 L165.71,415.54 L166.19,412.41 L166.68,409.28 L167.17,406.19 L167.66,403.15 L168.14,400.18 L168.63,397.29 L169.12,394.50 L169.61,391.82 L170.09,389.24 L170.58,386.78 L171.07,384.45 L171.56,382.24 L172.04,380.15 L172.53,378.19 L173.02,376.36 L173.51,374.65 L173.99,373.06 L174.48,371.59 L174.97,370.24 L175.46,369.00 L175.94,367.86 L176.43,366.83 L176.92,365.89 L177.41,365.04 L177.89,364.28 L178.38,363.61 L178.87,363.00 L179.36,362.47 L179.84,362.01 L180.33,361.60 L180.82,361.26 L181.31,360.96 L181.79,360.72 L182.28,360.53 L182.77,360.38 L183.26,360.27 L183.74,360.20 L184.23,360.17 L184.72,360.18 L185.21,360.23 L185.69,360.31 L186.18,360.43 L186.67,360.58 L187.16,360.77 L187.64,360.99 L188.13,361.25 L188.62,361.55 L189.11,361.89 L189.59,362.26 L190.08,362.68 L190.57,363.13 L191.06,363.64 L191.54,364.18 L192.03,364.77 L192.52,365.41 L193.01,366.10 L193.49,366.84 L193.98,367.63 L194.47,368.48 L194.96,369.39 L195.44,370.35 L195.93,371.39 L196.42,372.49 L196.91,373.66 L197.39,374.92 L197.88,376.28 L198.37,377.76 L198.86,379.42 L199.34,381.37 L199.83,383.77 L200.32,386.82 L200.81,390.58 L201.29,394.68 L201.78,398.04 L202.27,399.80 L202.76,400.87 L203.24,402.41 L203.73,404.84 L204.22,408.14 L204.71,412.13 L205.19,416.59 L205.68,421.31 L206.17,426.05 L206.65,430.56 L207.14,434.60 L207.63,438.02 L208.12,440.87 L208.60,443.33 L209.09,445.66 L209.58,448.08 L210.07,450.74 L210.55,453.68 L211.04,456.85 L211.53,460.11 L212.02,463.20 L212.50,465.84 L212.99,467.67 L213.48,468.33 L213.97,467.59 L214.45,465.33 L214.94,461.61 L215.43,456.67 L215.92,450.82 L216.40,444.39 L216.89,437.69 L217.38,430.96 L217.87,424.39 L218.35,418.11 L218.84,412.20 L219.33,406.73 L219.82,401.71 L220.30,397.16 L220.79,393.05 L221.28,389.37 L221.77,386.08 L222.25,383.15 L222.74,380.54 L223.23,378.21 L223.72,376.13 L224.20,374.26 L224.69,372.58 L225.18,371.05 L225.67,369.65 L226.15,368.38 L226.64,367.20 L227.13,366.11 L227.62,365.10 L228.10,364.17 L228.59,363.29 L229.08,362.48 L229.57,361.71 L230.05,361.00 L230.54,360.34 L231.03,359.71 L231.52,359.13 L232.00,358.58 L232.49,358.07 L232.98,357.59 L233.47,357.15 L233.95,356.73 L234.44,356.34 L234.93,355.97 L235.42,355.62 L235.90,355.30 L236.39,355.00 L236.88,354.71 L237.37,354.45 L237.85,354.20 L238.34,353.96 L238.83,353.74 L239.32,353.53 L239.80,353.33 L240.29,353.15 L240.78,352.97 L241.27,352.80 L241.75,352.64 L242.24,352.49 L242.73,352.35 L243.22,352.22 L243.70,352.09 L244.19,351.96 L244.68,351.85 L245.17,351.74 L245.65,351.63 L246.14,351.53 L246.63,351.43 L247.12,351.33 L247.60,351.24 L248.09,351.15 L248.58,351.07 L249.07,350.99 L249.55,350.91 L250.04,350.84 L250.53,350.76 L251.02,350.69 L251.50,350.63 L251.99,350.56 L252.48,350.50 L252.97,350.44 L253.45,350.38 L253.94,350.32 L254.43,350.27 L254.92,350.21 L255.40,350.16 L255.89,350.11 L256.38,350.06 L256.87,350.01 L257.35,349.96 L257.84,349.92 L258.33,349.88 L258.82,349.83 L259.30,349.79 L259.79,349.75 L260.28,349.71 L260.77,349.67 L261.25,349.64 L261.74,349.60 L262.23,349.56 L262.72,349.53 L263.20,349.50 L263.69,349.46 L264.18,349.43 L264.66,349.40 L265.15,349.37 L265.64,349.34 L266.13,349.31 L266.61,349.28 L267.10,349.26 L267.59,349.23 L268.08,349.20 L268.56,349.18 L269.05,349.15 L269.54,349.13 L270.03,349.10 L270.51,349.08 L271.00,349.06 L271.49,349.04 L271.98,349.01 L272.46,348.99 L272.95,348.97 L273.44,348.95 L273.93,348.93 L274.41,348.91 L274.90,348.89 L275.39,348.87 L275.88,348.85 L276.36,348.84 L276.85,348.82 L277.34,348.80 L277.83,348.78 L278.31,348.77 L278.80,348.75 L279.29,348.74 L279.78,348.72 L280.26,348.70 L280.75,348.69 L281.24,348.67 L281.73,348.66 L282.21,348.65 L282.70,348.63 L283.19,348.62 L283.68,348.60 L284.16,348.59 L284.65,348.58 L285.14,348.56 L285.63,348.55 L286.11,348.54 L286.60,348.53 L287.09,348.52 L287.58,348.50 L288.06,348.49 L288.55,348.48 L289.04,348.47 L289.53,348.46 L290.01,348.45 L290.50,348.44 L290.99,348.43 L291.48,348.42 L291.96,348.41 L292.45,348.40 L292.94,348.39 L293.43,348.38 L293.91,348.37 L294.40,348.36 L294.89,348.35 L295.38,348.34 L295.86,348.33 L296.35,348.32 L296.84,348.32 L297.33,348.31 L297.81,348.30 L298.30,348.29 L298.79,348.28 L299.28,348.28 L299.76,348.27 L300.25,348.26 L300.74,348.25 L301.23,348.24 L301.71,348.24 L302.20,348.23 L302.69,348.22 L303.18,348.22 L303.66,348.21 L304.15,348.20 L304.64,348.20 L305.13,348.19 L305.61,348.18 L306.10,348.18 L306.59,348.17 L307.08,348.16 L307.56,348.16 L308.05,348.15 L308.54,348.15 L309.03,348.14 L309.51,348.13 L310.00,348.13 L310.49,348.12 L310.98,348.12 L311.46,348.11 L311.95,348.11 L312.44,348.10 L312.93,348.10 L313.41,348.09 L313.90,348.08 L314.39,348.08 L314.88,348.07 L315.36,348.07 L315.85,348.06 L316.34,348.06 L316.83,348.06 L317.31,348.05 L317.80,348.05 L318.29,348.04 L318.78,348.04 L319.26,348.03 L319.75,348.03 L320.24,348.02 L320.73,348.02 L321.21,348.01 L321.70,348.01" fill="none" stroke="#000" stroke-width="1.3"/>
<g fill="#000"><circle cx="30.67" cy="346.73" r="1.95"/><circle cx="31.91" cy="348.25" r="1.95"/><circle cx="33.15" cy="347.07" r="1.95"/><circle cx="34.40" cy="347.16" r="1.95"/><circle cx="35.64" cy="348.47" r="1.95"/><circle cx="36.89" cy="347.14" r="1.95"/><circle cx="38.13" cy="348.34" r="1.95"/><circle cx="39.37" cy="346.94" r="1.95"/><circle cx="40.62" cy="346.71" r="1.95"/><circle cx="41.86" cy="346.09" r="1.95"/><circle cx="43.10" cy="349.80" r="1.95"/><circle cx="44.35" cy="347.63" r="1.95"/><circle cx="45.59" cy="348.20" r="1.95"/><circle cx="46.83" cy="347.93" r="1.95"/><circle cx="48.08" cy="348.13" r="1.95"/><circle cx="49.32" cy="348.03" r="1.95"/><circle cx="50.57" cy="349.90" r="1.95"/><circle cx="51.81" cy="346.96" r="1.95"/><circle cx="53.05" cy="346.46" r="1.95"/><circle cx="54.30" cy="347.01" r="1.95"/><circle cx="55.54" cy="346.70" r="1.95"/><circle cx="56.78" cy="348.80" r="1.95"/><circle cx="58.03" cy="348.88" r="1.95"/><circle cx="59.27" cy="347.11" r="1.95"/><circle cx="60.51" cy="346.70" r="1.95"/><circle cx="61.76" cy="347.75" r="1.95"/><circle cx="63.00" cy="349.51" r="1.95"/><circle cx="64.24" cy="345.31" r="1.95"/><circle cx="65.49" cy="348.67" r="1.95"/><circle cx="66.73" cy="347.08" r="1.95"/><circle cx="67.98" cy="349.22" r="1.95"/><circle cx="69.22" cy="347.12" r="1.95"/><circle cx="70.46" cy="347.93" r="1.95"/><circle cx="71.71" cy="346.72" r="1.95"/><circle cx="72.95" cy="347.27" r="1.95"/><circle cx="74.19" cy="349.65" r="1.95"/><circle cx="75.44" cy="349.11" r="1.95"/><circle cx="76.68" cy="347.91" r="1.95"/><circle cx="77.92" cy="347.46" r="1.95"/><circle cx="79.17" cy="346.46" r="1.95"/><circle cx="80.41" cy="347.99" r="1.95"/><circle cx="81.65" cy="348.37" r="1.95"/><circle cx="82.90" cy="348.35" r="1.95"/><circle cx="84.14" cy="348.37" r="1.95"/><circle cx="85.39" cy="347.37" r="1.95"/><circle cx="86.63" cy="348.45" r="1.95"/><circle cx="87.87" cy="348.51" r="1.95"/><circle cx="89.12" cy="349.88" r="1.95"/><circle cx="90.36" cy="350.49" r="1.95"/><circle cx="91.60" cy="348.52" r="1.95"/><circle cx="92.85" cy="347.93" r="1.95"/><circle cx="94.09" cy="348.67" r="1.95"/><circle cx="95.33" cy="348.17" r="1.95"/><circle cx="96.58" cy="348.09" r="1.95"/><circle cx="97.82" cy="348.82" r="1.95"/><circle cx="99.06" cy="347.88" r="1.95"/><circle cx="100.31" cy="349.59" r="1.95"/><circle cx="101.55" cy="348.94" r="1.95"/><circle cx="102.80" cy="349.35" r="1.95"/><circle cx="104.04" cy="348.98" r="1.95"/><circle cx="105.28" cy="348.51" r="1.95"/><circle cx="106.53" cy="348.36" r="1.95"/><circle cx="107.77" cy="349.15" r="1.95"/><circle cx="109.01" cy="348.93" r="1.95"/><circle cx="110.26" cy="349.80" r="1.95"/><circle cx="111.50" cy="349.66" r="1.95"/><circle cx="112.74" cy="348.41" r="1.95"/><circle cx="113.99" cy="349.96" r="1.95"/><circle cx="115.23" cy="348.68" r="1.95"/><circle cx="116.48" cy="349.54" r="1.95"/><circle cx="117.72" cy="350.01" r="1.95"/><circle cx="118.96" cy="348.39" r="1.95"/><circle cx="120.21" cy="350.74" r="1.95"/><circle cx="121.45" cy="351.00" r="1.95"/><circle cx="122.69" cy="350.91" r="1.95"/><circle cx="123.94" cy="350.89" r="1.95"/><circle cx="125.18" cy="351.22" r="1.95"/><circle cx="126.42" cy="350.93" r="1.95"/><circle cx="127.67" cy="352.01" r="1.95"/><circle cx="128.91" cy="352.16" r="1.95"/><circle cx="130.15" cy="353.31" r="1.95"/><circle cx="131.40" cy="352.63" r="1.95"/><circle cx="132.64" cy="354.81" r="1.95"/><circle cx="133.89" cy="355.61" r="1.95"/><circle cx="135.13" cy="356.38" r="1.95"/><circle cx="136.37" cy="357.33" r="1.95"/><circle cx="137.62" cy="359.77" r="1.95"/><circle cx="138.86" cy="359.19" r="1.95"/><circle cx="140.10" cy="363.16" r="1.95"/><circle cx="141.35" cy="364.97" r="1.95"/><circle cx="142.59" cy="367.32" r="1.95"/><circle cx="143.83" cy="370.21" r="1.95"/><circle cx="145.08" cy="372.89" r="1.95"/><circle cx="146.32" cy="378.49" r="1.95"/><circle cx="147.56" cy="386.71" r="1.95"/><circle cx="148.81" cy="396.74" r="1.95"/><circle cx="150.05" cy="414.48" r="1.95"/><circle cx="151.30" cy="422.09" r="1.95"/><circle cx="152.54" cy="440.00" r="1.95"/><circle cx="153.78" cy="455.69" r="1.95"/><circle cx="155.03" cy="466.20" r="1.95"/><circle cx="156.27" cy="469.07" r="1.95"/><circle cx="157.51" cy="464.31" r="1.95"/><circle cx="158.76" cy="460.02" r="1.95"/><circle cx="160.00" cy="450.96" r="1.95"/><circle cx="161.24" cy="440.71" r="1.95"/><circle cx="162.49" cy="436.04" r="1.95"/><circle cx="163.73" cy="426.58" r="1.95"/><circle cx="164.98" cy="418.95" r="1.95"/><circle cx="166.22" cy="411.61" r="1.95"/><circle cx="167.46" cy="405.63" r="1.95"/><circle cx="168.71" cy="396.49" r="1.95"/><circle cx="169.95" cy="390.26" r="1.95"/><circle cx="171.19" cy="385.62" r="1.95"/><circle cx="172.44" cy="380.16" r="1.95"/><circle cx="173.68" cy="373.96" r="1.95"/><circle cx="174.92" cy="370.12" r="1.95"/><circle cx="176.17" cy="366.11" r="1.95"/><circle cx="177.41" cy="364.34" r="1.95"/><circle cx="178.65" cy="363.68" r="1.95"/><circle cx="179.90" cy="362.35" r="1.95"/><circle cx="181.14" cy="361.17" r="1.95"/><circle cx="182.39" cy="361.49" r="1.95"/><circle cx="183.63" cy="359.44" r="1.95"/><circle cx="184.87" cy="360.14" r="1.95"/><circle cx="186.12" cy="361.14" r="1.95"/><circle cx="187.36" cy="361.44" r="1.95"/><circle cx="188.60" cy="362.61" r="1.95"/><circle cx="189.85" cy="362.87" r="1.95"/><circle cx="191.09" cy="363.36" r="1.95"/><circle cx="192.33" cy="365.53" r="1.95"/><circle cx="193.58" cy="365.97" r="1.95"/><circle cx="194.82" cy="367.49" r="1.95"/><circle cx="196.06" cy="372.26" r="1.95"/><circle cx="197.31" cy="374.64" r="1.95"/><circle cx="198.55" cy="378.67" r="1.95"/><circle cx="199.80" cy="381.89" r="1.95"/><circle cx="201.04" cy="392.19" r="1.95"/><circle cx="202.28" cy="399.24" r="1.95"/><circle cx="203.53" cy="402.85" r="1.95"/><circle cx="204.77" cy="410.45" r="1.95"/><circle cx="206.01" cy="424.23" r="1.95"/><circle cx="207.26" cy="436.36" r="1.95"/><circle cx="208.50" cy="443.21" r="1.95"/><circle cx="209.74" cy="448.35" r="1.95"/><circle cx="210.99" cy="456.48" r="1.95"/><circle cx="212.23" cy="465.20" r="1.95"/><circle cx="213.48" cy="465.57" r="1.95"/><circle cx="214.72" cy="463.36" r="1.95"/><circle cx="215.96" cy="450.79" r="1.95"/><circle cx="217.21" cy="434.03" r="1.95"/><circle cx="218.45" cy="418.63" r="1.95"/><circle cx="219.69" cy="404.08" r="1.95"/><circle cx="220.94" cy="392.23" r="1.95"/><circle cx="222.18" cy="383.88" r="1.95"/><circle cx="223.42" cy="378.14" r="1.95"/><circle cx="224.67" cy="372.12" r="1.95"/><circle cx="225.91" cy="368.96" r="1.95"/><circle cx="227.15" cy="366.96" r="1.95"/><circle cx="228.40" cy="365.59" r="1.95"/><circle cx="229.64" cy="361.44" r="1.95"/><circle cx="230.89" cy="359.84" r="1.95"/><circle cx="232.13" cy="358.65" r="1.95"/><circle cx="233.37" cy="358.57" r="1.95"/><circle cx="234.62" cy="356.17" r="1.95"/><circle cx="235.86" cy="356.80" r="1.95"/><circle cx="237.10" cy="353.62" r="1.95"/><circle cx="238.35" cy="353.77" r="1.95"/><circle cx="239.59" cy="353.22" r="1.95"/><circle cx="240.83" cy="353.74" r="1.95"/><circle cx="242.08" cy="353.59" r="1.95"/><circle cx="243.32" cy="350.68" r="1.95"/><circle cx="244.56" cy="350.96" r="1.95"/><circle cx="245.81" cy="351.93" r="1.95"/><circle cx="247.05" cy="350.69" r="1.95"/><circle cx="248.30" cy="349.60" r="1.95"/><circle cx="249.54" cy="351.95" r="1.95"/><circle cx="250.78" cy="351.22" r="1.95"/><circle cx="252.03" cy="351.05" r="1.95"/><circle cx="253.27" cy="349.92" r="1.95"/><circle cx="254.51" cy="351.28" r="1.95"/><circle cx="255.76" cy="349.88" r="1.95"/><circle cx="257.00" cy="351.09" r="1.95"/><circle cx="258.24" cy="348.97" r="1.95"/><circle cx="259.49" cy="348.92" r="1.95"/><circle cx="260.73" cy="349.88" r="1.95"/><circle cx="261.97" cy="348.88" r="1.95"/><circle cx="263.22" cy="350.17" r="1.95"/><circle cx="264.46" cy="349.67" r="1.95"/><circle cx="265.71" cy="348.41" r="1.95"/><circle cx="266.95" cy="349.34" r="1.95"/><circle cx="268.19" cy="348.85" r="1.95"/><circle cx="269.44" cy="350.05" r="1.95"/><circle cx="270.68" cy="348.44" r="1.95"/><circle cx="271.92" cy="348.58" r="1.95"/><circle cx="273.17" cy="350.17" r="1.95"/><circle cx="274.41" cy="351.15" r="1.95"/><circle cx="275.65" cy="350.86" r="1.95"/><circle cx="276.90" cy="348.88" r="1.95"/><circle cx="278.14" cy="348.99" r="1.95"/><circle cx="279.39" cy="350.27" r="1.95"/><circle cx="280.63" cy="348.57" r="1.95"/><circle cx="281.87" cy="347.68" r="1.95"/><circle cx="283.12" cy="348.74" r="1.95"/><circle cx="284.36" cy="349.04" r="1.95"/><circle cx="285.60" cy="347.72" r="1.95"/><circle cx="286.85" cy="346.88" r="1.95"/><circle cx="288.09" cy="347.06" r="1.95"/><circle cx="289.33" cy="349.13" r="1.95"/><circle cx="290.58" cy="347.68" r="1.95"/><circle cx="291.82" cy="348.27" r="1.95"/><circle cx="293.06" cy="348.60" r="1.95"/><circle cx="294.31" cy="348.98" r="1.95"/><circle cx="295.55" cy="348.00" r="1.95"/><circle cx="296.80" cy="348.82" r="1.95"/><circle cx="298.04" cy="347.41" r="1.95"/><circle cx="299.28" cy="347.91" r="1.95"/><circle cx="300.53" cy="347.23" r="1.95"/><circle cx="301.77" cy="349.37" r="1.95"/><circle cx="303.01" cy="348.19" r="1.95"/><circle cx="304.26" cy="347.46" r="1.95"/><circle cx="305.50" cy="347.83" r="1.95"/><circle cx="306.74" cy="347.95" r="1.95"/><circle cx="307.99" cy="348.85" r="1.95"/><circle cx="309.23" cy="346.54" r="1.95"/><circle cx="310.47" cy="347.09" r="1.95"/><circle cx="311.72" cy="347.73" r="1.95"/><circle cx="312.96" cy="350.63" r="1.95"/><circle cx="314.21" cy="349.04" r="1.95"/><circle cx="315.45" cy="347.96" r="1.95"/><circle cx="316.69" cy="348.77" r="1.95"/><circle cx="317.94" cy="350.10" r="1.95"/><circle cx="319.18" cy="347.80" r="1.95"/><circle cx="320.42" cy="347.66" r="1.95"/></g>
<rect x="29.2" y="5.8" width="293.0" height="481.2" fill="none" stroke="#6a6a6a" stroke-width="1.6"/>
<path d="M29.20,487.0 v6.5 M29.20,5.8 v3.6 M65.83,487.0 v3 M65.83,5.8 v2.4 M102.45,487.0 v6.5 M102.45,5.8 v3.6 M139.07,487.0 v3 M139.07,5.8 v2.4 M175.70,487.0 v6.5 M175.70,5.8 v3.6 M212.32,487.0 v3 M212.32,5.8 v2.4 M248.95,487.0 v6.5 M248.95,5.8 v3.6 M285.57,487.0 v3 M285.57,5.8 v2.4 M322.20,487.0 v6.5 M322.20,5.8 v3.6 M29.2,68.5 h2.4 M322.2,68.5 h-2.4 M29.2,107.8 h4.4 M322.2,107.8 h-4.4 M29.2,146.7 h2.4 M322.2,146.7 h-2.4 M29.2,155.3 h2.4 M322.2,155.3 h-2.4 M29.2,224.4 h2.4 M322.2,224.4 h-2.4 M29.2,258.2 h4.4 M322.2,258.2 h-4.4 M29.2,292.7 h2.4 M322.2,292.7 h-2.4 M29.2,324.4 h2.4 M322.2,324.4 h-2.4 M29.2,326.4 h4.4 M322.2,326.4 h-4.4 M29.2,370.7 h2.4 M322.2,370.7 h-2.4 M29.2,393.7 h4.4 M322.2,393.7 h-4.4 M29.2,416.7 h2.4 M322.2,416.7 h-2.4 M29.2,440.4 h4.4 M322.2,440.4 h-4.4 M29.2,463.4 h2.4 M322.2,463.4 h-2.4" stroke="#6a6a6a" stroke-width="1.3" fill="none"/>
<line x1="436.8" y1="86.4" x2="656.8" y2="86.4" stroke="#a2a2a2" stroke-width="1.3"/>
<line x1="436.8" y1="167.7" x2="656.8" y2="167.7" stroke="#e3e3e3" stroke-width="1.3"/>
<line x1="436.8" y1="248.2" x2="656.8" y2="248.2" stroke="#e3e3e3" stroke-width="1.3"/>
<line x1="436.8" y1="327.1" x2="656.8" y2="327.1" stroke="#e3e3e3" stroke-width="1.3"/>
<line x1="436.8" y1="407.4" x2="656.8" y2="407.4" stroke="#e3e3e3" stroke-width="1.3"/>
<path d="M656.8,6 L656.6,487.5 L438.3,487.5 L438.3,407.2 L437.2,407.2 L437.2,327.3 L436.6,327.3 L436.6,6" fill="none" stroke="#8a8a8a" stroke-width="1.3"/>
<line x1="436.1" y1="6" x2="657.3" y2="6" stroke="#a8a8a8" stroke-width="1.2"/>
<defs><clipPath id="c1"><rect x="430" y="0" width="240" height="86.4"/></clipPath><clipPath id="c4"><rect x="430" y="160" width="240" height="88.2"/></clipPath><clipPath id="c0"><rect x="430" y="320" width="240" height="87.4"/></clipPath></defs>
<g clip-path="url(#c1)"><path d="M437.80,85.50 L446.55,85.50 L455.30,85.50 L464.05,85.40 L472.80,85.20 L481.55,85.20 L490.30,85.30 L499.05,85.50 L507.80,85.50 L516.55,84.80 L525.30,82.80 L534.05,79.70 L542.80,78.10 L551.55,79.10 L560.30,80.30 L569.05,78.10 L577.80,69.70 L586.55,55.20 L595.30,38.20 L604.05,27.60 L612.80,31.70 L621.55,50.10 L630.30,73.20 L639.05,85.40 L647.80,85.40" fill="none" stroke="#555" stroke-width="0.85"/><g fill="#000"><rect x="436.15" y="84.00" width="3.3" height="3.0"/><rect x="444.90" y="84.00" width="3.3" height="3.0"/><rect x="453.65" y="84.00" width="3.3" height="3.0"/><rect x="462.40" y="83.90" width="3.3" height="3.0"/><rect x="471.15" y="83.70" width="3.3" height="3.0"/><rect x="479.90" y="83.70" width="3.3" height="3.0"/><rect x="488.65" y="83.80" width="3.3" height="3.0"/><rect x="497.40" y="84.00" width="3.3" height="3.0"/><rect x="506.15" y="84.00" width="3.3" height="3.0"/><rect x="514.90" y="83.30" width="3.3" height="3.0"/><rect x="523.65" y="81.30" width="3.3" height="3.0"/><rect x="532.40" y="78.20" width="3.3" height="3.0"/><rect x="541.15" y="76.60" width="3.3" height="3.0"/><rect x="549.90" y="77.60" width="3.3" height="3.0"/><rect x="558.65" y="78.80" width="3.3" height="3.0"/><rect x="567.40" y="76.60" width="3.3" height="3.0"/><rect x="576.15" y="68.20" width="3.3" height="3.0"/><rect x="584.90" y="53.70" width="3.3" height="3.0"/><rect x="593.65" y="36.70" width="3.3" height="3.0"/><rect x="602.40" y="26.10" width="3.3" height="3.0"/><rect x="611.15" y="30.20" width="3.3" height="3.0"/><rect x="619.90" y="48.60" width="3.3" height="3.0"/><rect x="628.65" y="71.70" width="3.3" height="3.0"/><rect x="637.40" y="83.90" width="3.3" height="3.0"/><rect x="646.15" y="83.90" width="3.3" height="3.0"/></g></g>
<g clip-path="url(#c4)"><path d="M437.80,246.90 L446.55,246.90 L455.30,246.40 L464.05,245.80 L472.80,244.80 L481.55,244.30 L490.30,243.10 L499.05,240.30 L507.80,235.00 L516.55,227.40 L525.30,220.70 L534.05,216.40 L542.80,213.50 L551.55,208.60 L560.30,198.50 L569.05,186.20 L577.80,182.50 L586.55,193.50 L595.30,215.60 L604.05,236.20 L612.80,247.30 L621.55,247.30" fill="none" stroke="#555" stroke-width="0.85"/><g fill="#000"><rect x="436.15" y="245.40" width="3.3" height="3.0"/><rect x="444.90" y="245.40" width="3.3" height="3.0"/><rect x="453.65" y="244.90" width="3.3" height="3.0"/><rect x="462.40" y="244.30" width="3.3" height="3.0"/><rect x="471.15" y="243.30" width="3.3" height="3.0"/><rect x="479.90" y="242.80" width="3.3" height="3.0"/><rect x="488.65" y="241.60" width="3.3" height="3.0"/><rect x="497.40" y="238.80" width="3.3" height="3.0"/><rect x="506.15" y="233.50" width="3.3" height="3.0"/><rect x="514.90" y="225.90" width="3.3" height="3.0"/><rect x="523.65" y="219.20" width="3.3" height="3.0"/><rect x="532.40" y="214.90" width="3.3" height="3.0"/><rect x="541.15" y="212.00" width="3.3" height="3.0"/><rect x="549.90" y="207.10" width="3.3" height="3.0"/><rect x="558.65" y="197.00" width="3.3" height="3.0"/><rect x="567.40" y="184.70" width="3.3" height="3.0"/><rect x="576.15" y="181.00" width="3.3" height="3.0"/><rect x="584.90" y="192.00" width="3.3" height="3.0"/><rect x="593.65" y="214.10" width="3.3" height="3.0"/><rect x="602.40" y="234.70" width="3.3" height="3.0"/><rect x="611.15" y="245.80" width="3.3" height="3.0"/><rect x="619.90" y="245.80" width="3.3" height="3.0"/></g></g>
<g clip-path="url(#c0)"><path d="M437.80,406.90 L446.55,406.70 L455.30,406.00 L464.05,406.00 L472.80,406.40 L481.55,406.90 L490.30,406.90 L499.05,405.80 L507.80,400.70 L516.55,394.40 L525.30,388.70 L534.05,384.50 L542.80,380.40 L551.55,371.20 L560.30,356.10 L569.05,340.40 L577.80,335.30 L586.55,348.60 L595.30,376.20 L604.05,406.90 L612.80,406.90" fill="none" stroke="#555" stroke-width="0.85"/><g fill="#000"><rect x="436.15" y="405.40" width="3.3" height="3.0"/><rect x="444.90" y="405.20" width="3.3" height="3.0"/><rect x="453.65" y="404.50" width="3.3" height="3.0"/><rect x="462.40" y="404.50" width="3.3" height="3.0"/><rect x="471.15" y="404.90" width="3.3" height="3.0"/><rect x="479.90" y="405.40" width="3.3" height="3.0"/><rect x="488.65" y="405.40" width="3.3" height="3.0"/><rect x="497.40" y="404.30" width="3.3" height="3.0"/><rect x="506.15" y="399.20" width="3.3" height="3.0"/><rect x="514.90" y="392.90" width="3.3" height="3.0"/><rect x="523.65" y="387.20" width="3.3" height="3.0"/><rect x="532.40" y="383.00" width="3.3" height="3.0"/><rect x="541.15" y="378.90" width="3.3" height="3.0"/><rect x="549.90" y="369.70" width="3.3" height="3.0"/><rect x="558.65" y="354.60" width="3.3" height="3.0"/><rect x="567.40" y="338.90" width="3.3" height="3.0"/><rect x="576.15" y="333.80" width="3.3" height="3.0"/><rect x="584.90" y="347.10" width="3.3" height="3.0"/><rect x="593.65" y="374.70" width="3.3" height="3.0"/><rect x="602.40" y="405.40" width="3.3" height="3.0"/><rect x="611.15" y="405.40" width="3.3" height="3.0"/></g></g>
<path d="M437.80,164.50 L446.55,161.77 L455.30,159.04 L464.05,156.31 L472.80,153.58 L481.55,150.85 L490.30,148.12 L499.05,145.39 L507.80,142.66 L516.55,139.93 L525.30,137.20 L534.05,134.47 L542.80,131.74 L551.55,129.01 L560.30,126.28 L569.05,123.55 L577.80,120.82 L586.55,118.09 L595.30,115.36 L604.05,112.63 L612.80,109.90 L621.55,107.17 L630.30,104.44 L639.05,101.71 L647.80,98.98" fill="none" stroke="#555" stroke-width="0.85"/><g fill="#000"><rect x="436.15" y="163.00" width="3.3" height="3.0"/><rect x="444.90" y="160.27" width="3.3" height="3.0"/><rect x="453.65" y="157.54" width="3.3" height="3.0"/><rect x="462.40" y="154.81" width="3.3" height="3.0"/><rect x="471.15" y="152.08" width="3.3" height="3.0"/><rect x="479.90" y="149.35" width="3.3" height="3.0"/><rect x="488.65" y="146.62" width="3.3" height="3.0"/><rect x="497.40" y="143.89" width="3.3" height="3.0"/><rect x="506.15" y="141.16" width="3.3" height="3.0"/><rect x="514.90" y="138.43" width="3.3" height="3.0"/><rect x="523.65" y="135.70" width="3.3" height="3.0"/><rect x="532.40" y="132.97" width="3.3" height="3.0"/><rect x="541.15" y="130.24" width="3.3" height="3.0"/><rect x="549.90" y="127.51" width="3.3" height="3.0"/><rect x="558.65" y="124.78" width="3.3" height="3.0"/><rect x="567.40" y="122.05" width="3.3" height="3.0"/><rect x="576.15" y="119.32" width="3.3" height="3.0"/><rect x="584.90" y="116.59" width="3.3" height="3.0"/><rect x="593.65" y="113.86" width="3.3" height="3.0"/><rect x="602.40" y="111.13" width="3.3" height="3.0"/><rect x="611.15" y="108.40" width="3.3" height="3.0"/><rect x="619.90" y="105.67" width="3.3" height="3.0"/><rect x="628.65" y="102.94" width="3.3" height="3.0"/><rect x="637.40" y="100.21" width="3.3" height="3.0"/><rect x="646.15" y="97.48" width="3.3" height="3.0"/></g>
<path d="M437.80,254.80 L446.55,258.06 L455.30,261.32 L464.05,264.58 L472.80,267.84 L481.55,271.10 L490.30,274.36 L499.05,277.62 L507.80,280.88 L516.55,284.14 L525.30,287.40 L534.05,290.66 L542.80,293.92 L551.55,297.18 L560.30,300.44 L569.05,303.70 L577.80,306.96 L586.55,310.22 L595.30,313.48 L604.05,316.74 L612.80,320.00" fill="none" stroke="#555" stroke-width="0.85"/><g fill="#000"><rect x="436.15" y="253.30" width="3.3" height="3.0"/><rect x="444.90" y="256.56" width="3.3" height="3.0"/><rect x="453.65" y="259.82" width="3.3" height="3.0"/><rect x="462.40" y="263.08" width="3.3" height="3.0"/><rect x="471.15" y="266.34" width="3.3" height="3.0"/><rect x="479.90" y="269.60" width="3.3" height="3.0"/><rect x="488.65" y="272.86" width="3.3" height="3.0"/><rect x="497.40" y="276.12" width="3.3" height="3.0"/><rect x="506.15" y="279.38" width="3.3" height="3.0"/><rect x="514.90" y="282.64" width="3.3" height="3.0"/><rect x="523.65" y="285.90" width="3.3" height="3.0"/><rect x="532.40" y="289.16" width="3.3" height="3.0"/><rect x="541.15" y="292.42" width="3.3" height="3.0"/><rect x="549.90" y="295.68" width="3.3" height="3.0"/><rect x="558.65" y="298.94" width="3.3" height="3.0"/><rect x="567.40" y="302.20" width="3.3" height="3.0"/><rect x="576.15" y="305.46" width="3.3" height="3.0"/><rect x="584.90" y="308.72" width="3.3" height="3.0"/><rect x="593.65" y="311.98" width="3.3" height="3.0"/><rect x="602.40" y="315.24" width="3.3" height="3.0"/><rect x="611.15" y="318.50" width="3.3" height="3.0"/></g>
<path d="M437.80,417.50 L446.55,420.92 L455.30,424.34 L464.05,427.76 L472.80,431.18 L481.55,434.60 L490.30,438.02 L499.05,441.44 L507.80,444.86 L516.55,448.28 L525.30,451.70 L534.05,455.12 L542.80,458.54 L551.55,461.96 L560.30,465.38 L569.05,468.80 L577.80,472.22 L586.55,475.64 L595.30,479.06 L604.05,482.48" fill="none" stroke="#555" stroke-width="0.85"/><g fill="#000"><rect x="436.15" y="416.00" width="3.3" height="3.0"/><rect x="444.90" y="419.42" width="3.3" height="3.0"/><rect x="453.65" y="422.84" width="3.3" height="3.0"/><rect x="462.40" y="426.26" width="3.3" height="3.0"/><rect x="471.15" y="429.68" width="3.3" height="3.0"/><rect x="479.90" y="433.10" width="3.3" height="3.0"/><rect x="488.65" y="436.52" width="3.3" height="3.0"/><rect x="497.40" y="439.94" width="3.3" height="3.0"/><rect x="506.15" y="443.36" width="3.3" height="3.0"/><rect x="514.90" y="446.78" width="3.3" height="3.0"/><rect x="523.65" y="450.20" width="3.3" height="3.0"/><rect x="532.40" y="453.62" width="3.3" height="3.0"/><rect x="541.15" y="457.04" width="3.3" height="3.0"/><rect x="549.90" y="460.46" width="3.3" height="3.0"/><rect x="558.65" y="463.88" width="3.3" height="3.0"/><rect x="567.40" y="467.30" width="3.3" height="3.0"/><rect x="576.15" y="470.72" width="3.3" height="3.0"/><rect x="584.90" y="474.14" width="3.3" height="3.0"/><rect x="593.65" y="477.56" width="3.3" height="3.0"/><rect x="602.40" y="480.98" width="3.3" height="3.0"/></g>
<path d="M437.80,487.5 v4 M437.80,6.0 v2.2 M459.68,487.5 v2.2 M459.68,6.0 v1.6 M481.55,487.5 v4 M481.55,6.0 v2.2 M503.43,487.5 v2.2 M503.43,6.0 v1.6 M525.30,487.5 v4 M525.30,6.0 v2.2 M547.17,487.5 v2.2 M547.17,6.0 v1.6 M569.05,487.5 v4 M569.05,6.0 v2.2 M590.92,487.5 v2.2 M590.92,6.0 v1.6 M612.80,487.5 v4 M612.80,6.0 v2.2 M634.67,487.5 v2.2 M634.67,6.0 v1.6 M656.55,487.5 v4 M656.55,6.0 v2.2 M437.3,25.5 h2.2 M437.3,46.6 h2.2 M437.3,66.4 h2.2 M437.3,97.1 h2.2 M437.3,118 h2.2 M437.3,139.2 h2.2 M437.3,183.2 h2.2 M437.3,205.2 h2.2 M437.3,226.4 h2.2 M437.3,271.3 h2.2 M437.3,287.4 h2.2 M437.3,303.6 h2.2 M437.3,319.3 h2.2 M437.3,353.8 h2.2 M437.3,380.4 h2.2 M437.3,441.3 h2.2 M437.3,464 h2.2 M656.8,26.2 h-2.2 M656.8,46.4 h-2.2 M656.8,66 h-2.2 M656.8,97 h-2.2 M656.8,118 h-2.2 M656.8,139.3 h-2.2 M656.8,183 h-2.2 M656.8,205.5 h-2.2 M656.8,226 h-2.2 M656.8,256.2 h-2.2 M656.8,271.9 h-2.2 M656.8,287.7 h-2.2 M656.8,303.5 h-2.2 M656.8,319.2 h-2.2 M656.8,354.5 h-2.2 M656.8,380.7 h-2.2 M656.8,418.6 h-2.2 M656.8,441.3 h-2.2 M656.8,464 h-2.2" stroke="#8a8a8a" stroke-width="1.1" fill="none"/>
<g fill="#000"><g transform="translate(29.2,512.8) scale(1,1.1)"><text x="0" y="0" text-anchor="middle" style="font-family:'Liberation Sans',sans-serif;font-weight:bold;font-size:18px;" >-4</text></g>
<g transform="translate(102.4,512.8) scale(1,1.1)"><text x="0" y="0" text-anchor="middle" style="font-family:'Liberation Sans',sans-serif;font-weight:bold;font-size:18px;" >-2</text></g>
<g transform="translate(175.6,512.8) scale(1,1.1)"><text x="0" y="0" text-anchor="middle" style="font-family:'Liberation Sans',sans-serif;font-weight:bold;font-size:18px;" >0</text></g>
<g transform="translate(248.8,512.8) scale(1,1.1)"><text x="0" y="0" text-anchor="middle" style="font-family:'Liberation Sans',sans-serif;font-weight:bold;font-size:18px;" >2</text></g>
<g transform="translate(322.0,512.8) scale(1,1.1)"><text x="0" y="0" text-anchor="middle" style="font-family:'Liberation Sans',sans-serif;font-weight:bold;font-size:18px;" >4</text></g>
<g transform="translate(174.9,539.5) scale(1.037,1)"><text x="0" y="0" text-anchor="middle" style="font-family:'Liberation Sans',sans-serif;font-weight:bold;font-size:27px;" ><tspan style="font-style:italic">v</tspan>, mm/s</text></g>
<text x="267.5" y="122.9" text-anchor="middle" style="font-family:'Liberation Serif',serif;font-weight:bold;font-size:19px;" >x=1</text>
<text x="280" y="290.1" text-anchor="middle" style="font-family:'Liberation Serif',serif;font-weight:bold;font-size:19px;" >x=0.4</text>
<text x="275" y="449.3" text-anchor="middle" style="font-family:'Liberation Serif',serif;font-weight:bold;font-size:19.5px;" >x=0.0</text>
<text x="51.5" y="465.5" text-anchor="middle" style="font-family:'Liberation Serif',serif;font-weight:bold;font-size:29px;" >a</text>
<text transform="translate(18.7,247.1) rotate(-90) scale(0.96,1)" text-anchor="middle" style="font-family:'Liberation Serif',serif;font-weight:bold;font-size:26px;">Relative transmission</text>
<g transform="translate(438.3,508.2) scale(1,1.12)"><text x="0" y="0" text-anchor="middle" style="font-family:'Liberation Sans',sans-serif;font-weight:bold;font-size:18px;letter-spacing:1px;" >0.0</text></g>
<g transform="translate(482.1,508.2) scale(1,1.12)"><text x="0" y="0" text-anchor="middle" style="font-family:'Liberation Sans',sans-serif;font-weight:bold;font-size:18px;letter-spacing:1px;" >0.5</text></g>
<g transform="translate(525.8,508.2) scale(1,1.12)"><text x="0" y="0" text-anchor="middle" style="font-family:'Liberation Sans',sans-serif;font-weight:bold;font-size:18px;letter-spacing:1px;" >1.0</text></g>
<g transform="translate(569.5,508.2) scale(1,1.12)"><text x="0" y="0" text-anchor="middle" style="font-family:'Liberation Sans',sans-serif;font-weight:bold;font-size:18px;letter-spacing:1px;" >1.5</text></g>
<g transform="translate(613.3,508.2) scale(1,1.12)"><text x="0" y="0" text-anchor="middle" style="font-family:'Liberation Sans',sans-serif;font-weight:bold;font-size:18px;letter-spacing:1px;" >2.0</text></g>
<g transform="translate(657.0,508.2) scale(1,1.12)"><text x="0" y="0" text-anchor="middle" style="font-family:'Liberation Sans',sans-serif;font-weight:bold;font-size:18px;letter-spacing:1px;" >2.5</text></g>
<g transform="translate(545.3,543.2) scale(1.02,1)"><text x="0" y="0" text-anchor="middle" style="font-family:'Liberation Sans',sans-serif;font-weight:bold;font-size:27px;" ><tspan style="font-weight:normal">&#916;</tspan>, mm/s</text></g>
<text x="424.5" y="52.2" text-anchor="end" style="font-family:'Liberation Serif',serif;font-weight:bold;font-size:17px;" ><tspan style="letter-spacing:0.4px">P(</tspan><tspan style="font-style:italic;font-weight:normal;letter-spacing:0.4px">&#916;</tspan><tspan style="letter-spacing:0.4px">)</tspan>, mm/s</text>
<text x="424.5" y="212" text-anchor="end" style="font-family:'Liberation Serif',serif;font-weight:bold;font-size:17px;" ><tspan style="letter-spacing:0.4px">P(</tspan><tspan style="font-style:italic;font-weight:normal;letter-spacing:0.4px">&#916;</tspan><tspan style="letter-spacing:0.4px">)</tspan>, mm/s</text>
<text x="424.5" y="371.4" text-anchor="end" style="font-family:'Liberation Serif',serif;font-weight:bold;font-size:17px;" ><tspan style="letter-spacing:0.4px">P(</tspan><tspan style="font-style:italic;font-weight:normal;letter-spacing:0.4px">&#916;</tspan><tspan style="letter-spacing:0.4px">)</tspan>, mm/s</text>
<text x="424.5" y="128.4" text-anchor="end" style="font-family:'Liberation Serif',serif;font-weight:bold;font-size:17px;" ><tspan style="font-style:italic;font-weight:normal">&#948;</tspan>, mm/s</text>
<text x="424.5" y="292" text-anchor="end" style="font-family:'Liberation Serif',serif;font-weight:bold;font-size:17px;" ><tspan style="font-style:italic;font-weight:normal">&#948;</tspan>, mm/s</text>
<text x="424.5" y="453" text-anchor="end" style="font-family:'Liberation Serif',serif;font-weight:bold;font-size:17px;" ><tspan style="font-style:italic;font-weight:normal">&#948;</tspan>, mm/s</text>
<text x="658.8" y="10.5" text-anchor="start" style="font-family:'Liberation Serif',serif;font-weight:bold;font-size:14px;" >0.02</text>
<text x="658.8" y="50.7" text-anchor="start" style="font-family:'Liberation Serif',serif;font-weight:bold;font-size:14px;" >0.01</text>
<text x="658.8" y="90" text-anchor="start" style="font-family:'Liberation Serif',serif;font-weight:bold;font-size:14px;" >0.00</text>
<text x="658.8" y="101.2" text-anchor="start" style="font-family:'Liberation Serif',serif;font-weight:bold;font-size:14px;" >0.30</text>
<text x="658.8" y="143.5" text-anchor="start" style="font-family:'Liberation Serif',serif;font-weight:bold;font-size:14px;" >0.28</text>
<text x="658.8" y="210" text-anchor="start" style="font-family:'Liberation Serif',serif;font-weight:bold;font-size:14px;" >0.02</text>
<text x="658.8" y="251.6" text-anchor="start" style="font-family:'Liberation Serif',serif;font-weight:bold;font-size:14px;" >0.00</text>
<text x="658.8" y="260.4" text-anchor="start" style="font-family:'Liberation Serif',serif;font-weight:bold;font-size:14px;" >0.37</text>
<text x="658.8" y="292.1" text-anchor="start" style="font-family:'Liberation Serif',serif;font-weight:bold;font-size:14px;" >0.36</text>
<text x="658.8" y="323.8" text-anchor="start" style="font-family:'Liberation Serif',serif;font-weight:bold;font-size:14px;" >0.35</text>
<text x="658.8" y="358.8" text-anchor="start" style="font-family:'Liberation Serif',serif;font-weight:bold;font-size:14px;" >0.02</text>
<text x="658.8" y="411" text-anchor="start" style="font-family:'Liberation Serif',serif;font-weight:bold;font-size:14px;" >0.00</text>
<text x="658.8" y="423.2" text-anchor="start" style="font-family:'Liberation Serif',serif;font-weight:bold;font-size:14px;" >0.38</text>
<text x="658.8" y="469.1" text-anchor="start" style="font-family:'Liberation Serif',serif;font-weight:bold;font-size:14px;" >0.36</text>
<text x="633.5" y="141.7" text-anchor="middle" style="font-family:'Liberation Serif',serif;font-weight:bold;font-size:19px;" >x=1</text>
<text x="627" y="294.2" text-anchor="middle" style="font-family:'Liberation Serif',serif;font-weight:bold;font-size:19px;" >x=0.4</text>
<text x="627.3" y="453.8" text-anchor="middle" style="font-family:'Liberation Serif',serif;font-weight:bold;font-size:19.6px;" >x=0.0</text>
<text x="456.4" y="476.0" text-anchor="middle" style="font-family:'Liberation Serif',serif;font-weight:bold;font-size:27px;" >b</text>
<text x="459.4" y="123.3" text-anchor="start" style="font-family:'Liberation Serif',serif;font-size:19px;" ><tspan style="font-style:italic">&#948;</tspan>=a+b</text>
<g transform="translate(509.3,123.3) scale(1.14,1)"><text x="0" y="0" text-anchor="start" style="font-family:'Liberation Serif',serif;font-size:19px;font-style:italic;" >&#916;</text></g></g></svg>
</body></html>
